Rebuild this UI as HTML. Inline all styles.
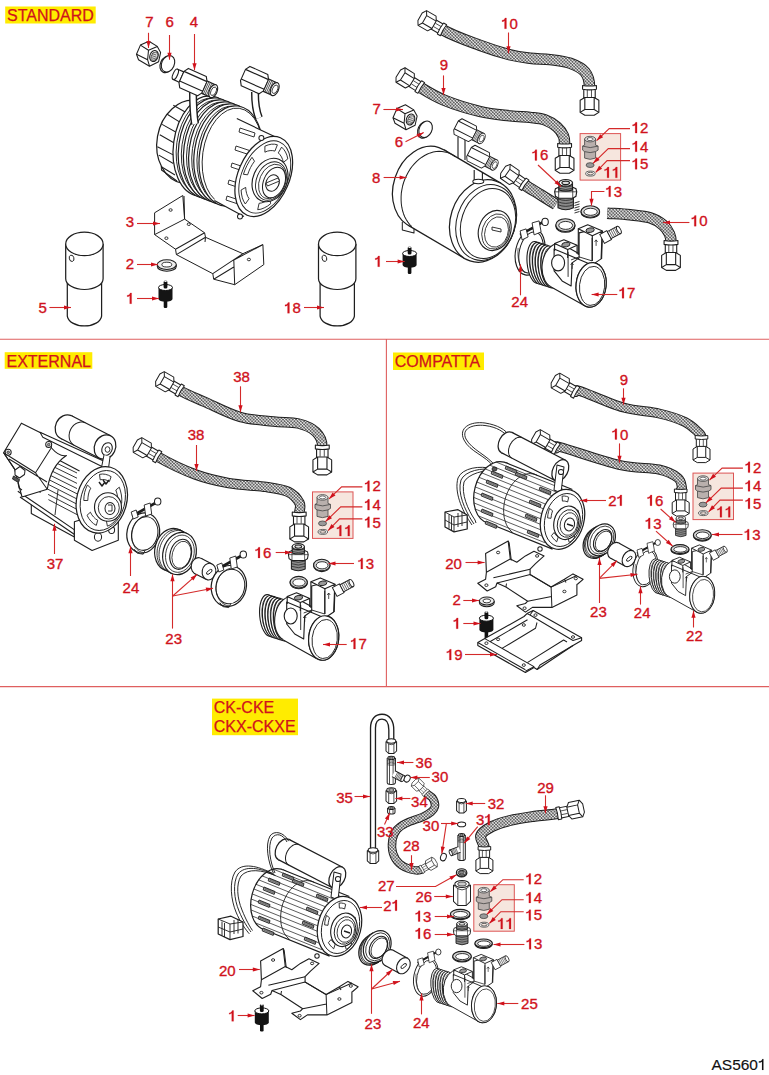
<!DOCTYPE html>
<html><head><meta charset="utf-8"><style>
html,body{margin:0;padding:0;background:#fff;}
svg{position:absolute;left:0;top:0;display:block;}
text{font-family:"Liberation Sans",sans-serif;}
</style></head><body>
<svg width="769" height="1075" viewBox="0 0 769 1075">
<defs>
<pattern id="br" patternUnits="userSpaceOnUse" width="2.3" height="2.3" patternTransform="rotate(45)">
<rect width="2.3" height="2.3" fill="#222"/><circle cx="1.15" cy="1.15" r="0.98" fill="#fff"/>
</pattern>
</defs>
<rect width="769" height="1075" fill="#fff"/>
<g stroke="#df5f5f" stroke-width="1.1">
<line x1="0" y1="339.3" x2="769" y2="339.3"/>
<line x1="386.4" y1="339" x2="386.4" y2="686.5"/>
<line x1="0" y1="686.6" x2="769" y2="686.6"/>
</g>
<g transform="translate(0,0)">
<path d="M67.3,282 L67.3,316.1 A17.2,10.7 0 0 0 101.6,316.1 L101.6,282" fill="#fff" stroke="#1e1e1e" stroke-width="1.23" stroke-linejoin="round" />
<path d="M65.7,243.9 L65.7,278.7 A18.7,10.8 0 0 0 103.1,278.7 L103.1,243.9" fill="#fff" stroke="#1e1e1e" stroke-width="1.23" stroke-linejoin="round" />
<ellipse cx="84.4" cy="243.9" rx="18.7" ry="11.7" transform="rotate(0 84.4 243.9)" fill="#fff" stroke="#1e1e1e" stroke-width="1.23"/>
<ellipse cx="71.6" cy="258.3" rx="2.3" ry="3.2" transform="rotate(-15 71.6 258.3)" fill="#fff" stroke="#1e1e1e" stroke-width="0.90"/>
</g>
<g transform="translate(252.8,0)">
<path d="M67.3,282 L67.3,316.1 A17.2,10.7 0 0 0 101.6,316.1 L101.6,282" fill="#fff" stroke="#1e1e1e" stroke-width="1.23" stroke-linejoin="round" />
<path d="M65.7,243.9 L65.7,278.7 A18.7,10.8 0 0 0 103.1,278.7 L103.1,243.9" fill="#fff" stroke="#1e1e1e" stroke-width="1.23" stroke-linejoin="round" />
<ellipse cx="84.4" cy="243.9" rx="18.7" ry="11.7" transform="rotate(0 84.4 243.9)" fill="#fff" stroke="#1e1e1e" stroke-width="1.23"/>
<ellipse cx="71.6" cy="258.3" rx="2.3" ry="3.2" transform="rotate(-15 71.6 258.3)" fill="#fff" stroke="#1e1e1e" stroke-width="0.90"/>
</g>
<g transform="translate(149,54)" fill="#fff" stroke="#1e1e1e" stroke-width="1.05" stroke-linejoin="round">
<path d="M-8.6,-8.9 L-0.1,-12.8 L8.3,-7.6 L11.6,-1.4 L9.6,7.7 L0.5,12.2 L-10.5,5.7 L-12.5,0.2 Z"/>
<path d="M-8.6,-8.9 L-0.5,-3.7 L8.3,-7.6 M-0.5,-3.7 L-1.4,5.7 L0.5,12.2 M-12.5,0.2 L-1.4,5.7" fill="none"/>
<ellipse cx="5" cy="2" rx="4.1" ry="5.6" transform="rotate(20 5 2)"/>
<ellipse cx="5.4" cy="2.3" rx="3" ry="4.3" transform="rotate(20 5.4 2.3)" fill="#ddd" stroke-width="0.6"/>
<path d="M2.8,-0.5 L7.2,1 M2.5,1.5 L7.4,3.2 M2.6,3.6 L7,5.2" fill="none" stroke-width="0.6"/>
</g>
<ellipse cx="166.7" cy="64.39999999999999" rx="6.3" ry="8.6" transform="rotate(25 166.7 64.39999999999999)" fill="#fff" stroke="#1e1e1e" stroke-width="1.12"/>
<ellipse cx="168" cy="63.8" rx="6.3" ry="8.6" transform="rotate(25 168 63.8)" fill="#fff" stroke="#1e1e1e" stroke-width="1.12"/>
<ellipse cx="190" cy="142" rx="33" ry="42" transform="rotate(10 190 142)" fill="#fff" stroke="#1e1e1e" stroke-width="1.23"/>
<path d="M173.3,105.3 L189.1,114.2 M167.2,114.2 L183.5,124.4 M162.1,124.4 L178.8,133.7 M159.8,134.7 L176,144 M157.4,146.7 L173.7,155.1 M158.8,155.1 L173.3,163.5 M161,166.5 L175,175 M161.2,166.3 L161.5,170 L177,181" fill="none" stroke="#1e1e1e" stroke-width="1.01" stroke-linejoin="round" />
<ellipse cx="205.0" cy="146.0" rx="31.5" ry="50.5" transform="rotate(8 205.0 146.0)" fill="#fff" stroke="#1e1e1e" stroke-width="1.23"/>
<ellipse cx="206.4" cy="146.6" rx="29.8" ry="48.8" transform="rotate(8 206.4 146.6)" fill="none" stroke="#1e1e1e" stroke-width="0.90"/>
<ellipse cx="210.2" cy="148.0" rx="31.5" ry="50.5" transform="rotate(8 210.2 148.0)" fill="#fff" stroke="#1e1e1e" stroke-width="1.23"/>
<ellipse cx="211.6" cy="148.6" rx="29.8" ry="48.8" transform="rotate(8 211.6 148.6)" fill="none" stroke="#1e1e1e" stroke-width="0.90"/>
<ellipse cx="215.4" cy="150.0" rx="31.5" ry="50.5" transform="rotate(8 215.4 150.0)" fill="#fff" stroke="#1e1e1e" stroke-width="1.23"/>
<ellipse cx="216.8" cy="150.6" rx="29.8" ry="48.8" transform="rotate(8 216.8 150.6)" fill="none" stroke="#1e1e1e" stroke-width="0.90"/>
<ellipse cx="220.6" cy="152.0" rx="31.5" ry="50.5" transform="rotate(8 220.6 152.0)" fill="#fff" stroke="#1e1e1e" stroke-width="1.23"/>
<ellipse cx="222.0" cy="152.6" rx="29.8" ry="48.8" transform="rotate(8 222.0 152.6)" fill="none" stroke="#1e1e1e" stroke-width="0.90"/>
<ellipse cx="225.8" cy="154.0" rx="31.5" ry="50.5" transform="rotate(8 225.8 154.0)" fill="#fff" stroke="#1e1e1e" stroke-width="1.23"/>
<ellipse cx="227.20000000000002" cy="154.6" rx="29.8" ry="48.8" transform="rotate(8 227.20000000000002 154.6)" fill="none" stroke="#1e1e1e" stroke-width="0.90"/>
<ellipse cx="231.0" cy="156.0" rx="31.5" ry="50.5" transform="rotate(8 231.0 156.0)" fill="#fff" stroke="#1e1e1e" stroke-width="1.23"/>
<ellipse cx="232.4" cy="156.6" rx="29.8" ry="48.8" transform="rotate(8 232.4 156.6)" fill="none" stroke="#1e1e1e" stroke-width="0.90"/>
<path d="M236.8,118.5 L274.5,136.5 L244,216.5 L214.4,200.4 Z" fill="#fff" stroke="#1e1e1e" stroke-width="0.00" stroke-linejoin="round" />
<path d="M236.8,118.5 L274.5,136.6 M244,216.6 L214.4,200.4" fill="none" stroke="#1e1e1e" stroke-width="1.12" stroke-linejoin="round" />
<path d="M240,128 l15,5 l-1,4 l-15,-5 Z" fill="#fff" stroke="#1e1e1e" stroke-width="0.90" stroke-linejoin="round" />
<path d="M236,146 l15,5 l-1,4 l-15,-5 Z" fill="#fff" stroke="#1e1e1e" stroke-width="0.90" stroke-linejoin="round" />
<path d="M232,163 l15,5 l-1,4 l-15,-5 Z" fill="#fff" stroke="#1e1e1e" stroke-width="0.90" stroke-linejoin="round" />
<path d="M229,180 l15,5 l-1,4 l-15,-5 Z" fill="#fff" stroke="#1e1e1e" stroke-width="0.90" stroke-linejoin="round" />
<path d="M227,196 l15,5 l-1,4 l-15,-5 Z" fill="#fff" stroke="#1e1e1e" stroke-width="0.90" stroke-linejoin="round" />
<ellipse cx="263.75" cy="176.45" rx="25.6" ry="42.2" transform="rotate(23.3 263.75 176.45)" fill="#fff" stroke="#1e1e1e" stroke-width="1.23"/>
<ellipse cx="264.75" cy="176.95" rx="23.040000000000003" ry="37.980000000000004" transform="rotate(23.3 264.75 176.95)" fill="none" stroke="#1e1e1e" stroke-width="0.90"/>
<path d="M281.6,147.1 L283.7,149.3 L285.5,152.0 L286.9,155.2 L287.8,158.9 L283.3,162.4 L282.6,159.5 L281.5,156.9 L280.0,154.7 L278.3,152.9 Z" fill="#fff" stroke="#1e1e1e" stroke-width="0.90" stroke-linejoin="round" />
<path d="M287.5,173.9 L286.5,178.5 L284.9,183.0 L283.0,187.5 L280.8,191.7 L277.6,188.8 L279.5,185.4 L281.0,181.8 L282.2,178.2 L283.1,174.5 Z" fill="#fff" stroke="#1e1e1e" stroke-width="0.90" stroke-linejoin="round" />
<path d="M270.7,203.7 L267.5,206.1 L264.2,207.9 L260.9,209.2 L257.7,209.7 L259.1,203.3 L261.7,202.9 L264.3,201.9 L266.9,200.4 L269.6,198.5 Z" fill="#fff" stroke="#1e1e1e" stroke-width="0.90" stroke-linejoin="round" />
<path d="M245.3,204.0 L243.6,201.1 L242.3,197.8 L241.5,194.0 L241.1,190.0 L245.7,187.4 L246.0,190.7 L246.7,193.7 L247.7,196.4 L249.1,198.7 Z" fill="#fff" stroke="#1e1e1e" stroke-width="0.90" stroke-linejoin="round" />
<path d="M243.4,174.3 L245.0,169.8 L247.0,165.4 L249.4,161.2 L252.0,157.3 L254.5,161.2 L252.4,164.3 L250.5,167.6 L248.9,171.2 L247.6,174.8 Z" fill="#fff" stroke="#1e1e1e" stroke-width="0.90" stroke-linejoin="round" />
<path d="M264.9,146.2 L268.2,144.9 L271.4,144.2 L274.5,144.2 L277.4,144.8 L274.9,151.1 L272.6,150.6 L270.1,150.6 L267.5,151.1 L264.9,152.2 Z" fill="#fff" stroke="#1e1e1e" stroke-width="0.90" stroke-linejoin="round" />
<ellipse cx="270" cy="180" rx="17" ry="22.5" transform="rotate(23.3 270 180)" fill="#fff" stroke="#1e1e1e" stroke-width="1.12"/>
<ellipse cx="271" cy="181" rx="14.5" ry="20" transform="rotate(23.3 271 181)" fill="none" stroke="#1e1e1e" stroke-width="0.90"/>
<ellipse cx="272" cy="181.5" rx="12.5" ry="18" transform="rotate(23.3 272 181.5)" fill="none" stroke="#1e1e1e" stroke-width="0.78"/>
<ellipse cx="274" cy="182.5" rx="10.5" ry="16" transform="rotate(23.3 274 182.5)" fill="#fff" stroke="#1e1e1e" stroke-width="1.01"/>
<ellipse cx="272.5" cy="183" rx="6.5" ry="8.5" transform="rotate(23.3 272.5 183)" fill="#fff" stroke="#1e1e1e" stroke-width="1.01"/>
<path d="M266,183 L278,178 L279.5,181 L267.5,186 Z" fill="#fff" stroke="#1e1e1e" stroke-width="0.90" stroke-linejoin="round" />
<ellipse cx="261.4" cy="138" rx="2.5" ry="2.5" transform="rotate(0 261.4 138)" fill="#fff" stroke="#1e1e1e" stroke-width="1.01"/>
<ellipse cx="240" cy="216.5" rx="2.5" ry="2.5" transform="rotate(0 240 216.5)" fill="#fff" stroke="#1e1e1e" stroke-width="1.01"/>
<path d="M193,90 C193,102 193,112 195,124" fill="none" stroke="#1e1e1e" stroke-width="8.06" stroke-linejoin="round" />
<path d="M193,90 C193,102 193,112 195,124" fill="none" stroke="#fff" stroke-width="5.2"/>
<path d="M255,92 C255,102 255.5,110 259,118" fill="none" stroke="#1e1e1e" stroke-width="8.06" stroke-linejoin="round" />
<path d="M255,92 C255,102 255.5,110 259,118" fill="none" stroke="#fff" stroke-width="5.2"/>
<g transform="translate(181.5,77) rotate(24) scale(1.12)" fill="#fff" stroke="#1e1e1e" stroke-width="1" stroke-linejoin="round">
<path d="M-6,-5 L0,-5 L0,5 L-6,5 Z"/>
<ellipse cx="-6" cy="0" rx="2" ry="5"/>
<path d="M0,-5.5 L2.5,-9.5 L20,-9.5 L22.5,-5.5 L22.5,5.5 L20,9.5 L2.5,9.5 L0,5.5 Z"/>
<path d="M0,-5.5 L22.5,-5.5 M0,4 L22.5,4" fill="none"/>
<path d="M22.5,-6 L31,-6 L31,6 L22.5,6 Z"/>
<path d="M24,-6 L24,6 M25.5,-6 L25.5,6 M27,-6 L27,6 M28.5,-6 L28.5,6" fill="none" stroke-width="0.6"/>
<ellipse cx="31" cy="0" rx="3.4" ry="6.2"/>
<ellipse cx="31.3" cy="0" rx="2.2" ry="4" stroke-width="0.7"/>
</g>
<g transform="translate(243,75) rotate(24) scale(1.12)" fill="#fff" stroke="#1e1e1e" stroke-width="1" stroke-linejoin="round">
<path d="M0,-5.5 L2.5,-9.5 L20,-9.5 L22.5,-5.5 L22.5,5.5 L20,9.5 L2.5,9.5 L0,5.5 Z"/>
<path d="M0,-5.5 L22.5,-5.5 M0,4 L22.5,4" fill="none"/>
<path d="M22.5,-6 L31,-6 L31,6 L22.5,6 Z"/>
<path d="M24,-6 L24,6 M25.5,-6 L25.5,6 M27,-6 L27,6 M28.5,-6 L28.5,6" fill="none" stroke-width="0.6"/>
<ellipse cx="31" cy="0" rx="3.4" ry="6.2"/>
<ellipse cx="31.3" cy="0" rx="2.2" ry="4" stroke-width="0.7"/>
</g>
<polygon points="154.6,212.8 182.8,195.5 184.6,219.1 204.6,232.8 205.5,237.3 242.9,253.7 262.9,244.6 263.8,264.6 234.7,284.7 213.7,279.2 212.8,273.7 176.4,254.6 175.5,249.2 154.6,234.6" fill="#fff" stroke="#1e1e1e" stroke-width="1" stroke-linejoin="round"/>
<path d="M184,196 L184.6,219.1 M154.6,234.6 L184.6,219.1 M175.5,249.2 L204.6,232.8 M176.4,254.6 L205.5,237.3 M212.8,273.7 L242.9,253.7 M213.7,279.2 L233.8,267 M233.8,260 L234.7,284.7 M233.8,260 L262.9,244.6 M205.5,237.3 L205,242" fill="none" stroke="#1e1e1e" stroke-width="1.01" stroke-linejoin="round" />
<ellipse cx="170.6" cy="210" rx="1.6" ry="1.3" transform="rotate(0 170.6 210)" fill="#fff" stroke="#1e1e1e" stroke-width="0.90"/>
<ellipse cx="188.8" cy="224.2" rx="1.6" ry="1.3" transform="rotate(0 188.8 224.2)" fill="#fff" stroke="#1e1e1e" stroke-width="0.90"/>
<ellipse cx="166.4" cy="238.2" rx="1.6" ry="1.3" transform="rotate(0 166.4 238.2)" fill="#fff" stroke="#1e1e1e" stroke-width="0.90"/>
<ellipse cx="248.9" cy="259.5" rx="1.6" ry="1.3" transform="rotate(0 248.9 259.5)" fill="#fff" stroke="#1e1e1e" stroke-width="0.90"/>
<path d="M157.3,264.6 L157.3,266.40000000000003 A9.5,4.8 0 0 0 176.3,266.40000000000003 L176.3,264.6" fill="#ddd" stroke="#1e1e1e" stroke-width="1.01" stroke-linejoin="round" />
<ellipse cx="166.8" cy="264.6" rx="9.5" ry="4.8" transform="rotate(0 166.8 264.6)" fill="#eee" stroke="#1e1e1e" stroke-width="1.01"/>
<ellipse cx="166.8" cy="264.6" rx="4.94" ry="2.4" transform="rotate(0 166.8 264.6)" fill="#fff" stroke="#1e1e1e" stroke-width="0.90"/>
<g transform="translate(165.5,280)">
<rect x="-1.8" y="19" width="3.6" height="9" rx="1.2" fill="#111"/>
<path d="M-7,7.5 L-7,19 A7,2.8 0 0 0 7,19 L7,7.5 Z" fill="#141414"/>
<ellipse cx="0" cy="7.5" rx="7" ry="3" fill="#fff" stroke="#111" stroke-width="1"/>
<rect x="-1.9" y="0.5" width="3.8" height="8" rx="1.5" fill="#111"/>
<ellipse cx="0" cy="1.3" rx="1.3" ry="0.8" fill="#fff"/>
</g>
<path d="M442.2,29.5 C454.0,36.3 468.7,41.1 480.0,45.3 C491.3,49.5 501.5,52.6 509.8,54.8 C518.1,56.9 523.3,57.4 530.0,58.2 C536.7,59.0 543.3,58.8 550.0,59.6 C556.7,60.4 564.2,61.1 570.0,63.2 C575.8,65.3 581.8,68.0 585.0,72.0 C588.2,76.0 589.5,81.8 589.5,87.1" fill="none" stroke="#1e1e1e" stroke-width="11.5"/>
<path d="M442.2,29.5 C454.0,36.3 468.7,41.1 480.0,45.3 C491.3,49.5 501.5,52.6 509.8,54.8 C518.1,56.9 523.3,57.4 530.0,58.2 C536.7,59.0 543.3,58.8 550.0,59.6 C556.7,60.4 564.2,61.1 570.0,63.2 C575.8,65.3 581.8,68.0 585.0,72.0 C588.2,76.0 589.5,81.8 589.5,87.1" fill="none" stroke="url(#br)" stroke-width="9.5"/>
<g transform="translate(422.3,18) rotate(30) scale(1.0)" fill="#fff" stroke="#1e1e1e" stroke-width="1" stroke-linejoin="round">
<path d="M13,-5.2 L22,-5.2 L22,5.2 L13,5.2 Z"/>
<path d="M14,-2 L22,-2 M14,1.8 L22,1.8" fill="none" stroke-width="0.7"/>
<path d="M21,-6.3 Q20,0 21,6.3 L24.5,6.3 Q23.5,0 24.5,-6.3 Z"/>
<path d="M-2.6,-4.25 L0,-8.5 L11,-8.5 L13.6,-4.25 L13.6,4.25 L11,8.5 L0,8.5 L-2.6,4.25 Z"/>
<path d="M0,-8.5 L2.6,-4.25 L2.6,4.25 L0,8.5 M2.6,-4.25 L13.6,-4.25 M2.6,4.25 L13.6,4.25" fill="none"/>
</g>
<g transform="translate(589.5,112.4) rotate(-90) scale(1.1)" fill="#fff" stroke="#1e1e1e" stroke-width="1" stroke-linejoin="round">
<path d="M13,-5.2 L22,-5.2 L22,5.2 L13,5.2 Z"/>
<path d="M14,-2 L22,-2 M14,1.8 L22,1.8" fill="none" stroke-width="0.7"/>
<path d="M21,-6.3 Q20,0 21,6.3 L24.5,6.3 Q23.5,0 24.5,-6.3 Z"/>
<path d="M-2.6,-4.25 L0,-8.5 L11,-8.5 L13.6,-4.25 L13.6,4.25 L11,8.5 L0,8.5 L-2.6,4.25 Z"/>
<path d="M0,-8.5 L2.6,-4.25 L2.6,4.25 L0,8.5 M2.6,-4.25 L13.6,-4.25 M2.6,4.25 L13.6,4.25" fill="none"/>
</g>
<path d="M420.0,87.2 C427.6,91.9 433.7,95.9 443.7,100.0 C453.7,104.1 468.9,108.8 480.0,111.5 C491.1,114.2 501.7,114.9 510.0,115.9 C518.3,116.9 524.2,116.7 530.0,117.4 C535.8,118.1 540.5,118.3 545.0,119.9 C549.5,121.5 553.9,124.3 557.0,127.0 C560.1,129.7 562.2,133.0 563.5,136.0 C564.8,139.0 564.6,142.0 564.6,145.1" fill="none" stroke="#1e1e1e" stroke-width="11.5"/>
<path d="M420.0,87.2 C427.6,91.9 433.7,95.9 443.7,100.0 C453.7,104.1 468.9,108.8 480.0,111.5 C491.1,114.2 501.7,114.9 510.0,115.9 C518.3,116.9 524.2,116.7 530.0,117.4 C535.8,118.1 540.5,118.3 545.0,119.9 C549.5,121.5 553.9,124.3 557.0,127.0 C560.1,129.7 562.2,133.0 563.5,136.0 C564.8,139.0 564.6,142.0 564.6,145.1" fill="none" stroke="url(#br)" stroke-width="9.5"/>
<g transform="translate(400.5,75) rotate(32) scale(1.0)" fill="#fff" stroke="#1e1e1e" stroke-width="1" stroke-linejoin="round">
<path d="M13,-5.2 L22,-5.2 L22,5.2 L13,5.2 Z"/>
<path d="M14,-2 L22,-2 M14,1.8 L22,1.8" fill="none" stroke-width="0.7"/>
<path d="M21,-6.3 Q20,0 21,6.3 L24.5,6.3 Q23.5,0 24.5,-6.3 Z"/>
<path d="M-2.6,-4.25 L0,-8.5 L11,-8.5 L13.6,-4.25 L13.6,4.25 L11,8.5 L0,8.5 L-2.6,4.25 Z"/>
<path d="M0,-8.5 L2.6,-4.25 L2.6,4.25 L0,8.5 M2.6,-4.25 L13.6,-4.25 M2.6,4.25 L13.6,4.25" fill="none"/>
</g>
<g transform="translate(564.6,170.4) rotate(-90) scale(1.1)" fill="#fff" stroke="#1e1e1e" stroke-width="1" stroke-linejoin="round">
<path d="M13,-5.2 L22,-5.2 L22,5.2 L13,5.2 Z"/>
<path d="M14,-2 L22,-2 M14,1.8 L22,1.8" fill="none" stroke-width="0.7"/>
<path d="M21,-6.3 Q20,0 21,6.3 L24.5,6.3 Q23.5,0 24.5,-6.3 Z"/>
<path d="M-2.6,-4.25 L0,-8.5 L11,-8.5 L13.6,-4.25 L13.6,4.25 L11,8.5 L0,8.5 L-2.6,4.25 Z"/>
<path d="M0,-8.5 L2.6,-4.25 L2.6,4.25 L0,8.5 M2.6,-4.25 L13.6,-4.25 M2.6,4.25 L13.6,4.25" fill="none"/>
</g>
<g transform="translate(405.5,117.5)" fill="#fff" stroke="#1e1e1e" stroke-width="1.05" stroke-linejoin="round">
<path d="M-8.6,-8.9 L-0.1,-12.8 L8.3,-7.6 L11.6,-1.4 L9.6,7.7 L0.5,12.2 L-10.5,5.7 L-12.5,0.2 Z"/>
<path d="M-8.6,-8.9 L-0.5,-3.7 L8.3,-7.6 M-0.5,-3.7 L-1.4,5.7 L0.5,12.2 M-12.5,0.2 L-1.4,5.7" fill="none"/>
<ellipse cx="5" cy="2" rx="4.1" ry="5.6" transform="rotate(20 5 2)"/>
<ellipse cx="5.4" cy="2.3" rx="3" ry="4.3" transform="rotate(20 5.4 2.3)" fill="#ddd" stroke-width="0.6"/>
<path d="M2.8,-0.5 L7.2,1 M2.5,1.5 L7.4,3.2 M2.6,3.6 L7,5.2" fill="none" stroke-width="0.6"/>
</g>
<ellipse cx="424.3" cy="129.9" rx="6.3" ry="8.6" transform="rotate(25 424.3 129.9)" fill="#fff" stroke="#1e1e1e" stroke-width="1.12"/>
<ellipse cx="425.6" cy="129.3" rx="6.3" ry="8.6" transform="rotate(25 425.6 129.3)" fill="#fff" stroke="#1e1e1e" stroke-width="1.12"/>
<path d="M524.1,184.5 C529.6,188.3 535.7,191.7 541.0,195.0 C546.3,198.3 551.0,201.3 556.0,204.5" fill="none" stroke="#1e1e1e" stroke-width="11.5"/>
<path d="M524.1,184.5 C529.6,188.3 535.7,191.7 541.0,195.0 C546.3,198.3 551.0,201.3 556.0,204.5" fill="none" stroke="url(#br)" stroke-width="9.5"/>
<g transform="translate(505.3,171.3) rotate(35) scale(1.0)" fill="#fff" stroke="#1e1e1e" stroke-width="1" stroke-linejoin="round">
<path d="M13,-5.2 L22,-5.2 L22,5.2 L13,5.2 Z"/>
<path d="M14,-2 L22,-2 M14,1.8 L22,1.8" fill="none" stroke-width="0.7"/>
<path d="M21,-6.3 Q20,0 21,6.3 L24.5,6.3 Q23.5,0 24.5,-6.3 Z"/>
<path d="M-2.6,-4.25 L0,-8.5 L11,-8.5 L13.6,-4.25 L13.6,4.25 L11,8.5 L0,8.5 L-2.6,4.25 Z"/>
<path d="M0,-8.5 L2.6,-4.25 L2.6,4.25 L0,8.5 M2.6,-4.25 L13.6,-4.25 M2.6,4.25 L13.6,4.25" fill="none"/>
</g>
<path d="M402.3,222 L402.3,230 L414,233 L414,226" fill="#fff" stroke="#1e1e1e" stroke-width="1.01" stroke-linejoin="round" />
<path d="M458,137 L458,158 M465,139 L465,160" fill="#fff" stroke="#1e1e1e" stroke-width="1.12" stroke-linejoin="round" />
<ellipse cx="426" cy="187.5" rx="32.5" ry="42" transform="rotate(18 426 187.5)" fill="#fff" stroke="#1e1e1e" stroke-width="1.23"/>
<path d="M407.9,225.1 L464.9,258.6 L501.1,183.4 L444.1,149.9 Z" fill="#fff" stroke="#1e1e1e" stroke-width="0.00" stroke-linejoin="round" />
<path d="M407.9,225.1 L464.9,258.6 M501.1,183.4 L444.1,149.9" fill="none" stroke="#1e1e1e" stroke-width="1.23" stroke-linejoin="round" />
<ellipse cx="483" cy="221" rx="32.5" ry="42" transform="rotate(18 483 221)" fill="#fff" stroke="#1e1e1e" stroke-width="1.23"/>
<path d="M411.8,226.6 L409.7,224.5 L407.9,222.1 L406.2,219.5 L404.7,216.7 L403.5,213.7 L402.5,210.5 L401.8,207.2 L401.3,203.8 L401.1,200.3 L401.1,196.7 L401.3,193.2 L401.9,189.6 L402.6,186.0 L403.6,182.5 L404.9,179.0 L406.4,175.7 L408.1,172.5 L409.9,169.4 L412.0,166.5 L414.3,163.9 L416.7,161.4 L419.2,159.2 L421.9,157.2 L424.6,155.5 L427.5,154.0 L430.3,152.9 L433.2,152.1 L436.2,151.6 L439.1,151.3 L442.0,151.4 L444.8,151.9 L447.5,152.6 L450.2,153.6 L452.7,154.9 L455.1,156.5" fill="none" stroke="#1e1e1e" stroke-width="1.01" stroke-linejoin="round" />
<ellipse cx="486" cy="222.5" rx="29.25" ry="38.64" transform="rotate(18 486 222.5)" fill="#fff" stroke="#1e1e1e" stroke-width="1.01"/>
<ellipse cx="488" cy="223.5" rx="26.65" ry="35.699999999999996" transform="rotate(18 488 223.5)" fill="#fff" stroke="#1e1e1e" stroke-width="1.01"/>
<ellipse cx="494.7" cy="230.5" rx="16" ry="20.5" transform="rotate(18 494.7 230.5)" fill="#fff" stroke="#1e1e1e" stroke-width="1.12"/>
<ellipse cx="495.7" cy="231.5" rx="13.5" ry="18" transform="rotate(18 495.7 231.5)" fill="none" stroke="#1e1e1e" stroke-width="0.78"/>
<ellipse cx="496.5" cy="232" rx="11.5" ry="15.5" transform="rotate(18 496.5 232)" fill="none" stroke="#1e1e1e" stroke-width="0.78"/>
<path d="M492,227 L501,229 L501,232 L492,230 Z" fill="#fff" stroke="#1e1e1e" stroke-width="0.90" stroke-linejoin="round" />
<path d="M474.2,170 L474.2,181 M482.4,172 L482.4,183" fill="#fff" stroke="#1e1e1e" stroke-width="1.12" stroke-linejoin="round" />
<ellipse cx="478.3" cy="181.5" rx="5.5" ry="2.2" transform="rotate(0 478.3 181.5)" fill="#fff" stroke="#1e1e1e" stroke-width="1.01"/>
<g transform="translate(456,125.5) rotate(27) scale(0.92)" fill="#fff" stroke="#1e1e1e" stroke-width="1" stroke-linejoin="round">
<path d="M0,-5.5 L2.5,-9.5 L20,-9.5 L22.5,-5.5 L22.5,5.5 L20,9.5 L2.5,9.5 L0,5.5 Z"/>
<path d="M0,-5.5 L22.5,-5.5 M0,4 L22.5,4" fill="none"/>
<path d="M22.5,-6 L31,-6 L31,6 L22.5,6 Z"/>
<path d="M24,-6 L24,6 M25.5,-6 L25.5,6 M27,-6 L27,6 M28.5,-6 L28.5,6" fill="none" stroke-width="0.6"/>
<ellipse cx="31" cy="0" rx="3.4" ry="6.2"/>
<ellipse cx="31.3" cy="0" rx="2.2" ry="4" stroke-width="0.7"/>
</g>
<g transform="translate(469,152) rotate(27) scale(0.92)" fill="#fff" stroke="#1e1e1e" stroke-width="1" stroke-linejoin="round">
<path d="M0,-5.5 L2.5,-9.5 L20,-9.5 L22.5,-5.5 L22.5,5.5 L20,9.5 L2.5,9.5 L0,5.5 Z"/>
<path d="M0,-5.5 L22.5,-5.5 M0,4 L22.5,4" fill="none"/>
<path d="M22.5,-6 L31,-6 L31,6 L22.5,6 Z"/>
<path d="M24,-6 L24,6 M25.5,-6 L25.5,6 M27,-6 L27,6 M28.5,-6 L28.5,6" fill="none" stroke-width="0.6"/>
<ellipse cx="31" cy="0" rx="3.4" ry="6.2"/>
<ellipse cx="31.3" cy="0" rx="2.2" ry="4" stroke-width="0.7"/>
</g>
<path d="M607.3,213.2 C614.9,213.7 622.9,214.0 630.0,214.8 C637.1,215.6 644.5,216.1 650.0,217.8 C655.5,219.5 659.8,222.3 663.0,225.0 C666.2,227.7 668.2,231.1 669.5,234.0 C670.8,236.9 671.0,239.6 671.0,242.5" fill="none" stroke="#1e1e1e" stroke-width="11.5"/>
<path d="M607.3,213.2 C614.9,213.7 622.9,214.0 630.0,214.8 C637.1,215.6 644.5,216.1 650.0,217.8 C655.5,219.5 659.8,222.3 663.0,225.0 C666.2,227.7 668.2,231.1 669.5,234.0 C670.8,236.9 671.0,239.6 671.0,242.5" fill="none" stroke="url(#br)" stroke-width="9.5"/>
<g transform="translate(671,267.5) rotate(-90) scale(1.1)" fill="#fff" stroke="#1e1e1e" stroke-width="1" stroke-linejoin="round">
<path d="M13,-5.2 L22,-5.2 L22,5.2 L13,5.2 Z"/>
<path d="M14,-2 L22,-2 M14,1.8 L22,1.8" fill="none" stroke-width="0.7"/>
<path d="M21,-6.3 Q20,0 21,6.3 L24.5,6.3 Q23.5,0 24.5,-6.3 Z"/>
<path d="M-2.6,-4.25 L0,-8.5 L11,-8.5 L13.6,-4.25 L13.6,4.25 L11,8.5 L0,8.5 L-2.6,4.25 Z"/>
<path d="M0,-8.5 L2.6,-4.25 L2.6,4.25 L0,8.5 M2.6,-4.25 L13.6,-4.25 M2.6,4.25 L13.6,4.25" fill="none"/>
</g>
<g transform="translate(565.7,180.3) scale(1.28)" fill="#fff" stroke="#1e1e1e" stroke-width="0.9">
<path d="M-6,12 L-6,21.5 Q0,24.5 6,21.5 L6,12 Z" fill="#8a8a8a"/>
<path d="M-6,14.5 Q0,17 6,14.5 M-6,16.8 Q0,19.3 6,16.8 M-6,19.1 Q0,21.6 6,19.1" fill="none" stroke-width="0.6"/>
<path d="M-8.6,9 L-8,12.5 L-5.5,14 L5.5,14 L8,12.5 L8.6,9 L8,6.5 L5.5,5.5 L-5.5,5.5 L-8,6.5 Z"/>
<path d="M-5.5,5.5 L-5.5,14 M5.5,5.5 L5.5,14 M-8.6,9 L8.6,9" fill="none" stroke-width="0.6"/>
<path d="M-5.3,2 L-5.3,7.5 Q0,9.5 5.3,7.5 L5.3,2 Z" fill="#909090"/>
<path d="M-5.3,4.3 Q0,6.3 5.3,4.3 M-5.3,6.2 Q0,8.2 5.3,6.2" fill="none" stroke-width="0.55"/>
<ellipse cx="0" cy="2" rx="5.3" ry="2.6"/><ellipse cx="0" cy="2" rx="3" ry="1.4" fill="#ddd"/>
</g>
<path d="M574.5,203 l5,-1.5 M574.5,205.5 l5,-1.5 M574.5,208 l5,-1.5 M574.5,210.5 l5,-1.5 M574.5,213 l5,-1.5" fill="none" stroke="#1e1e1e" stroke-width="0.90" stroke-linejoin="round" />
<ellipse cx="590.3" cy="212.3" rx="9.3" ry="5.7" transform="rotate(0 590.3 212.3)" fill="#bbb" stroke="#1e1e1e" stroke-width="1.12"/>
<ellipse cx="590.3" cy="211.5" rx="9.3" ry="5.7" transform="rotate(0 590.3 211.5)" fill="#d6d6d6" stroke="#1e1e1e" stroke-width="1.12"/>
<ellipse cx="590.5999999999999" cy="211.8" rx="6.696000000000001" ry="3.5340000000000003" transform="rotate(0 590.5999999999999 211.8)" fill="#fff" stroke="#1e1e1e" stroke-width="0.90"/>
<ellipse cx="565.4" cy="225.9" rx="9.6" ry="6.4" transform="rotate(0 565.4 225.9)" fill="#bbb" stroke="#1e1e1e" stroke-width="1.12"/>
<ellipse cx="565.4" cy="225.1" rx="9.6" ry="6.4" transform="rotate(0 565.4 225.1)" fill="#d6d6d6" stroke="#1e1e1e" stroke-width="1.12"/>
<ellipse cx="565.6999999999999" cy="225.4" rx="6.912" ry="3.968" transform="rotate(0 565.6999999999999 225.4)" fill="#fff" stroke="#1e1e1e" stroke-width="0.90"/>
<g transform="translate(591.1,284.9) scale(1.0)">
<g transform="translate(0,0)">
<ellipse cx="-61" cy="-33" rx="14.5" ry="23.5" transform="rotate(12 -61 -33)" fill="#fff" stroke="#1e1e1e" stroke-width="1.12"/>
<ellipse cx="-60" cy="-32.5" rx="11.8" ry="20.8" transform="rotate(12 -60 -32.5)" fill="#fff" stroke="#1e1e1e" stroke-width="1.01"/>
<path d="M-73,-37 C-74,-28 -72,-18 -66,-12" fill="none" stroke="#1e1e1e" stroke-width="0.67" stroke-linejoin="round" />
<path d="M-71,-50 L-46,-64" fill="none" stroke="#1e1e1e" stroke-width="2.46" stroke-linejoin="round" />
<path d="M-71,-50 L-46,-64" fill="none" stroke="#1e1e1e" stroke-width="1.01" stroke-linejoin="round" stroke="#fff"/>
<path d="M-71,-54 L-65,-56 L-63,-48 L-69,-45 Z" fill="#fff" stroke="#1e1e1e" stroke-width="0.9"/>
<path d="M-59,-62 L-52,-64 L-50,-53 L-57,-50 Z" fill="#fff" stroke="#1e1e1e" stroke-width="0.9"/>
<ellipse cx="-46" cy="-63" rx="3.2" ry="3.6" transform="rotate(0 -46 -63)" fill="#fff" stroke="#1e1e1e" stroke-width="1.01"/>
</g>
<ellipse cx="-55.0" cy="-22.5" rx="9" ry="21" transform="rotate(-5 -55.0 -22.5)" fill="#fff" stroke="#1e1e1e" stroke-width="1.12"/>
<ellipse cx="-54.1" cy="-22.2" rx="7.6" ry="19.5" transform="rotate(-5 -54.1 -22.2)" fill="none" stroke="#1e1e1e" stroke-width="0.67"/>
<ellipse cx="-52.2" cy="-21.6" rx="9" ry="21" transform="rotate(-5 -52.2 -21.6)" fill="#fff" stroke="#1e1e1e" stroke-width="1.12"/>
<ellipse cx="-51.300000000000004" cy="-21.3" rx="7.6" ry="19.5" transform="rotate(-5 -51.300000000000004 -21.3)" fill="none" stroke="#1e1e1e" stroke-width="0.67"/>
<ellipse cx="-49.4" cy="-20.7" rx="9" ry="21" transform="rotate(-5 -49.4 -20.7)" fill="#fff" stroke="#1e1e1e" stroke-width="1.12"/>
<ellipse cx="-48.5" cy="-20.4" rx="7.6" ry="19.5" transform="rotate(-5 -48.5 -20.4)" fill="none" stroke="#1e1e1e" stroke-width="0.67"/>
<ellipse cx="-46.6" cy="-19.8" rx="9" ry="21" transform="rotate(-5 -46.6 -19.8)" fill="#fff" stroke="#1e1e1e" stroke-width="1.12"/>
<ellipse cx="-45.7" cy="-19.5" rx="7.6" ry="19.5" transform="rotate(-5 -45.7 -19.5)" fill="none" stroke="#1e1e1e" stroke-width="0.67"/>
<ellipse cx="-43.8" cy="-18.9" rx="9" ry="21" transform="rotate(-5 -43.8 -18.9)" fill="#fff" stroke="#1e1e1e" stroke-width="1.12"/>
<ellipse cx="-42.9" cy="-18.599999999999998" rx="7.6" ry="19.5" transform="rotate(-5 -42.9 -18.599999999999998)" fill="none" stroke="#1e1e1e" stroke-width="0.67"/>
<ellipse cx="-41.0" cy="-18.0" rx="9" ry="21" transform="rotate(-5 -41.0 -18.0)" fill="#fff" stroke="#1e1e1e" stroke-width="1.12"/>
<ellipse cx="-40.1" cy="-17.7" rx="7.6" ry="19.5" transform="rotate(-5 -40.1 -17.7)" fill="none" stroke="#1e1e1e" stroke-width="0.67"/>
<ellipse cx="-34" cy="-19" rx="15" ry="22.3" transform="rotate(6 -34 -19)" fill="#fff" stroke="#1e1e1e" stroke-width="1.12"/>
<path d="M-40.4,1.9 L-6.4,20.9 L6.4,-20.9 L-27.6,-39.9 Z" fill="#fff" stroke="#1e1e1e" stroke-width="0.00" stroke-linejoin="round" />
<path d="M-40.4,1.9 L-6.4,20.9 M6.4,-20.9 L-27.6,-39.9" fill="none" stroke="#1e1e1e" stroke-width="1.12" stroke-linejoin="round" />
<ellipse cx="0" cy="0" rx="15" ry="22.3" transform="rotate(6 0 0)" fill="#fff" stroke="#1e1e1e" stroke-width="1.12"/>
<path d="M-37,-36 L-37,-14 L-29,-4 L-20,1 L-19,-22 L-12,-27 L-12,-52 L0,-55 L11,-52 L10,-26 L1,-20 Z" fill="#fff" stroke="#1e1e1e" stroke-width="1.12" stroke-linejoin="round" />
<path d="M-23,-33 L-23,-8 M-20,-25 L-12,-28 M-12,-28 L1,-24 M1,-24 L1,-47" fill="none" stroke="#1e1e1e" stroke-width="0.90" stroke-linejoin="round" />
<path d="M-36.5,-41.5 L-27.2,-45.2 L-14,-39.6 L-23.4,-35.4 Z" fill="#fff" stroke="#1e1e1e" stroke-width="1.12" stroke-linejoin="round" />
<path d="M-36.5,-41.5 L-36.5,-34 M-23.4,-35.4 L-23.4,-27 M-14,-39.6 L-14,-31" fill="none" stroke="#1e1e1e" stroke-width="1.12" stroke-linejoin="round" />
<ellipse cx="-25.2" cy="-40.3" rx="4.2" ry="2.3" transform="rotate(-10 -25.2 -40.3)" fill="#999" stroke="#1e1e1e" stroke-width="0.90"/>
<path d="M-12.8,-56.2 L-3.4,-60.1 L11.4,-53.8 L1.2,-49.2 Z" fill="#fff" stroke="#1e1e1e" stroke-width="1.12" stroke-linejoin="round" />
<path d="M-12.8,-56.2 L-12.8,-30 M1.2,-49.2 L1.2,-24 M11.4,-53.8 L10.5,-26" fill="none" stroke="#1e1e1e" stroke-width="1.12" stroke-linejoin="round" />
<ellipse cx="-1" cy="-54.7" rx="4.2" ry="2.3" transform="rotate(-10 -1 -54.7)" fill="#999" stroke="#1e1e1e" stroke-width="0.90"/>
<g transform="translate(11,-46) rotate(-28)" fill="#fff" stroke="#1e1e1e" stroke-width="0.9">
<path d="M0,-5 L8,-5 L8,5 L0,5 Z"/><path d="M8,-4 L19,-4 L19,4 L8,4 Z"/>
<path d="M10,-4 L10,4 M12,-4 L12,4 M14,-4 L14,4 M16,-4 L16,4" fill="none" stroke-width="0.6"/>
<ellipse cx="19" cy="0" rx="1.8" ry="4"/>
</g>
<ellipse cx="-33" cy="-22" rx="6.5" ry="8" transform="rotate(0 -33 -22)" fill="#fff" stroke="#1e1e1e" stroke-width="1.12"/>
<path d="M-19,-22 l0,6 M-20.5,-20 l1.5,-2 l1.5,2 M5,-45 l0,6 M3.5,-43 l1.5,-2 l1.5,2" fill="none" stroke="#1e1e1e" stroke-width="0.78" stroke-linejoin="round" />
<ellipse cx="0" cy="0" rx="15" ry="22.3" transform="rotate(6 0 0)" fill="#fff" stroke="#1e1e1e" stroke-width="1.23"/>
<ellipse cx="1" cy="1" rx="12.6" ry="19.6" transform="rotate(6 1 1)" fill="#fff" stroke="#1e1e1e" stroke-width="0.90"/>
</g>
<g transform="translate(409.6,246)">
<rect x="-1.8" y="19" width="3.6" height="9" rx="1.2" fill="#111"/>
<path d="M-7,7.5 L-7,19 A7,2.8 0 0 0 7,19 L7,7.5 Z" fill="#141414"/>
<ellipse cx="0" cy="7.5" rx="7" ry="3" fill="#fff" stroke="#111" stroke-width="1"/>
<rect x="-1.9" y="0.5" width="3.8" height="8" rx="1.5" fill="#111"/>
<ellipse cx="0" cy="1.3" rx="1.3" ry="0.8" fill="#fff"/>
</g>
<path d="M179.9,390.5 C187.9,395.1 195.0,397.6 205.0,402.0 C215.0,406.4 228.8,413.8 240.2,417.0 C251.6,420.2 263.8,420.4 273.5,421.5 C283.2,422.6 291.2,421.8 298.3,423.5 C305.4,425.2 312.0,428.1 316.0,432.0 C320.0,435.9 322.3,441.4 322.3,446.7" fill="none" stroke="#1e1e1e" stroke-width="10.5"/>
<path d="M179.9,390.5 C187.9,395.1 195.0,397.6 205.0,402.0 C215.0,406.4 228.8,413.8 240.2,417.0 C251.6,420.2 263.8,420.4 273.5,421.5 C283.2,422.6 291.2,421.8 298.3,423.5 C305.4,425.2 312.0,428.1 316.0,432.0 C320.0,435.9 322.3,441.4 322.3,446.7" fill="none" stroke="url(#br)" stroke-width="8.5"/>
<g transform="translate(160,379) rotate(30) scale(1.0)" fill="#fff" stroke="#1e1e1e" stroke-width="1" stroke-linejoin="round">
<path d="M13,-5.2 L22,-5.2 L22,5.2 L13,5.2 Z"/>
<path d="M14,-2 L22,-2 M14,1.8 L22,1.8" fill="none" stroke-width="0.7"/>
<path d="M21,-6.3 Q20,0 21,6.3 L24.5,6.3 Q23.5,0 24.5,-6.3 Z"/>
<path d="M-2.6,-4.25 L0,-8.5 L11,-8.5 L13.6,-4.25 L13.6,4.25 L11,8.5 L0,8.5 L-2.6,4.25 Z"/>
<path d="M0,-8.5 L2.6,-4.25 L2.6,4.25 L0,8.5 M2.6,-4.25 L13.6,-4.25 M2.6,4.25 L13.6,4.25" fill="none"/>
</g>
<g transform="translate(322.3,472) rotate(-90) scale(1.1)" fill="#fff" stroke="#1e1e1e" stroke-width="1" stroke-linejoin="round">
<path d="M13,-5.2 L22,-5.2 L22,5.2 L13,5.2 Z"/>
<path d="M14,-2 L22,-2 M14,1.8 L22,1.8" fill="none" stroke-width="0.7"/>
<path d="M21,-6.3 Q20,0 21,6.3 L24.5,6.3 Q23.5,0 24.5,-6.3 Z"/>
<path d="M-2.6,-4.25 L0,-8.5 L11,-8.5 L13.6,-4.25 L13.6,4.25 L11,8.5 L0,8.5 L-2.6,4.25 Z"/>
<path d="M0,-8.5 L2.6,-4.25 L2.6,4.25 L0,8.5 M2.6,-4.25 L13.6,-4.25 M2.6,4.25 L13.6,4.25" fill="none"/>
</g>
<path d="M157.4,456.5 C169.6,463.5 183.6,470.1 195.5,474.5 C207.4,478.9 217.1,481.0 228.8,483.1 C240.5,485.2 256.0,485.4 265.9,486.9 C275.8,488.3 282.5,489.1 288.1,491.8 C293.7,494.5 297.6,499.4 299.5,503.0 C301.4,506.6 299.2,510.1 299.2,513.7" fill="none" stroke="#1e1e1e" stroke-width="10.5"/>
<path d="M157.4,456.5 C169.6,463.5 183.6,470.1 195.5,474.5 C207.4,478.9 217.1,481.0 228.8,483.1 C240.5,485.2 256.0,485.4 265.9,486.9 C275.8,488.3 282.5,489.1 288.1,491.8 C293.7,494.5 297.6,499.4 299.5,503.0 C301.4,506.6 299.2,510.1 299.2,513.7" fill="none" stroke="url(#br)" stroke-width="8.5"/>
<g transform="translate(137.5,445) rotate(30) scale(1.0)" fill="#fff" stroke="#1e1e1e" stroke-width="1" stroke-linejoin="round">
<path d="M13,-5.2 L22,-5.2 L22,5.2 L13,5.2 Z"/>
<path d="M14,-2 L22,-2 M14,1.8 L22,1.8" fill="none" stroke-width="0.7"/>
<path d="M21,-6.3 Q20,0 21,6.3 L24.5,6.3 Q23.5,0 24.5,-6.3 Z"/>
<path d="M-2.6,-4.25 L0,-8.5 L11,-8.5 L13.6,-4.25 L13.6,4.25 L11,8.5 L0,8.5 L-2.6,4.25 Z"/>
<path d="M0,-8.5 L2.6,-4.25 L2.6,4.25 L0,8.5 M2.6,-4.25 L13.6,-4.25 M2.6,4.25 L13.6,4.25" fill="none"/>
</g>
<g transform="translate(299.2,539) rotate(-90) scale(1.1)" fill="#fff" stroke="#1e1e1e" stroke-width="1" stroke-linejoin="round">
<path d="M13,-5.2 L22,-5.2 L22,5.2 L13,5.2 Z"/>
<path d="M14,-2 L22,-2 M14,1.8 L22,1.8" fill="none" stroke-width="0.7"/>
<path d="M21,-6.3 Q20,0 21,6.3 L24.5,6.3 Q23.5,0 24.5,-6.3 Z"/>
<path d="M-2.6,-4.25 L0,-8.5 L11,-8.5 L13.6,-4.25 L13.6,4.25 L11,8.5 L0,8.5 L-2.6,4.25 Z"/>
<path d="M0,-8.5 L2.6,-4.25 L2.6,4.25 L0,8.5 M2.6,-4.25 L13.6,-4.25 M2.6,4.25 L13.6,4.25" fill="none"/>
</g>
<path d="M31.3,504.7 L31.3,513.5 L74.4,537 L74.4,528" fill="#fff" stroke="#1e1e1e" stroke-width="1.12" stroke-linejoin="round" />
<path d="M17.8,491.2 L50,455 L80,470 L78.6,532.6 Z" fill="#fff" stroke="#1e1e1e" stroke-width="0.00" stroke-linejoin="round" />
<path d="M17.8,491.2 L78.6,532.6 M20,497 L76,535.5" fill="none" stroke="#1e1e1e" stroke-width="1.12" stroke-linejoin="round" />
<path d="M50.7,455.7 L79.5,471" fill="none" stroke="#1e1e1e" stroke-width="1.12" stroke-linejoin="round" />
<path d="M46.0,458.0 L77.0,473.0" fill="none" stroke="#1e1e1e" stroke-width="0.90" stroke-linejoin="round" />
<path d="M46.3,463.2 L77.0,478.2" fill="none" stroke="#1e1e1e" stroke-width="0.90" stroke-linejoin="round" />
<path d="M46.6,468.4 L77.0,483.4" fill="none" stroke="#1e1e1e" stroke-width="0.90" stroke-linejoin="round" />
<path d="M46.9,473.6 L77.0,488.6" fill="none" stroke="#1e1e1e" stroke-width="0.90" stroke-linejoin="round" />
<path d="M47.2,478.8 L77.0,493.8" fill="none" stroke="#1e1e1e" stroke-width="0.90" stroke-linejoin="round" />
<path d="M47.5,484.0 L77.0,499.0" fill="none" stroke="#1e1e1e" stroke-width="0.90" stroke-linejoin="round" />
<path d="M47.8,489.2 L77.0,504.2" fill="none" stroke="#1e1e1e" stroke-width="0.90" stroke-linejoin="round" />
<path d="M48.1,494.4 L77.0,509.4" fill="none" stroke="#1e1e1e" stroke-width="0.90" stroke-linejoin="round" />
<path d="M48.4,499.6 L77.0,514.6" fill="none" stroke="#1e1e1e" stroke-width="0.90" stroke-linejoin="round" />
<path d="M46,462 L40,493 M58,490 L55,515" fill="none" stroke="#1e1e1e" stroke-width="0.90" stroke-linejoin="round" />
<path d="M3.6,452.8 L21.4,423.2 L49.6,437.3 L51.5,448 C55,452 60,457 66.4,455.5 C58,461 50,472 47.3,489.2 L22,497 L14.6,469.1 Z" fill="#fff" stroke="#1e1e1e" stroke-width="1.12" stroke-linejoin="round" />
<path d="M3.6,452.8 L35.5,472.8 L51,448.2 M35.5,472.8 L47.3,489.2 M3.6,452.8 L14.6,469.1 M9,459 L47,482" fill="none" stroke="#1e1e1e" stroke-width="1.01" stroke-linejoin="round" />
<ellipse cx="8.2" cy="452.3" rx="3.0" ry="3.0" transform="rotate(0 8.2 452.3)" fill="#fff" stroke="#1e1e1e" stroke-width="1.01"/>
<ellipse cx="8.2" cy="452.3" rx="1.3" ry="1.3" transform="rotate(0 8.2 452.3)" fill="#999" stroke="#1e1e1e" stroke-width="0.67"/>
<ellipse cx="48.7" cy="444.6" rx="3.0" ry="3.0" transform="rotate(0 48.7 444.6)" fill="#fff" stroke="#1e1e1e" stroke-width="1.01"/>
<ellipse cx="48.7" cy="444.6" rx="1.3" ry="1.3" transform="rotate(0 48.7 444.6)" fill="#999" stroke="#1e1e1e" stroke-width="0.67"/>
<path d="M15,470 l5,-3.5 l5,4 l-0.5,4 l-5,3.5 l-4.5,-3 Z" fill="#fff" stroke="#1e1e1e" stroke-width="1.01" stroke-linejoin="round" />
<path d="M13.5,476 l6,3.5 l-1,3 l-6,-3.5 Z" fill="#555" stroke="#1e1e1e" stroke-width="0.90" stroke-linejoin="round" />
<path d="M18,483 l1,5 l3,2" fill="none" stroke="#1e1e1e" stroke-width="1.01" stroke-linejoin="round" />
<path d="M40,432.3 L108,463 L106,468.5 L42.8,437.3 Z" fill="#fff" stroke="#1e1e1e" stroke-width="1.01" stroke-linejoin="round" />
<ellipse cx="66" cy="427" rx="10.5" ry="12.5" transform="rotate(25 66 427)" fill="#fff" stroke="#1e1e1e" stroke-width="1.23"/>
<path d="M60.4,438.2 L99.4,458.2 L110.6,435.8 L71.6,415.8 Z" fill="#fff" stroke="#1e1e1e" stroke-width="0.00" stroke-linejoin="round" />
<path d="M60.4,438.2 L99.4,458.2 M110.6,435.8 L71.6,415.8" fill="none" stroke="#1e1e1e" stroke-width="1.23" stroke-linejoin="round" />
<ellipse cx="105" cy="447" rx="10.5" ry="12.5" transform="rotate(25 105 447)" fill="#fff" stroke="#1e1e1e" stroke-width="1.23"/>
<path d="M73.9,445.1 L73.1,444.6 L72.4,444.0 L71.8,443.3 L71.2,442.6 L70.7,441.8 L70.2,440.9 L69.8,440.0 L69.5,439.1 L69.3,438.1 L69.2,437.1 L69.1,436.0 L69.1,435.0 L69.3,433.9 L69.4,432.8 L69.7,431.8 L70.1,430.8 L70.5,429.8 L71.0,428.8 L71.5,427.9 L72.2,427.0 L72.9,426.2 L73.6,425.4 L74.4,424.7 L75.2,424.1 L76.1,423.5 L77.0,423.1 L77.9,422.7 L78.9,422.4 L79.8,422.2 L80.8,422.1 L81.7,422.0 L82.6,422.1 L83.5,422.3 L84.4,422.5 L85.3,422.9" fill="none" stroke="#1e1e1e" stroke-width="1.01" stroke-linejoin="round" />
<ellipse cx="107" cy="449" rx="5" ry="6.5" transform="rotate(25 107 449)" fill="#fff" stroke="#1e1e1e" stroke-width="1.12"/>
<ellipse cx="107.5" cy="449.5" rx="2.4" ry="2.8" transform="rotate(0 107.5 449.5)" fill="#fff" stroke="#1e1e1e" stroke-width="0.90"/>
<path d="M104,455 L101,470 L108,472 L110,457" fill="#fff" stroke="#1e1e1e" stroke-width="1.01" stroke-linejoin="round" />
<path d="M74.4,521.7 L118.3,508 L118.3,540.3 L92.1,550.4 L74.4,540.3 Z" fill="#fff" stroke="#1e1e1e" stroke-width="1.12" stroke-linejoin="round" />
<ellipse cx="98" cy="537" rx="3.6" ry="4.2" transform="rotate(0 98 537)" fill="#fff" stroke="#1e1e1e" stroke-width="1.01"/>
<ellipse cx="111.6" cy="530" rx="3.0" ry="3.6" transform="rotate(0 111.6 530)" fill="#fff" stroke="#1e1e1e" stroke-width="1.01"/>
<ellipse cx="101.8" cy="499.8" rx="25" ry="33.7" transform="rotate(15 101.8 499.8)" fill="#fff" stroke="#1e1e1e" stroke-width="1.23"/>
<ellipse cx="102.8" cy="500.5" rx="22" ry="30.5" transform="rotate(15 102.8 500.5)" fill="none" stroke="#1e1e1e" stroke-width="0.90"/>
<path d="M99.5,474.4 L102.5,474.0 L105.4,474.3 L108.4,475.2 L111.1,476.7 L109.4,481.6 L107.2,480.4 L104.9,479.7 L102.5,479.5 L100.2,479.8 Z" fill="#fff" stroke="#1e1e1e" stroke-width="0.90" stroke-linejoin="round" />
<path d="M119.3,487.2 L120.5,491.0 L121.4,495.0 L121.8,499.1 L121.7,503.3 L117.7,502.7 L117.8,499.4 L117.5,496.1 L116.8,493.0 L115.8,490.0 Z" fill="#fff" stroke="#1e1e1e" stroke-width="0.90" stroke-linejoin="round" />
<path d="M117.4,517.5 L115.3,520.5 L112.9,523.0 L110.2,524.9 L107.4,526.2 L106.4,520.9 L108.7,519.8 L110.7,518.3 L112.6,516.3 L114.3,514.0 Z" fill="#fff" stroke="#1e1e1e" stroke-width="0.90" stroke-linejoin="round" />
<path d="M96.3,525.4 L93.6,523.7 L91.1,521.4 L88.9,518.6 L87.0,515.3 L90.4,512.2 L91.8,514.8 L93.6,517.0 L95.5,518.9 L97.7,520.2 Z" fill="#fff" stroke="#1e1e1e" stroke-width="0.90" stroke-linejoin="round" />
<path d="M83.8,500.5 L84.0,496.4 L84.7,492.3 L85.9,488.5 L87.4,484.9 L90.7,488.2 L89.4,491.0 L88.5,494.0 L88.0,497.2 L87.8,500.5 Z" fill="#fff" stroke="#1e1e1e" stroke-width="0.90" stroke-linejoin="round" />
<ellipse cx="108" cy="507" rx="13.5" ry="14.3" transform="rotate(0 108 507)" fill="#fff" stroke="#1e1e1e" stroke-width="1.12"/>
<ellipse cx="108.8" cy="507.8" rx="10.5" ry="11.2" transform="rotate(0 108.8 507.8)" fill="none" stroke="#1e1e1e" stroke-width="0.90"/>
<ellipse cx="110" cy="508.5" rx="5" ry="6" transform="rotate(0 110 508.5)" fill="#fff" stroke="#1e1e1e" stroke-width="1.01"/>
<path d="M108,505 L112,505 L112,511 L108,511" fill="none" stroke="#1e1e1e" stroke-width="0.90" stroke-linejoin="round" />
<path d="M99,482 l3,4 l3,-4 M103,480 l3,4 l3,-4" fill="none" stroke="#1e1e1e" stroke-width="1.46" stroke-linejoin="round" />
<ellipse cx="143.2" cy="533" rx="16.2" ry="20.2" transform="rotate(12 143.2 533)" fill="#fff" stroke="#1e1e1e" stroke-width="1.23"/>
<ellipse cx="144.7" cy="533.5" rx="13.0" ry="17.0" transform="rotate(12 144.7 533.5)" fill="#fff" stroke="#1e1e1e" stroke-width="1.01"/>
<path d="M143.5,552.5 L142.3,552.3 L141.1,552.0 L140.0,551.5 L138.8,550.9 L137.8,550.2 L136.8,549.3 L135.9,548.4 L135.0,547.3 L134.3,546.1 L133.6,544.8 L133.1,543.5 L132.6,542.1 L132.2,540.6 L132.0,539.1 L131.8,537.5 L131.8,535.9 L131.8,534.3 L132.0,532.7 L132.3,531.0 L132.7,529.5 L133.2,527.9 L133.8,526.4 L134.5,525.0 L135.3,523.6 L136.1,522.3 L137.1,521.1 L138.1,520.0 L139.1,519.0 L140.3,518.1 L141.4,517.3 L142.6,516.7 L143.9,516.2 L145.1,515.8 L146.4,515.6 L147.6,515.5" fill="none" stroke="#1e1e1e" stroke-width="0.78" stroke-linejoin="round" />
<path d="M134.2,549.2 l3,4 l6,1 l2,-4" fill="none" stroke="#1e1e1e" stroke-width="0.90" stroke-linejoin="round" />
<path d="M132.2,516 l25,-14" fill="none" stroke="#1e1e1e" stroke-width="2.69" stroke-linejoin="round" />
<path d="M132.2,516 l25,-14" fill="none" stroke="#1e1e1e" stroke-width="1.12" stroke-linejoin="round" stroke="#fff"/>
<path d="M131.2,512 l5,-2 l2,7 l-5,2 Z" fill="#fff" stroke="#1e1e1e" stroke-width="0.9"/>
<path d="M144.2,505 l6,-2 l1.5,11 l-6,2 Z" fill="#fff" stroke="#1e1e1e" stroke-width="0.9"/>
<ellipse cx="157.7" cy="501.5" rx="3.2" ry="3.6" transform="rotate(0 157.7 501.5)" fill="#fff" stroke="#1e1e1e" stroke-width="1.01"/>
<ellipse cx="171.5" cy="549.5" rx="16.5" ry="21.5" transform="rotate(15 171.5 549.5)" fill="#fff" stroke="#1e1e1e" stroke-width="1.23"/>
<path d="M163.5,569.3 L171.5,573.3 L187.5,533.7 L179.5,529.7 Z" fill="#fff" stroke="#1e1e1e" stroke-width="0.00" stroke-linejoin="round" />
<path d="M163.5,569.3 L171.5,573.3 M187.5,533.7 L179.5,529.7" fill="none" stroke="#1e1e1e" stroke-width="1.23" stroke-linejoin="round" />
<ellipse cx="179.5" cy="553.5" rx="16.5" ry="21.5" transform="rotate(15 179.5 553.5)" fill="#fff" stroke="#1e1e1e" stroke-width="1.23"/>
<path d="M164.4,569.7 L163.2,568.8 L162.1,567.7 L161.1,566.5 L160.2,565.3 L159.4,563.9 L158.7,562.4 L158.1,560.8 L157.7,559.1 L157.3,557.4 L157.1,555.6 L157.0,553.8 L157.1,552.0 L157.2,550.1 L157.5,548.3 L158.0,546.4 L158.5,544.6 L159.2,542.9 L159.9,541.2 L160.8,539.6 L161.8,538.1 L162.9,536.6 L164.0,535.3 L165.3,534.1 L166.6,533.0 L167.9,532.0 L169.3,531.2 L170.8,530.6 L172.2,530.1 L173.7,529.7 L175.2,529.5 L176.6,529.5 L178.1,529.6 L179.5,529.9 L180.8,530.4 L182.1,531.0" fill="none" stroke="#1e1e1e" stroke-width="0.90" stroke-linejoin="round" />
<path d="M166.4,570.7 L165.2,569.8 L164.1,568.7 L163.1,567.5 L162.2,566.3 L161.4,564.9 L160.7,563.4 L160.1,561.8 L159.7,560.1 L159.3,558.4 L159.1,556.6 L159.0,554.8 L159.1,553.0 L159.2,551.1 L159.5,549.3 L160.0,547.4 L160.5,545.6 L161.2,543.9 L161.9,542.2 L162.8,540.6 L163.8,539.1 L164.9,537.6 L166.0,536.3 L167.3,535.1 L168.6,534.0 L169.9,533.0 L171.3,532.2 L172.8,531.6 L174.2,531.1 L175.7,530.7 L177.2,530.5 L178.6,530.5 L180.1,530.6 L181.5,530.9 L182.8,531.4 L184.1,532.0" fill="none" stroke="#1e1e1e" stroke-width="0.90" stroke-linejoin="round" />
<ellipse cx="180.7" cy="554.3" rx="10.56" ry="15.264999999999999" transform="rotate(15 180.7 554.3)" fill="#fff" stroke="#1e1e1e" stroke-width="1.12"/>
<ellipse cx="181.5" cy="554.8" rx="9.24" ry="13.76" transform="rotate(15 181.5 554.8)" fill="none" stroke="#1e1e1e" stroke-width="0.78"/>
<ellipse cx="179.9" cy="553.7" rx="14.025" ry="18.92" transform="rotate(15 179.9 553.7)" fill="none" stroke="#1e1e1e" stroke-width="0.78"/>
<ellipse cx="198" cy="566" rx="6.8" ry="8.4" transform="rotate(10 198 566)" fill="#fff" stroke="#1e1e1e" stroke-width="1.12"/>
<path d="M195.0,573.7 L206.0,579.3 L212.0,563.9 L201.0,558.3 Z" fill="#fff" stroke="#1e1e1e" stroke-width="0.00" stroke-linejoin="round" />
<path d="M195.0,573.7 L206.0,579.3 M212.0,563.9 L201.0,558.3" fill="none" stroke="#1e1e1e" stroke-width="1.12" stroke-linejoin="round" />
<ellipse cx="209" cy="571.6" rx="6.8" ry="8.4" transform="rotate(10 209 571.6)" fill="#fff" stroke="#1e1e1e" stroke-width="1.12"/>
<ellipse cx="209.3" cy="571.9" rx="3.4" ry="1.5" transform="rotate(-40 209.3 571.9)" fill="#fff" stroke="#1e1e1e" stroke-width="0.90"/>
<ellipse cx="228.8" cy="586" rx="17.5" ry="20.6" transform="rotate(12 228.8 586)" fill="#fff" stroke="#1e1e1e" stroke-width="1.23"/>
<ellipse cx="230.3" cy="586.5" rx="14.3" ry="17.400000000000002" transform="rotate(12 230.3 586.5)" fill="#fff" stroke="#1e1e1e" stroke-width="1.01"/>
<path d="M229.2,605.9 L227.8,605.7 L226.5,605.3 L225.3,604.8 L224.0,604.2 L222.9,603.5 L221.8,602.6 L220.8,601.6 L219.9,600.5 L219.0,599.2 L218.3,597.9 L217.6,596.5 L217.1,595.1 L216.7,593.6 L216.4,592.0 L216.2,590.4 L216.1,588.7 L216.2,587.1 L216.4,585.4 L216.6,583.8 L217.0,582.2 L217.6,580.6 L218.2,579.1 L218.9,577.6 L219.7,576.2 L220.7,574.9 L221.7,573.6 L222.7,572.5 L223.9,571.5 L225.1,570.6 L226.4,569.8 L227.7,569.2 L229.0,568.7 L230.3,568.3 L231.7,568.1 L233.1,568.0" fill="none" stroke="#1e1e1e" stroke-width="0.78" stroke-linejoin="round" />
<path d="M219.8,602.6 l3,4 l6,1 l2,-4" fill="none" stroke="#1e1e1e" stroke-width="0.90" stroke-linejoin="round" />
<path d="M217.8,569 l25,-14" fill="none" stroke="#1e1e1e" stroke-width="2.69" stroke-linejoin="round" />
<path d="M217.8,569 l25,-14" fill="none" stroke="#1e1e1e" stroke-width="1.12" stroke-linejoin="round" stroke="#fff"/>
<path d="M216.8,565 l5,-2 l2,7 l-5,2 Z" fill="#fff" stroke="#1e1e1e" stroke-width="0.9"/>
<path d="M229.8,558 l6,-2 l1.5,11 l-6,2 Z" fill="#fff" stroke="#1e1e1e" stroke-width="0.9"/>
<ellipse cx="243.3" cy="554.5" rx="3.2" ry="3.6" transform="rotate(0 243.3 554.5)" fill="#fff" stroke="#1e1e1e" stroke-width="1.01"/>
<g transform="translate(298.3,544.3) scale(1.15)" fill="#fff" stroke="#1e1e1e" stroke-width="0.9">
<path d="M-6,12 L-6,21.5 Q0,24.5 6,21.5 L6,12 Z" fill="#8a8a8a"/>
<path d="M-6,14.5 Q0,17 6,14.5 M-6,16.8 Q0,19.3 6,16.8 M-6,19.1 Q0,21.6 6,19.1" fill="none" stroke-width="0.6"/>
<path d="M-8.6,9 L-8,12.5 L-5.5,14 L5.5,14 L8,12.5 L8.6,9 L8,6.5 L5.5,5.5 L-5.5,5.5 L-8,6.5 Z"/>
<path d="M-5.5,5.5 L-5.5,14 M5.5,5.5 L5.5,14 M-8.6,9 L8.6,9" fill="none" stroke-width="0.6"/>
<path d="M-5.3,2 L-5.3,7.5 Q0,9.5 5.3,7.5 L5.3,2 Z" fill="#909090"/>
<path d="M-5.3,4.3 Q0,6.3 5.3,4.3 M-5.3,6.2 Q0,8.2 5.3,6.2" fill="none" stroke-width="0.55"/>
<ellipse cx="0" cy="2" rx="5.3" ry="2.6"/><ellipse cx="0" cy="2" rx="3" ry="1.4" fill="#ddd"/>
</g>
<ellipse cx="321.8" cy="565.8" rx="8.2" ry="5.8" transform="rotate(0 321.8 565.8)" fill="#bbb" stroke="#1e1e1e" stroke-width="1.12"/>
<ellipse cx="321.8" cy="565" rx="8.2" ry="5.8" transform="rotate(0 321.8 565)" fill="#d6d6d6" stroke="#1e1e1e" stroke-width="1.12"/>
<ellipse cx="322.1" cy="565.3" rx="5.903999999999999" ry="3.596" transform="rotate(0 322.1 565.3)" fill="#fff" stroke="#1e1e1e" stroke-width="0.90"/>
<ellipse cx="298.7" cy="583.0" rx="8.6" ry="5.8" transform="rotate(0 298.7 583.0)" fill="#bbb" stroke="#1e1e1e" stroke-width="1.12"/>
<ellipse cx="298.7" cy="582.2" rx="8.6" ry="5.8" transform="rotate(0 298.7 582.2)" fill="#d6d6d6" stroke="#1e1e1e" stroke-width="1.12"/>
<ellipse cx="299.0" cy="582.5" rx="6.191999999999999" ry="3.596" transform="rotate(0 299.0 582.5)" fill="#fff" stroke="#1e1e1e" stroke-width="0.90"/>
<g transform="translate(323.7,638) scale(1.0)">
<ellipse cx="-55.0" cy="-22.5" rx="9" ry="21" transform="rotate(-5 -55.0 -22.5)" fill="#fff" stroke="#1e1e1e" stroke-width="1.12"/>
<ellipse cx="-54.1" cy="-22.2" rx="7.6" ry="19.5" transform="rotate(-5 -54.1 -22.2)" fill="none" stroke="#1e1e1e" stroke-width="0.67"/>
<ellipse cx="-52.2" cy="-21.6" rx="9" ry="21" transform="rotate(-5 -52.2 -21.6)" fill="#fff" stroke="#1e1e1e" stroke-width="1.12"/>
<ellipse cx="-51.300000000000004" cy="-21.3" rx="7.6" ry="19.5" transform="rotate(-5 -51.300000000000004 -21.3)" fill="none" stroke="#1e1e1e" stroke-width="0.67"/>
<ellipse cx="-49.4" cy="-20.7" rx="9" ry="21" transform="rotate(-5 -49.4 -20.7)" fill="#fff" stroke="#1e1e1e" stroke-width="1.12"/>
<ellipse cx="-48.5" cy="-20.4" rx="7.6" ry="19.5" transform="rotate(-5 -48.5 -20.4)" fill="none" stroke="#1e1e1e" stroke-width="0.67"/>
<ellipse cx="-46.6" cy="-19.8" rx="9" ry="21" transform="rotate(-5 -46.6 -19.8)" fill="#fff" stroke="#1e1e1e" stroke-width="1.12"/>
<ellipse cx="-45.7" cy="-19.5" rx="7.6" ry="19.5" transform="rotate(-5 -45.7 -19.5)" fill="none" stroke="#1e1e1e" stroke-width="0.67"/>
<ellipse cx="-43.8" cy="-18.9" rx="9" ry="21" transform="rotate(-5 -43.8 -18.9)" fill="#fff" stroke="#1e1e1e" stroke-width="1.12"/>
<ellipse cx="-42.9" cy="-18.599999999999998" rx="7.6" ry="19.5" transform="rotate(-5 -42.9 -18.599999999999998)" fill="none" stroke="#1e1e1e" stroke-width="0.67"/>
<ellipse cx="-41.0" cy="-18.0" rx="9" ry="21" transform="rotate(-5 -41.0 -18.0)" fill="#fff" stroke="#1e1e1e" stroke-width="1.12"/>
<ellipse cx="-40.1" cy="-17.7" rx="7.6" ry="19.5" transform="rotate(-5 -40.1 -17.7)" fill="none" stroke="#1e1e1e" stroke-width="0.67"/>
<ellipse cx="-34" cy="-19" rx="15" ry="22.3" transform="rotate(6 -34 -19)" fill="#fff" stroke="#1e1e1e" stroke-width="1.12"/>
<path d="M-40.4,1.9 L-6.4,20.9 L6.4,-20.9 L-27.6,-39.9 Z" fill="#fff" stroke="#1e1e1e" stroke-width="0.00" stroke-linejoin="round" />
<path d="M-40.4,1.9 L-6.4,20.9 M6.4,-20.9 L-27.6,-39.9" fill="none" stroke="#1e1e1e" stroke-width="1.12" stroke-linejoin="round" />
<ellipse cx="0" cy="0" rx="15" ry="22.3" transform="rotate(6 0 0)" fill="#fff" stroke="#1e1e1e" stroke-width="1.12"/>
<path d="M-37,-36 L-37,-14 L-29,-4 L-20,1 L-19,-22 L-12,-27 L-12,-52 L0,-55 L11,-52 L10,-26 L1,-20 Z" fill="#fff" stroke="#1e1e1e" stroke-width="1.12" stroke-linejoin="round" />
<path d="M-23,-33 L-23,-8 M-20,-25 L-12,-28 M-12,-28 L1,-24 M1,-24 L1,-47" fill="none" stroke="#1e1e1e" stroke-width="0.90" stroke-linejoin="round" />
<path d="M-36.5,-41.5 L-27.2,-45.2 L-14,-39.6 L-23.4,-35.4 Z" fill="#fff" stroke="#1e1e1e" stroke-width="1.12" stroke-linejoin="round" />
<path d="M-36.5,-41.5 L-36.5,-34 M-23.4,-35.4 L-23.4,-27 M-14,-39.6 L-14,-31" fill="none" stroke="#1e1e1e" stroke-width="1.12" stroke-linejoin="round" />
<ellipse cx="-25.2" cy="-40.3" rx="4.2" ry="2.3" transform="rotate(-10 -25.2 -40.3)" fill="#999" stroke="#1e1e1e" stroke-width="0.90"/>
<path d="M-12.8,-56.2 L-3.4,-60.1 L11.4,-53.8 L1.2,-49.2 Z" fill="#fff" stroke="#1e1e1e" stroke-width="1.12" stroke-linejoin="round" />
<path d="M-12.8,-56.2 L-12.8,-30 M1.2,-49.2 L1.2,-24 M11.4,-53.8 L10.5,-26" fill="none" stroke="#1e1e1e" stroke-width="1.12" stroke-linejoin="round" />
<ellipse cx="-1" cy="-54.7" rx="4.2" ry="2.3" transform="rotate(-10 -1 -54.7)" fill="#999" stroke="#1e1e1e" stroke-width="0.90"/>
<g transform="translate(11,-46) rotate(-28)" fill="#fff" stroke="#1e1e1e" stroke-width="0.9">
<path d="M0,-5 L8,-5 L8,5 L0,5 Z"/><path d="M8,-4 L19,-4 L19,4 L8,4 Z"/>
<path d="M10,-4 L10,4 M12,-4 L12,4 M14,-4 L14,4 M16,-4 L16,4" fill="none" stroke-width="0.6"/>
<ellipse cx="19" cy="0" rx="1.8" ry="4"/>
</g>
<ellipse cx="-33" cy="-22" rx="6.5" ry="8" transform="rotate(0 -33 -22)" fill="#fff" stroke="#1e1e1e" stroke-width="1.12"/>
<path d="M-19,-22 l0,6 M-20.5,-20 l1.5,-2 l1.5,2 M5,-45 l0,6 M3.5,-43 l1.5,-2 l1.5,2" fill="none" stroke="#1e1e1e" stroke-width="0.78" stroke-linejoin="round" />
<ellipse cx="0" cy="0" rx="15" ry="22.3" transform="rotate(6 0 0)" fill="#fff" stroke="#1e1e1e" stroke-width="1.23"/>
<ellipse cx="1" cy="1" rx="12.6" ry="19.6" transform="rotate(6 1 1)" fill="#fff" stroke="#1e1e1e" stroke-width="0.90"/>
</g>
<path d="M575.4,392.0 C576.8,392.8 572.0,388.4 580.0,391.0 C588.0,393.6 610.2,403.8 623.4,407.5 C636.6,411.2 648.7,411.1 659.0,413.5 C669.3,415.9 678.5,418.9 685.0,422.0 C691.5,425.1 695.2,429.5 698.0,432.0 C700.8,434.5 701.5,435.0 701.5,437.0" fill="none" stroke="#1e1e1e" stroke-width="10"/>
<path d="M575.4,392.0 C576.8,392.8 572.0,388.4 580.0,391.0 C588.0,393.6 610.2,403.8 623.4,407.5 C636.6,411.2 648.7,411.1 659.0,413.5 C669.3,415.9 678.5,418.9 685.0,422.0 C691.5,425.1 695.2,429.5 698.0,432.0 C700.8,434.5 701.5,435.0 701.5,437.0" fill="none" stroke="url(#br)" stroke-width="8"/>
<g transform="translate(555.5,380.5) rotate(30) scale(1.0)" fill="#fff" stroke="#1e1e1e" stroke-width="1" stroke-linejoin="round">
<path d="M13,-5.2 L22,-5.2 L22,5.2 L13,5.2 Z"/>
<path d="M14,-2 L22,-2 M14,1.8 L22,1.8" fill="none" stroke-width="0.7"/>
<path d="M21,-6.3 Q20,0 21,6.3 L24.5,6.3 Q23.5,0 24.5,-6.3 Z"/>
<path d="M-2.6,-4.25 L0,-8.5 L11,-8.5 L13.6,-4.25 L13.6,4.25 L11,8.5 L0,8.5 L-2.6,4.25 Z"/>
<path d="M0,-8.5 L2.6,-4.25 L2.6,4.25 L0,8.5 M2.6,-4.25 L13.6,-4.25 M2.6,4.25 L13.6,4.25" fill="none"/>
</g>
<g transform="translate(701.5,460) rotate(-90) scale(1.0)" fill="#fff" stroke="#1e1e1e" stroke-width="1" stroke-linejoin="round">
<path d="M13,-5.2 L22,-5.2 L22,5.2 L13,5.2 Z"/>
<path d="M14,-2 L22,-2 M14,1.8 L22,1.8" fill="none" stroke-width="0.7"/>
<path d="M21,-6.3 Q20,0 21,6.3 L24.5,6.3 Q23.5,0 24.5,-6.3 Z"/>
<path d="M-2.6,-4.25 L0,-8.5 L11,-8.5 L13.6,-4.25 L13.6,4.25 L11,8.5 L0,8.5 L-2.6,4.25 Z"/>
<path d="M0,-8.5 L2.6,-4.25 L2.6,4.25 L0,8.5 M2.6,-4.25 L13.6,-4.25 M2.6,4.25 L13.6,4.25" fill="none"/>
</g>
<path d="M555.9,448.5 C557.2,449.2 549.5,444.3 560.0,447.0 C570.5,449.7 602.5,461.1 619.0,464.8 C635.5,468.6 649.2,467.3 659.0,469.5 C668.8,471.7 674.2,474.9 678.0,478.0 C681.8,481.1 681.5,485.9 682.0,488.0 C682.5,490.1 680.7,489.6 680.7,490.5" fill="none" stroke="#1e1e1e" stroke-width="10"/>
<path d="M555.9,448.5 C557.2,449.2 549.5,444.3 560.0,447.0 C570.5,449.7 602.5,461.1 619.0,464.8 C635.5,468.6 649.2,467.3 659.0,469.5 C668.8,471.7 674.2,474.9 678.0,478.0 C681.8,481.1 681.5,485.9 682.0,488.0 C682.5,490.1 680.7,489.6 680.7,490.5" fill="none" stroke="url(#br)" stroke-width="8"/>
<g transform="translate(536,437) rotate(30) scale(1.0)" fill="#fff" stroke="#1e1e1e" stroke-width="1" stroke-linejoin="round">
<path d="M13,-5.2 L22,-5.2 L22,5.2 L13,5.2 Z"/>
<path d="M14,-2 L22,-2 M14,1.8 L22,1.8" fill="none" stroke-width="0.7"/>
<path d="M21,-6.3 Q20,0 21,6.3 L24.5,6.3 Q23.5,0 24.5,-6.3 Z"/>
<path d="M-2.6,-4.25 L0,-8.5 L11,-8.5 L13.6,-4.25 L13.6,4.25 L11,8.5 L0,8.5 L-2.6,4.25 Z"/>
<path d="M0,-8.5 L2.6,-4.25 L2.6,4.25 L0,8.5 M2.6,-4.25 L13.6,-4.25 M2.6,4.25 L13.6,4.25" fill="none"/>
</g>
<g transform="translate(680.7,513.5) rotate(-90) scale(1.0)" fill="#fff" stroke="#1e1e1e" stroke-width="1" stroke-linejoin="round">
<path d="M13,-5.2 L22,-5.2 L22,5.2 L13,5.2 Z"/>
<path d="M14,-2 L22,-2 M14,1.8 L22,1.8" fill="none" stroke-width="0.7"/>
<path d="M21,-6.3 Q20,0 21,6.3 L24.5,6.3 Q23.5,0 24.5,-6.3 Z"/>
<path d="M-2.6,-4.25 L0,-8.5 L11,-8.5 L13.6,-4.25 L13.6,4.25 L11,8.5 L0,8.5 L-2.6,4.25 Z"/>
<path d="M0,-8.5 L2.6,-4.25 L2.6,4.25 L0,8.5 M2.6,-4.25 L13.6,-4.25 M2.6,4.25 L13.6,4.25" fill="none"/>
</g>
<g fill="none" stroke="#1e1e1e" stroke-width="0.95">
<path d="M494,467 C485,455 470,452 464,440 C458,428 470,421 485,423 C498,425 506,430 509.5,436"/>
<path d="M495.5,466 C487,455 472,450 466,439 C461,429 472,424 485,425.5 C497,427 504,432 508,437"/>
<path d="M493,469 C480,465 462,468 458,478 C454,492 462,510 470,522 L472,525"/>
<path d="M494.5,470 C482,467 465,471 461,480 C457,493 465,510 472,521 L474,524"/>
<path d="M496,471 C485,469 468,474 464,482 C461,494 468,510 475,520 L476,523"/>
</g>
<ellipse cx="496" cy="492.5" rx="21.5" ry="31.5" transform="rotate(15 496 492.5)" fill="#fff" stroke="#1e1e1e" stroke-width="1.23"/>
<path d="M486.1,522.3 L552.6,549.1 L572.4,489.5 L505.9,462.7 Z" fill="#fff" stroke="#1e1e1e" stroke-width="0.00" stroke-linejoin="round" />
<path d="M486.1,522.3 L552.6,549.1 M572.4,489.5 L505.9,462.7" fill="none" stroke="#1e1e1e" stroke-width="1.23" stroke-linejoin="round" />
<path d="M496.2,462.1 L562.7,488.9" fill="none" stroke="#1e1e1e" stroke-width="0.73" stroke-linejoin="round" />
<path d="M489.6,465.1 L556.1,491.9" fill="none" stroke="#1e1e1e" stroke-width="0.73" stroke-linejoin="round" />
<path d="M485.2,468.9 L551.7,495.7" fill="none" stroke="#1e1e1e" stroke-width="0.73" stroke-linejoin="round" />
<path d="M481.8,472.9 L548.3,499.7" fill="none" stroke="#1e1e1e" stroke-width="0.73" stroke-linejoin="round" />
<path d="M479.0,477.3 L545.5,504.1" fill="none" stroke="#1e1e1e" stroke-width="0.73" stroke-linejoin="round" />
<path d="M476.9,482.0 L543.4,508.8" fill="none" stroke="#1e1e1e" stroke-width="0.73" stroke-linejoin="round" />
<path d="M475.2,486.9 L541.7,513.7" fill="none" stroke="#1e1e1e" stroke-width="0.73" stroke-linejoin="round" />
<path d="M474.2,492.0 L540.7,518.8" fill="none" stroke="#1e1e1e" stroke-width="0.73" stroke-linejoin="round" />
<path d="M473.7,497.4 L540.2,524.2" fill="none" stroke="#1e1e1e" stroke-width="0.73" stroke-linejoin="round" />
<path d="M473.9,502.9 L540.4,529.7" fill="none" stroke="#1e1e1e" stroke-width="0.73" stroke-linejoin="round" />
<path d="M475.2,509.0 L541.7,535.8" fill="none" stroke="#1e1e1e" stroke-width="0.73" stroke-linejoin="round" />
<path d="M478.4,515.9 L544.9,542.7" fill="none" stroke="#1e1e1e" stroke-width="0.73" stroke-linejoin="round" />
<path d="M512.7,532.5 L511.2,531.2 L509.8,529.8 L508.5,528.1 L507.3,526.3 L506.3,524.3 L505.5,522.1 L504.8,519.9 L504.2,517.5 L503.9,515.0 L503.7,512.4 L503.6,509.7 L503.8,507.1 L504.1,504.4 L504.5,501.7 L505.2,499.0 L505.9,496.4 L506.9,493.8 L508.0,491.3 L509.2,488.9 L510.5,486.7 L512.0,484.5 L513.6,482.5 L515.3,480.7 L517.0,479.1 L518.8,477.7 L520.7,476.4 L522.6,475.4 L524.5,474.6 L526.5,474.1 L528.4,473.7 L530.3,473.6 L532.2,473.8 L534.1,474.1 L535.9,474.7 L537.6,475.6" fill="none" stroke="#1e1e1e" stroke-width="0.90" stroke-linejoin="round" />
<path d="M492,471 l11,4.5 l-0.8,2.9 l-11,-4.5 Z" fill="#bbb" stroke="#1e1e1e" stroke-width="0.90" stroke-linejoin="round" />
<path d="M492.6,472.0 l10,4.1 M492.3,473.0 l10,4.1" fill="none" stroke="#1e1e1e" stroke-width="0.50" stroke-linejoin="round" />
<path d="M487,480 l11,4.5 l-0.8,2.9 l-11,-4.5 Z" fill="#bbb" stroke="#1e1e1e" stroke-width="0.90" stroke-linejoin="round" />
<path d="M487.6,481.0 l10,4.1 M487.3,482.0 l10,4.1" fill="none" stroke="#1e1e1e" stroke-width="0.50" stroke-linejoin="round" />
<path d="M482,493 l11,4.5 l-0.8,2.9 l-11,-4.5 Z" fill="#bbb" stroke="#1e1e1e" stroke-width="0.90" stroke-linejoin="round" />
<path d="M482.6,494.0 l10,4.1 M482.3,495.0 l10,4.1" fill="none" stroke="#1e1e1e" stroke-width="0.50" stroke-linejoin="round" />
<path d="M482,509 l11,4.5 l-0.8,2.9 l-11,-4.5 Z" fill="#bbb" stroke="#1e1e1e" stroke-width="0.90" stroke-linejoin="round" />
<path d="M482.6,510.0 l10,4.1 M482.3,511.0 l10,4.1" fill="none" stroke="#1e1e1e" stroke-width="0.50" stroke-linejoin="round" />
<path d="M486,521 l11,4.5 l-0.8,2.9 l-11,-4.5 Z" fill="#bbb" stroke="#1e1e1e" stroke-width="0.90" stroke-linejoin="round" />
<path d="M486.6,522.0 l10,4.1 M486.3,523.0 l10,4.1" fill="none" stroke="#1e1e1e" stroke-width="0.50" stroke-linejoin="round" />
<path d="M516,472 l11,4.5 l-0.8,2.9 l-11,-4.5 Z" fill="#bbb" stroke="#1e1e1e" stroke-width="0.90" stroke-linejoin="round" />
<path d="M516.6,473.0 l10,4.1 M516.3,474.0 l10,4.1" fill="none" stroke="#1e1e1e" stroke-width="0.50" stroke-linejoin="round" />
<path d="M540,487 l11,4.5 l-0.8,2.9 l-11,-4.5 Z" fill="#bbb" stroke="#1e1e1e" stroke-width="0.90" stroke-linejoin="round" />
<path d="M540.6,488.0 l10,4.1 M540.3,489.0 l10,4.1" fill="none" stroke="#1e1e1e" stroke-width="0.50" stroke-linejoin="round" />
<path d="M530,500 l11,4.5 l-0.8,2.9 l-11,-4.5 Z" fill="#bbb" stroke="#1e1e1e" stroke-width="0.90" stroke-linejoin="round" />
<path d="M530.6,501.0 l10,4.1 M530.3,502.0 l10,4.1" fill="none" stroke="#1e1e1e" stroke-width="0.50" stroke-linejoin="round" />
<path d="M526,514 l11,4.5 l-0.8,2.9 l-11,-4.5 Z" fill="#bbb" stroke="#1e1e1e" stroke-width="0.90" stroke-linejoin="round" />
<path d="M526.6,515.0 l10,4.1 M526.3,516.0 l10,4.1" fill="none" stroke="#1e1e1e" stroke-width="0.50" stroke-linejoin="round" />
<path d="M528,530 l11,4.5 l-0.8,2.9 l-11,-4.5 Z" fill="#bbb" stroke="#1e1e1e" stroke-width="0.90" stroke-linejoin="round" />
<path d="M528.6,531.0 l10,4.1 M528.3,532.0 l10,4.1" fill="none" stroke="#1e1e1e" stroke-width="0.50" stroke-linejoin="round" />
<path d="M506,466 l11,4.5 l-0.8,2.9 l-11,-4.5 Z" fill="#bbb" stroke="#1e1e1e" stroke-width="0.90" stroke-linejoin="round" />
<path d="M506.6,467.0 l10,4.1 M506.3,468.0 l10,4.1" fill="none" stroke="#1e1e1e" stroke-width="0.50" stroke-linejoin="round" />
<ellipse cx="506.6" cy="442.5" rx="7.5" ry="11.4" transform="rotate(27.5 506.6 442.5)" fill="#fff" stroke="#1e1e1e" stroke-width="1.23"/>
<path d="M501.3,452.6 L555.0,480.5 L565.6,460.3 L511.9,432.4 Z" fill="#fff" stroke="#1e1e1e" stroke-width="0.00" stroke-linejoin="round" />
<path d="M501.3,452.6 L555.0,480.5 M565.6,460.3 L511.9,432.4" fill="none" stroke="#1e1e1e" stroke-width="1.23" stroke-linejoin="round" />
<path d="M511.7,458.0 L511.2,457.7 L510.7,457.3 L510.2,456.8 L509.8,456.2 L509.4,455.6 L509.1,454.9 L508.9,454.2 L508.7,453.4 L508.6,452.6 L508.5,451.7 L508.5,450.9 L508.6,450.0 L508.7,449.0 L508.9,448.1 L509.2,447.2 L509.5,446.2 L509.9,445.3 L510.3,444.4 L510.8,443.6 L511.4,442.7 L511.9,441.9 L512.5,441.2 L513.2,440.5 L513.9,439.8 L514.6,439.3 L515.3,438.7 L516.0,438.3 L516.8,437.9 L517.5,437.6 L518.2,437.4 L519.0,437.3 L519.7,437.2 L520.4,437.2 L521.0,437.3 L521.7,437.5" fill="none" stroke="#1e1e1e" stroke-width="1.01" stroke-linejoin="round" />
<ellipse cx="560.3" cy="470.4" rx="7.5" ry="11.4" transform="rotate(27.5 560.3 470.4)" fill="#fff" stroke="#1e1e1e" stroke-width="1.23"/>
<path d="M557,465 L554,490 L561,493 L564,467 Z" fill="#fff" stroke="#1e1e1e" stroke-width="1.01" stroke-linejoin="round" />
<ellipse cx="561" cy="472" rx="2.6" ry="2.6" transform="rotate(0 561 472)" fill="#fff" stroke="#1e1e1e" stroke-width="1.01"/>
<ellipse cx="562.5" cy="519.3" rx="21.5" ry="30.5" transform="rotate(15 562.5 519.3)" fill="#fff" stroke="#1e1e1e" stroke-width="1.23"/>
<ellipse cx="563.5" cy="520" rx="18.5" ry="27" transform="rotate(15 563.5 520)" fill="none" stroke="#1e1e1e" stroke-width="0.90"/>
<path d="M562.1,496.1 L564.3,496.0 L566.6,496.4 L568.7,497.3 L567.6,502.0 L565.9,501.3 L564.2,501.0 L562.4,501.1 Z" fill="#fff" stroke="#1e1e1e" stroke-width="0.90" stroke-linejoin="round" />
<path d="M578.0,509.9 L578.8,513.0 L579.3,516.2 L579.5,519.6 L576.0,519.7 L575.8,517.0 L575.5,514.4 L574.8,512.0 Z" fill="#fff" stroke="#1e1e1e" stroke-width="0.90" stroke-linejoin="round" />
<path d="M574.8,537.0 L573.1,539.2 L571.3,541.0 L569.2,542.4 L568.0,537.7 L569.6,536.6 L571.0,535.2 L572.3,533.4 Z" fill="#fff" stroke="#1e1e1e" stroke-width="0.90" stroke-linejoin="round" />
<path d="M556.7,541.8 L554.8,540.1 L553.0,538.1 L551.4,535.7 L554.1,532.5 L555.3,534.3 L556.7,535.9 L558.2,537.2 Z" fill="#fff" stroke="#1e1e1e" stroke-width="0.90" stroke-linejoin="round" />
<path d="M547.6,517.9 L547.9,514.6 L548.6,511.4 L549.5,508.4 L552.6,510.8 L551.8,513.2 L551.3,515.7 L551.0,518.3 Z" fill="#fff" stroke="#1e1e1e" stroke-width="0.90" stroke-linejoin="round" />
<ellipse cx="567" cy="522.8" rx="13" ry="17" transform="rotate(15 567 522.8)" fill="#fff" stroke="#1e1e1e" stroke-width="1.12"/>
<ellipse cx="568" cy="523.5" rx="10.5" ry="14" transform="rotate(15 568 523.5)" fill="none" stroke="#1e1e1e" stroke-width="0.90"/>
<ellipse cx="568.8" cy="524" rx="8.5" ry="11.5" transform="rotate(15 568.8 524)" fill="none" stroke="#1e1e1e" stroke-width="0.78"/>
<ellipse cx="569.5" cy="524.5" rx="5" ry="6.5" transform="rotate(15 569.5 524.5)" fill="#fff" stroke="#1e1e1e" stroke-width="1.01"/>
<path d="M567,524 L573,526" fill="none" stroke="#1e1e1e" stroke-width="1.34" stroke-linejoin="round" />
<ellipse cx="540" cy="549" rx="2.2" ry="2.2" transform="rotate(0 540 549)" fill="#fff" stroke="#1e1e1e" stroke-width="1.01"/>
<ellipse cx="494.5" cy="469" rx="2.5" ry="2" transform="rotate(0 494.5 469)" fill="#555" stroke="#1e1e1e" stroke-width="0.90"/>
<path d="M445,512 L458,509.7 L467.2,515 L467.2,529 L454,531.9 L445,527 Z" fill="#fff" stroke="#1e1e1e" stroke-width="1.23" stroke-linejoin="round" />
<path d="M445,512 L454,517 L467.2,515 M454,517 L454,531.9 M449,514.5 l0,14 M451.5,516 l0,14 M458,513 l0,14 M462,512 l0,14 M445,520 l9,5 l13,-3" fill="none" stroke="#1e1e1e" stroke-width="0.90" stroke-linejoin="round" />
<g transform="translate(225,-407.5)">
<path d="M260.6,961.1 L283.2,948.6 L285.3,966.5 L291.8,969.7 L300.4,963.4 L309.0,958.7 L319.1,963.4 L310.5,971.2 L305.1,976.7 L305.1,982.1 L326.1,994.6 L339.4,986.8 L348.0,981.4 L358.1,986.8 L352.7,991.5 L351.9,992.0 L351.9,1002.4 L326.9,1014.9 L307.4,1014.9 L300.4,1019.6 L291.8,1013.3 L300.4,1011.0 L302.7,1008.7 L280.9,994.5 L272.0,990.5 L270.7,994.3 L262.2,998.5 L252.8,990.7 L260.6,986.8 L261.4,979.8 Z" fill="#fff" stroke="#1e1e1e" stroke-width="1.12" stroke-linejoin="round" />
<path d="M261.4,979.8 L285.3,966.5 M268.4,985.3 L305.1,976.7 M272,990.5 L305.1,982.1 M305.1,982.1 L326.1,994.6 M326.1,994.6 L326.9,1014.9 M326.1,994.6 L351.9,983 M302.7,1008.7 L326.5,1004 M283.2,948.6 L284.2,950.5 L286.3,968 M280.9,994.5 L281.5,991 M339.4,986.8 L341,990" fill="none" stroke="#1e1e1e" stroke-width="1.01" stroke-linejoin="round" />
<ellipse cx="273.1" cy="960" rx="1.6" ry="1.3" transform="rotate(0 273.1 960)" fill="#fff" stroke="#1e1e1e" stroke-width="0.90"/>
<ellipse cx="312.1" cy="963.4" rx="1.6" ry="1.3" transform="rotate(0 312.1 963.4)" fill="#fff" stroke="#1e1e1e" stroke-width="0.90"/>
<ellipse cx="261.4" cy="992.7" rx="1.6" ry="1.3" transform="rotate(0 261.4 992.7)" fill="#fff" stroke="#1e1e1e" stroke-width="0.90"/>
<ellipse cx="350.8" cy="986" rx="1.6" ry="1.3" transform="rotate(0 350.8 986)" fill="#fff" stroke="#1e1e1e" stroke-width="0.90"/>
<ellipse cx="339.4" cy="999" rx="1.6" ry="1.3" transform="rotate(0 339.4 999)" fill="#fff" stroke="#1e1e1e" stroke-width="0.90"/>
<ellipse cx="299.6" cy="1015.7" rx="1.6" ry="1.3" transform="rotate(0 299.6 1015.7)" fill="#fff" stroke="#1e1e1e" stroke-width="0.90"/>
</g>
<path d="M479.40000000000003,600.9 L479.40000000000003,602.6999999999999 A7.4,4.0 0 0 0 494.2,602.6999999999999 L494.2,600.9" fill="#ddd" stroke="#1e1e1e" stroke-width="1.01" stroke-linejoin="round" />
<ellipse cx="486.8" cy="600.9" rx="7.4" ry="4.0" transform="rotate(0 486.8 600.9)" fill="#eee" stroke="#1e1e1e" stroke-width="1.01"/>
<ellipse cx="486.8" cy="600.9" rx="3.8480000000000003" ry="2.0" transform="rotate(0 486.8 600.9)" fill="#fff" stroke="#1e1e1e" stroke-width="0.90"/>
<g transform="translate(486.4,610.7)">
<rect x="-1.8" y="19" width="3.6" height="9" rx="1.2" fill="#111"/>
<path d="M-7,7.5 L-7,19 A7,2.8 0 0 0 7,19 L7,7.5 Z" fill="#141414"/>
<ellipse cx="0" cy="7.5" rx="7" ry="3" fill="#fff" stroke="#111" stroke-width="1"/>
<rect x="-1.9" y="0.5" width="3.8" height="8" rx="1.5" fill="#111"/>
<ellipse cx="0" cy="1.3" rx="1.3" ry="0.8" fill="#fff"/>
</g>
<path d="M477.8,642.5 L484.8,638.6 L524.0,616.5 L527.0,613.6 L533.2,610.5 L581.6,637.8 L581.6,640.5 L573.0,645.5 L537.1,669.5 L534.0,667.5 L525.4,672.5 L477.8,645.5 Z" fill="#fff" stroke="#1e1e1e" stroke-width="1.12" stroke-linejoin="round" />
<path d="M484.8,638.6 L534,666.6 L525.4,671.3 M477.8,642.5 L525.4,669.8 M533.2,610.5 L530,615 L573,640.5 L581.6,637.8 M527,613.6 L530,615 M490.3,641.5 L527.5,619.8 M502,648.4 L535.5,628.3 L537,622.5 M527.7,662.4 L563.6,640 L567,642 M537.1,669.5 L540,665 L573,645.5" fill="none" stroke="#1e1e1e" stroke-width="1.01" stroke-linejoin="round" />
<ellipse cx="486.4" cy="643.2" rx="1.6" ry="1.3" transform="rotate(0 486.4 643.2)" fill="#fff" stroke="#1e1e1e" stroke-width="0.90"/>
<ellipse cx="498.1" cy="639.3" rx="1.6" ry="1.3" transform="rotate(0 498.1 639.3)" fill="#fff" stroke="#1e1e1e" stroke-width="0.90"/>
<ellipse cx="523.8" cy="625" rx="1.6" ry="1.3" transform="rotate(0 523.8 625)" fill="#fff" stroke="#1e1e1e" stroke-width="0.90"/>
<ellipse cx="535.5" cy="615.1" rx="1.6" ry="1.3" transform="rotate(0 535.5 615.1)" fill="#fff" stroke="#1e1e1e" stroke-width="0.90"/>
<ellipse cx="573" cy="637" rx="1.6" ry="1.3" transform="rotate(0 573 637)" fill="#fff" stroke="#1e1e1e" stroke-width="0.90"/>
<ellipse cx="523.8" cy="665.1" rx="1.6" ry="1.3" transform="rotate(0 523.8 665.1)" fill="#fff" stroke="#1e1e1e" stroke-width="0.90"/>
<ellipse cx="597" cy="542.5" rx="12.8" ry="16.8" transform="rotate(30 597 542.5)" fill="#fff" stroke="#1e1e1e" stroke-width="1.23"/>
<path d="M601.0,556.2 L605.5,553.5 L597.5,526.1 L593.0,528.8 Z" fill="#fff" stroke="#1e1e1e" stroke-width="0.00" stroke-linejoin="round" />
<path d="M601.0,556.2 L605.5,553.5 M597.5,526.1 L593.0,528.8" fill="none" stroke="#1e1e1e" stroke-width="1.23" stroke-linejoin="round" />
<ellipse cx="601.5" cy="539.8" rx="12.8" ry="16.8" transform="rotate(30 601.5 539.8)" fill="#fff" stroke="#1e1e1e" stroke-width="1.23"/>
<path d="M604.8,553.6 L603.8,554.5 L602.6,555.3 L601.4,555.9 L600.2,556.5 L599.0,556.9 L597.8,557.3 L596.6,557.5 L595.4,557.6 L594.2,557.6 L593.1,557.4 L592.0,557.1 L590.9,556.7 L590.0,556.2 L589.0,555.6 L588.2,554.9 L587.4,554.1 L586.7,553.2 L586.1,552.2 L585.5,551.1 L585.1,549.9 L584.8,548.7 L584.6,547.5 L584.5,546.1 L584.5,544.8 L584.5,543.4 L584.8,542.0 L585.1,540.7 L585.5,539.3 L586.0,537.9 L586.6,536.6 L587.3,535.3 L588.0,534.0 L588.9,532.9 L589.8,531.7 L590.8,530.7" fill="none" stroke="#1e1e1e" stroke-width="0.90" stroke-linejoin="round" />
<path d="M606.0,553.0 L604.9,553.8 L603.7,554.6 L602.6,555.3 L601.4,555.8 L600.2,556.3 L599.0,556.6 L597.7,556.8 L596.5,556.9 L595.4,556.9 L594.2,556.7 L593.1,556.5 L592.1,556.1 L591.1,555.6 L590.1,555.0 L589.3,554.2 L588.5,553.4 L587.8,552.5 L587.2,551.5 L586.7,550.4 L586.2,549.3 L585.9,548.0 L585.7,546.8 L585.6,545.5 L585.6,544.1 L585.7,542.7 L585.9,541.4 L586.2,540.0 L586.6,538.6 L587.1,537.2 L587.7,535.9 L588.4,534.6 L589.2,533.4 L590.0,532.2 L590.9,531.1 L591.9,530.0" fill="none" stroke="#1e1e1e" stroke-width="0.90" stroke-linejoin="round" />
<ellipse cx="602.7" cy="540.5999999999999" rx="8.192" ry="11.927999999999999" transform="rotate(30 602.7 540.5999999999999)" fill="#fff" stroke="#1e1e1e" stroke-width="1.12"/>
<ellipse cx="603.5" cy="541.0999999999999" rx="7.168000000000001" ry="10.752" transform="rotate(30 603.5 541.0999999999999)" fill="none" stroke="#1e1e1e" stroke-width="0.78"/>
<ellipse cx="601.9" cy="540.0" rx="10.88" ry="14.784" transform="rotate(30 601.9 540.0)" fill="none" stroke="#1e1e1e" stroke-width="0.78"/>
<ellipse cx="614.5" cy="550.5" rx="6.2" ry="8.6" transform="rotate(30 614.5 550.5)" fill="#fff" stroke="#1e1e1e" stroke-width="1.12"/>
<path d="M610.3,558.0 L624.8,566.0 L633.2,551.0 L618.7,543.0 Z" fill="#fff" stroke="#1e1e1e" stroke-width="0.00" stroke-linejoin="round" />
<path d="M610.3,558.0 L624.8,566.0 M633.2,551.0 L618.7,543.0" fill="none" stroke="#1e1e1e" stroke-width="1.12" stroke-linejoin="round" />
<ellipse cx="629" cy="558.5" rx="6.2" ry="8.6" transform="rotate(30 629 558.5)" fill="#fff" stroke="#1e1e1e" stroke-width="1.12"/>
<ellipse cx="629.3" cy="558.8" rx="3.4" ry="1.5" transform="rotate(-40 629.3 558.8)" fill="#fff" stroke="#1e1e1e" stroke-width="0.90"/>
<g transform="translate(680.8,516.5) scale(0.88)" fill="#fff" stroke="#1e1e1e" stroke-width="0.9">
<path d="M-6,12 L-6,21.5 Q0,24.5 6,21.5 L6,12 Z" fill="#8a8a8a"/>
<path d="M-6,14.5 Q0,17 6,14.5 M-6,16.8 Q0,19.3 6,16.8 M-6,19.1 Q0,21.6 6,19.1" fill="none" stroke-width="0.6"/>
<path d="M-8.6,9 L-8,12.5 L-5.5,14 L5.5,14 L8,12.5 L8.6,9 L8,6.5 L5.5,5.5 L-5.5,5.5 L-8,6.5 Z"/>
<path d="M-5.5,5.5 L-5.5,14 M5.5,5.5 L5.5,14 M-8.6,9 L8.6,9" fill="none" stroke-width="0.6"/>
<path d="M-5.3,2 L-5.3,7.5 Q0,9.5 5.3,7.5 L5.3,2 Z" fill="#909090"/>
<path d="M-5.3,4.3 Q0,6.3 5.3,4.3 M-5.3,6.2 Q0,8.2 5.3,6.2" fill="none" stroke-width="0.55"/>
<ellipse cx="0" cy="2" rx="5.3" ry="2.6"/><ellipse cx="0" cy="2" rx="3" ry="1.4" fill="#ddd"/>
</g>
<ellipse cx="702.3" cy="535.8" rx="8.9" ry="5.3" transform="rotate(0 702.3 535.8)" fill="#bbb" stroke="#1e1e1e" stroke-width="1.12"/>
<ellipse cx="702.3" cy="535" rx="8.9" ry="5.3" transform="rotate(0 702.3 535)" fill="#d6d6d6" stroke="#1e1e1e" stroke-width="1.12"/>
<ellipse cx="702.5999999999999" cy="535.3" rx="6.408" ry="3.286" transform="rotate(0 702.5999999999999 535.3)" fill="#fff" stroke="#1e1e1e" stroke-width="0.90"/>
<ellipse cx="680" cy="549.9" rx="9" ry="4.5" transform="rotate(0 680 549.9)" fill="#bbb" stroke="#1e1e1e" stroke-width="1.12"/>
<ellipse cx="680" cy="549.1" rx="9" ry="4.5" transform="rotate(0 680 549.1)" fill="#d6d6d6" stroke="#1e1e1e" stroke-width="1.12"/>
<ellipse cx="680.3" cy="549.4" rx="6.4799999999999995" ry="2.79" transform="rotate(0 680.3 549.4)" fill="#fff" stroke="#1e1e1e" stroke-width="0.90"/>
<g transform="translate(702.2,594.8) scale(0.83)">
<g transform="translate(-7.5,0)">
<ellipse cx="-61" cy="-33" rx="14.5" ry="23.5" transform="rotate(12 -61 -33)" fill="#fff" stroke="#1e1e1e" stroke-width="1.12"/>
<ellipse cx="-60" cy="-32.5" rx="11.8" ry="20.8" transform="rotate(12 -60 -32.5)" fill="#fff" stroke="#1e1e1e" stroke-width="1.01"/>
<path d="M-73,-37 C-74,-28 -72,-18 -66,-12" fill="none" stroke="#1e1e1e" stroke-width="0.67" stroke-linejoin="round" />
<path d="M-71,-50 L-46,-64" fill="none" stroke="#1e1e1e" stroke-width="2.46" stroke-linejoin="round" />
<path d="M-71,-50 L-46,-64" fill="none" stroke="#1e1e1e" stroke-width="1.01" stroke-linejoin="round" stroke="#fff"/>
<path d="M-71,-54 L-65,-56 L-63,-48 L-69,-45 Z" fill="#fff" stroke="#1e1e1e" stroke-width="0.9"/>
<path d="M-59,-62 L-52,-64 L-50,-53 L-57,-50 Z" fill="#fff" stroke="#1e1e1e" stroke-width="0.9"/>
<ellipse cx="-46" cy="-63" rx="3.2" ry="3.6" transform="rotate(0 -46 -63)" fill="#fff" stroke="#1e1e1e" stroke-width="1.01"/>
</g>
<ellipse cx="-55.0" cy="-22.5" rx="9" ry="21" transform="rotate(-5 -55.0 -22.5)" fill="#fff" stroke="#1e1e1e" stroke-width="1.12"/>
<ellipse cx="-54.1" cy="-22.2" rx="7.6" ry="19.5" transform="rotate(-5 -54.1 -22.2)" fill="none" stroke="#1e1e1e" stroke-width="0.67"/>
<ellipse cx="-52.2" cy="-21.6" rx="9" ry="21" transform="rotate(-5 -52.2 -21.6)" fill="#fff" stroke="#1e1e1e" stroke-width="1.12"/>
<ellipse cx="-51.300000000000004" cy="-21.3" rx="7.6" ry="19.5" transform="rotate(-5 -51.300000000000004 -21.3)" fill="none" stroke="#1e1e1e" stroke-width="0.67"/>
<ellipse cx="-49.4" cy="-20.7" rx="9" ry="21" transform="rotate(-5 -49.4 -20.7)" fill="#fff" stroke="#1e1e1e" stroke-width="1.12"/>
<ellipse cx="-48.5" cy="-20.4" rx="7.6" ry="19.5" transform="rotate(-5 -48.5 -20.4)" fill="none" stroke="#1e1e1e" stroke-width="0.67"/>
<ellipse cx="-46.6" cy="-19.8" rx="9" ry="21" transform="rotate(-5 -46.6 -19.8)" fill="#fff" stroke="#1e1e1e" stroke-width="1.12"/>
<ellipse cx="-45.7" cy="-19.5" rx="7.6" ry="19.5" transform="rotate(-5 -45.7 -19.5)" fill="none" stroke="#1e1e1e" stroke-width="0.67"/>
<ellipse cx="-43.8" cy="-18.9" rx="9" ry="21" transform="rotate(-5 -43.8 -18.9)" fill="#fff" stroke="#1e1e1e" stroke-width="1.12"/>
<ellipse cx="-42.9" cy="-18.599999999999998" rx="7.6" ry="19.5" transform="rotate(-5 -42.9 -18.599999999999998)" fill="none" stroke="#1e1e1e" stroke-width="0.67"/>
<ellipse cx="-41.0" cy="-18.0" rx="9" ry="21" transform="rotate(-5 -41.0 -18.0)" fill="#fff" stroke="#1e1e1e" stroke-width="1.12"/>
<ellipse cx="-40.1" cy="-17.7" rx="7.6" ry="19.5" transform="rotate(-5 -40.1 -17.7)" fill="none" stroke="#1e1e1e" stroke-width="0.67"/>
<ellipse cx="-34" cy="-19" rx="15" ry="22.3" transform="rotate(6 -34 -19)" fill="#fff" stroke="#1e1e1e" stroke-width="1.12"/>
<path d="M-40.4,1.9 L-6.4,20.9 L6.4,-20.9 L-27.6,-39.9 Z" fill="#fff" stroke="#1e1e1e" stroke-width="0.00" stroke-linejoin="round" />
<path d="M-40.4,1.9 L-6.4,20.9 M6.4,-20.9 L-27.6,-39.9" fill="none" stroke="#1e1e1e" stroke-width="1.12" stroke-linejoin="round" />
<ellipse cx="0" cy="0" rx="15" ry="22.3" transform="rotate(6 0 0)" fill="#fff" stroke="#1e1e1e" stroke-width="1.12"/>
<path d="M-37,-36 L-37,-14 L-29,-4 L-20,1 L-19,-22 L-12,-27 L-12,-52 L0,-55 L11,-52 L10,-26 L1,-20 Z" fill="#fff" stroke="#1e1e1e" stroke-width="1.12" stroke-linejoin="round" />
<path d="M-23,-33 L-23,-8 M-20,-25 L-12,-28 M-12,-28 L1,-24 M1,-24 L1,-47" fill="none" stroke="#1e1e1e" stroke-width="0.90" stroke-linejoin="round" />
<path d="M-36.5,-41.5 L-27.2,-45.2 L-14,-39.6 L-23.4,-35.4 Z" fill="#fff" stroke="#1e1e1e" stroke-width="1.12" stroke-linejoin="round" />
<path d="M-36.5,-41.5 L-36.5,-34 M-23.4,-35.4 L-23.4,-27 M-14,-39.6 L-14,-31" fill="none" stroke="#1e1e1e" stroke-width="1.12" stroke-linejoin="round" />
<ellipse cx="-25.2" cy="-40.3" rx="4.2" ry="2.3" transform="rotate(-10 -25.2 -40.3)" fill="#999" stroke="#1e1e1e" stroke-width="0.90"/>
<path d="M-12.8,-56.2 L-3.4,-60.1 L11.4,-53.8 L1.2,-49.2 Z" fill="#fff" stroke="#1e1e1e" stroke-width="1.12" stroke-linejoin="round" />
<path d="M-12.8,-56.2 L-12.8,-30 M1.2,-49.2 L1.2,-24 M11.4,-53.8 L10.5,-26" fill="none" stroke="#1e1e1e" stroke-width="1.12" stroke-linejoin="round" />
<ellipse cx="-1" cy="-54.7" rx="4.2" ry="2.3" transform="rotate(-10 -1 -54.7)" fill="#999" stroke="#1e1e1e" stroke-width="0.90"/>
<g transform="translate(11,-46) rotate(-28)" fill="#fff" stroke="#1e1e1e" stroke-width="0.9">
<path d="M0,-5 L8,-5 L8,5 L0,5 Z"/><path d="M8,-4 L19,-4 L19,4 L8,4 Z"/>
<path d="M10,-4 L10,4 M12,-4 L12,4 M14,-4 L14,4 M16,-4 L16,4" fill="none" stroke-width="0.6"/>
<ellipse cx="19" cy="0" rx="1.8" ry="4"/>
</g>
<ellipse cx="-33" cy="-22" rx="6.5" ry="8" transform="rotate(0 -33 -22)" fill="#fff" stroke="#1e1e1e" stroke-width="1.12"/>
<path d="M-19,-22 l0,6 M-20.5,-20 l1.5,-2 l1.5,2 M5,-45 l0,6 M3.5,-43 l1.5,-2 l1.5,2" fill="none" stroke="#1e1e1e" stroke-width="0.78" stroke-linejoin="round" />
<ellipse cx="0" cy="0" rx="15" ry="22.3" transform="rotate(6 0 0)" fill="#fff" stroke="#1e1e1e" stroke-width="1.23"/>
<ellipse cx="1" cy="1" rx="12.6" ry="19.6" transform="rotate(6 1 1)" fill="#fff" stroke="#1e1e1e" stroke-width="0.90"/>
</g>
<path d="M373,852 L373,728 C373,720 377,716.7 382,716.7 C388,716.7 391.3,722 391.3,730 L391.3,742" fill="none" stroke="#1e1e1e" stroke-width="6.27" stroke-linejoin="round" />
<path d="M373,852 L373,728 C373,720 377,716.7 382,716.7 C388,716.7 391.3,722 391.3,730 L391.3,742" fill="none" stroke="#fff" stroke-width="3.6"/>
<path d="M386.0,741.8 L386.0,751.0 L388.7,753.5 L393.9,753.5 L396.6,751.0 L396.6,741.8 Z" fill="#fff" stroke="#1e1e1e" stroke-width="1.01" stroke-linejoin="round" />
<path d="M388.7,743.5 L388.7,753.5 M393.9,743.5 L393.9,753.5" fill="none" stroke="#1e1e1e" stroke-width="0.78" stroke-linejoin="round" />
<path d="M386.0,741.8 Q391.3,747.6 396.6,741.8" fill="none" stroke="#1e1e1e" stroke-width="0.78" stroke-linejoin="round" />
<ellipse cx="391.3" cy="741" rx="4.505" ry="2.1624" transform="rotate(0 391.3 741)" fill="#fff" stroke="#1e1e1e" stroke-width="1.01"/>
<path d="M367.3,850.8 L367.3,860.8 L370.1,863.5 L375.9,863.5 L378.7,860.8 L378.7,850.8 Z" fill="#fff" stroke="#1e1e1e" stroke-width="1.01" stroke-linejoin="round" />
<path d="M370.1,852.7 L370.1,863.5 M375.9,852.7 L375.9,863.5" fill="none" stroke="#1e1e1e" stroke-width="0.78" stroke-linejoin="round" />
<path d="M367.3,850.8 Q373.0,857.1 378.7,850.8" fill="none" stroke="#1e1e1e" stroke-width="0.78" stroke-linejoin="round" />
<ellipse cx="373" cy="850" rx="4.845" ry="2.3255999999999997" transform="rotate(0 373 850)" fill="#fff" stroke="#1e1e1e" stroke-width="1.01"/>
<path d="M387.2,758.0 L387.2,782.5 A4.1,2.0 0 0 0 395.4,782.5 L395.4,758.0" fill="#fff" stroke="#1e1e1e" stroke-width="1.01" stroke-linejoin="round" />
<path d="M389.5,759.8 L389.5,784.3 M393.1,759.8 L393.1,784.3" fill="none" stroke="#1e1e1e" stroke-width="0.78" stroke-linejoin="round" />
<ellipse cx="391.3" cy="758" rx="3.4849999999999994" ry="1.6727999999999998" transform="rotate(0 391.3 758)" fill="#fff" stroke="#1e1e1e" stroke-width="1.01"/>
<ellipse cx="391.3" cy="758" rx="2.05" ry="0.9839999999999999" transform="rotate(0 391.3 758)" fill="#ccc" stroke="#1e1e1e" stroke-width="0.78"/>
<g transform="translate(391.3,772.5) rotate(28)" fill="#fff" stroke="#1e1e1e" stroke-width="0.9">
<path d="M2.5,-3.3 L13.1,-3.3 L13.1,3.3 L2.5,3.3"/>
<path d="M5.6,-3.3 L5.6,3.3" fill="none" stroke-width="0.55"/>
<path d="M7.0,-3.3 L7.0,3.3" fill="none" stroke-width="0.55"/>
<path d="M8.4,-3.3 L8.4,3.3" fill="none" stroke-width="0.55"/>
<path d="M9.8,-3.3 L9.8,3.3" fill="none" stroke-width="0.55"/>
<path d="M11.2,-3.3 L11.2,3.3" fill="none" stroke-width="0.55"/>
<ellipse cx="13.1" cy="0" rx="1.5" ry="3.3"/>
</g>
<path d="M387.2,760.5 Q391.3,762.0 395.4,760.5" fill="none" stroke="#1e1e1e" stroke-width="0.56" stroke-linejoin="round" />
<path d="M387.2,761.9 Q391.3,763.4 395.4,761.9" fill="none" stroke="#1e1e1e" stroke-width="0.56" stroke-linejoin="round" />
<path d="M387.2,763.3 Q391.3,764.8 395.4,763.3" fill="none" stroke="#1e1e1e" stroke-width="0.56" stroke-linejoin="round" />
<path d="M387.2,764.7 Q391.3,766.2 395.4,764.7" fill="none" stroke="#1e1e1e" stroke-width="0.56" stroke-linejoin="round" />
<ellipse cx="407.2" cy="778.6" rx="2.8" ry="3.6" transform="rotate(30 407.2 778.6)" fill="#fff" stroke="#1e1e1e" stroke-width="1.01"/>
<path d="M386.0,790.8 L386.0,801.0 L388.7,803.5 L393.9,803.5 L396.6,801.0 L396.6,790.8 Z" fill="#fff" stroke="#1e1e1e" stroke-width="1.01" stroke-linejoin="round" />
<path d="M388.7,792.5 L388.7,803.5 M393.9,792.5 L393.9,803.5" fill="none" stroke="#1e1e1e" stroke-width="0.78" stroke-linejoin="round" />
<path d="M386.0,790.8 Q391.3,796.6 396.6,790.8" fill="none" stroke="#1e1e1e" stroke-width="0.78" stroke-linejoin="round" />
<ellipse cx="391.3" cy="790" rx="4.505" ry="2.1624" transform="rotate(0 391.3 790)" fill="#fff" stroke="#1e1e1e" stroke-width="1.01"/>
<ellipse cx="391.3" cy="790" rx="2.65" ry="1.272" transform="rotate(0 391.3 790)" fill="#ccc" stroke="#1e1e1e" stroke-width="0.78"/>
<path d="M387.6,808.0 L387.6,812.2 A3.7,1.8 0 0 0 395.0,812.2 L395.0,808.0" fill="#fff" stroke="#1e1e1e" stroke-width="1.01" stroke-linejoin="round" />
<path d="M389.6,809.6 L389.6,813.8 M393.0,809.6 L393.0,813.8" fill="none" stroke="#1e1e1e" stroke-width="0.78" stroke-linejoin="round" />
<ellipse cx="391.3" cy="808" rx="3.145" ry="1.5096" transform="rotate(0 391.3 808)" fill="#fff" stroke="#1e1e1e" stroke-width="1.01"/>
<ellipse cx="391.3" cy="808" rx="1.85" ry="0.888" transform="rotate(0 391.3 808)" fill="#ccc" stroke="#1e1e1e" stroke-width="0.78"/>
<path d="M425.8,792.8 C427.8,794.8 431.0,795.8 432.5,798.0 C434.0,800.2 435.2,803.7 435.0,806.0 C434.8,808.3 433.0,810.2 431.0,812.0 C429.0,813.8 427.1,814.9 422.9,816.8 C418.7,818.7 410.3,821.1 406.0,823.3 C401.7,825.5 399.2,827.0 396.9,829.8 C394.6,832.6 393.0,836.3 392.4,840.2 C391.8,844.1 391.8,849.3 393.0,853.2 C394.2,857.1 396.5,860.9 399.5,863.6 C402.5,866.3 407.5,868.5 411.2,869.5 C414.9,870.5 418.6,871.2 421.6,869.5" fill="none" stroke="#1e1e1e" stroke-width="8.5"/>
<path d="M425.8,792.8 C427.8,794.8 431.0,795.8 432.5,798.0 C434.0,800.2 435.2,803.7 435.0,806.0 C434.8,808.3 433.0,810.2 431.0,812.0 C429.0,813.8 427.1,814.9 422.9,816.8 C418.7,818.7 410.3,821.1 406.0,823.3 C401.7,825.5 399.2,827.0 396.9,829.8 C394.6,832.6 393.0,836.3 392.4,840.2 C391.8,844.1 391.8,849.3 393.0,853.2 C394.2,857.1 396.5,860.9 399.5,863.6 C402.5,866.3 407.5,868.5 411.2,869.5 C414.9,870.5 418.6,871.2 421.6,869.5" fill="none" stroke="url(#br)" stroke-width="6.5"/>
<g transform="translate(415.2,782.2) rotate(45) scale(0.65)" fill="#fff" stroke="#1e1e1e" stroke-width="1" stroke-linejoin="round">
<path d="M13,-5.2 L22,-5.2 L22,5.2 L13,5.2 Z"/>
<path d="M14,-2 L22,-2 M14,1.8 L22,1.8" fill="none" stroke-width="0.7"/>
<path d="M21,-6.3 Q20,0 21,6.3 L24.5,6.3 Q23.5,0 24.5,-6.3 Z"/>
<path d="M-2.6,-4.25 L0,-8.5 L11,-8.5 L13.6,-4.25 L13.6,4.25 L11,8.5 L0,8.5 L-2.6,4.25 Z"/>
<path d="M0,-8.5 L2.6,-4.25 L2.6,4.25 L0,8.5 M2.6,-4.25 L13.6,-4.25 M2.6,4.25 L13.6,4.25" fill="none"/>
</g>
<g transform="translate(434.5,862) rotate(150) scale(0.65)" fill="#fff" stroke="#1e1e1e" stroke-width="1" stroke-linejoin="round">
<path d="M13,-5.2 L22,-5.2 L22,5.2 L13,5.2 Z"/>
<path d="M14,-2 L22,-2 M14,1.8 L22,1.8" fill="none" stroke-width="0.7"/>
<path d="M21,-6.3 Q20,0 21,6.3 L24.5,6.3 Q23.5,0 24.5,-6.3 Z"/>
<path d="M-2.6,-4.25 L0,-8.5 L11,-8.5 L13.6,-4.25 L13.6,4.25 L11,8.5 L0,8.5 L-2.6,4.25 Z"/>
<path d="M0,-8.5 L2.6,-4.25 L2.6,4.25 L0,8.5 M2.6,-4.25 L13.6,-4.25 M2.6,4.25 L13.6,4.25" fill="none"/>
</g>
<path d="M484.4,848.0 C484.4,843.7 479.4,839.3 480.7,835.7 C482.0,832.1 487.1,829.0 492.0,826.5 C496.9,824.0 502.9,822.2 510.0,820.5 C517.1,818.8 526.4,817.5 534.5,816.3 C542.6,815.1 550.6,815.0 558.5,813.3" fill="none" stroke="#1e1e1e" stroke-width="11"/>
<path d="M484.4,848.0 C484.4,843.7 479.4,839.3 480.7,835.7 C482.0,832.1 487.1,829.0 492.0,826.5 C496.9,824.0 502.9,822.2 510.0,820.5 C517.1,818.8 526.4,817.5 534.5,816.3 C542.6,815.1 550.6,815.0 558.5,813.3" fill="none" stroke="url(#br)" stroke-width="9"/>
<g transform="translate(484.4,871) rotate(-90) scale(1.0)" fill="#fff" stroke="#1e1e1e" stroke-width="1" stroke-linejoin="round">
<path d="M13,-5.2 L22,-5.2 L22,5.2 L13,5.2 Z"/>
<path d="M14,-2 L22,-2 M14,1.8 L22,1.8" fill="none" stroke-width="0.7"/>
<path d="M21,-6.3 Q20,0 21,6.3 L24.5,6.3 Q23.5,0 24.5,-6.3 Z"/>
<path d="M-2.6,-4.25 L0,-8.5 L11,-8.5 L13.6,-4.25 L13.6,4.25 L11,8.5 L0,8.5 L-2.6,4.25 Z"/>
<path d="M0,-8.5 L2.6,-4.25 L2.6,4.25 L0,8.5 M2.6,-4.25 L13.6,-4.25 M2.6,4.25 L13.6,4.25" fill="none"/>
</g>
<g transform="translate(581,808.5) rotate(168) scale(1.0)" fill="#fff" stroke="#1e1e1e" stroke-width="1" stroke-linejoin="round">
<path d="M13,-5.2 L22,-5.2 L22,5.2 L13,5.2 Z"/>
<path d="M14,-2 L22,-2 M14,1.8 L22,1.8" fill="none" stroke-width="0.7"/>
<path d="M21,-6.3 Q20,0 21,6.3 L24.5,6.3 Q23.5,0 24.5,-6.3 Z"/>
<path d="M-2.6,-4.25 L0,-8.5 L11,-8.5 L13.6,-4.25 L13.6,4.25 L11,8.5 L0,8.5 L-2.6,4.25 Z"/>
<path d="M0,-8.5 L2.6,-4.25 L2.6,4.25 L0,8.5 M2.6,-4.25 L13.6,-4.25 M2.6,4.25 L13.6,4.25" fill="none"/>
</g>
<path d="M456.6,801.2 L456.6,810.6 L459.1,813.0 L463.9,813.0 L466.4,810.6 L466.4,801.2 Z" fill="#fff" stroke="#1e1e1e" stroke-width="1.01" stroke-linejoin="round" />
<path d="M459.1,802.9 L459.1,813.0 M463.9,802.9 L463.9,813.0" fill="none" stroke="#1e1e1e" stroke-width="0.78" stroke-linejoin="round" />
<path d="M456.6,801.2 Q461.5,806.6 466.4,801.2" fill="none" stroke="#1e1e1e" stroke-width="0.78" stroke-linejoin="round" />
<ellipse cx="461.5" cy="800.5" rx="4.165" ry="1.9991999999999999" transform="rotate(0 461.5 800.5)" fill="#fff" stroke="#1e1e1e" stroke-width="1.01"/>
<ellipse cx="461.6" cy="824.4" rx="4.1" ry="2.3" transform="rotate(0 461.6 824.4)" fill="#fff" stroke="#1e1e1e" stroke-width="1.01"/>
<ellipse cx="443.4" cy="857.1" rx="2.8" ry="3.8" transform="rotate(20 443.4 857.1)" fill="#fff" stroke="#1e1e1e" stroke-width="1.01"/>
<path d="M457.9,835.0 L457.9,858.7 A3.7,1.8 0 0 0 465.3,858.7 L465.3,835.0" fill="#fff" stroke="#1e1e1e" stroke-width="1.01" stroke-linejoin="round" />
<path d="M459.9,836.6 L459.9,860.3 M463.3,836.6 L463.3,860.3" fill="none" stroke="#1e1e1e" stroke-width="0.78" stroke-linejoin="round" />
<ellipse cx="461.6" cy="835" rx="3.145" ry="1.5096" transform="rotate(0 461.6 835)" fill="#fff" stroke="#1e1e1e" stroke-width="1.01"/>
<ellipse cx="461.6" cy="835" rx="1.85" ry="0.888" transform="rotate(0 461.6 835)" fill="#ccc" stroke="#1e1e1e" stroke-width="0.78"/>
<g transform="translate(461.6,848.5) rotate(158)" fill="#fff" stroke="#1e1e1e" stroke-width="0.9">
<path d="M2.2,-3.0 L11.7,-3.0 L11.7,3.0 L2.2,3.0"/>
<path d="M5.2,-3.0 L5.2,3.0" fill="none" stroke-width="0.55"/>
<path d="M6.6,-3.0 L6.6,3.0" fill="none" stroke-width="0.55"/>
<path d="M8.0,-3.0 L8.0,3.0" fill="none" stroke-width="0.55"/>
<path d="M9.4,-3.0 L9.4,3.0" fill="none" stroke-width="0.55"/>
<path d="M10.8,-3.0 L10.8,3.0" fill="none" stroke-width="0.55"/>
<ellipse cx="11.7" cy="0" rx="1.3" ry="3.0"/>
</g>
<path d="M457.9,837.5 Q461.6,839.0 465.3,837.5" fill="none" stroke="#1e1e1e" stroke-width="0.56" stroke-linejoin="round" />
<path d="M457.9,838.9 Q461.6,840.4 465.3,838.9" fill="none" stroke="#1e1e1e" stroke-width="0.56" stroke-linejoin="round" />
<path d="M457.9,840.3 Q461.6,841.8 465.3,840.3" fill="none" stroke="#1e1e1e" stroke-width="0.56" stroke-linejoin="round" />
<path d="M457.9,841.7 Q461.6,843.2 465.3,841.7" fill="none" stroke="#1e1e1e" stroke-width="0.56" stroke-linejoin="round" />
<ellipse cx="461.6" cy="873.1999999999999" rx="5.2" ry="3.7" transform="rotate(0 461.6 873.1999999999999)" fill="#bbb" stroke="#1e1e1e" stroke-width="1.12"/>
<ellipse cx="461.6" cy="872.4" rx="5.2" ry="3.7" transform="rotate(0 461.6 872.4)" fill="#d6d6d6" stroke="#1e1e1e" stroke-width="1.12"/>
<ellipse cx="461.90000000000003" cy="872.6999999999999" rx="3.7439999999999998" ry="2.294" transform="rotate(0 461.90000000000003 872.6999999999999)" fill="#fff" stroke="#1e1e1e" stroke-width="0.90"/>
<ellipse cx="461.6" cy="872.4" rx="2.5" ry="1.6" transform="rotate(0 461.6 872.4)" fill="#888" stroke="#1e1e1e" stroke-width="0.67"/>
<path d="M453.5,885.2 L453.5,901.4 L457.8,905.5 L466.2,905.5 L470.5,901.4 L470.5,885.2 Z" fill="#fff" stroke="#1e1e1e" stroke-width="1.01" stroke-linejoin="round" />
<path d="M457.8,888.1 L457.8,905.5 M466.2,888.1 L466.2,905.5" fill="none" stroke="#1e1e1e" stroke-width="0.78" stroke-linejoin="round" />
<path d="M453.5,885.2 Q462.0,894.6 470.5,885.2" fill="none" stroke="#1e1e1e" stroke-width="0.78" stroke-linejoin="round" />
<ellipse cx="462" cy="884" rx="7.225" ry="3.468" transform="rotate(0 462 884)" fill="#fff" stroke="#1e1e1e" stroke-width="1.01"/>
<ellipse cx="462" cy="884" rx="4.25" ry="2.04" transform="rotate(0 462 884)" fill="#ccc" stroke="#1e1e1e" stroke-width="0.78"/>
<ellipse cx="460.2" cy="914.9" rx="9.8" ry="4.7" transform="rotate(0 460.2 914.9)" fill="#bbb" stroke="#1e1e1e" stroke-width="1.12"/>
<ellipse cx="460.2" cy="914.1" rx="9.8" ry="4.7" transform="rotate(0 460.2 914.1)" fill="#d6d6d6" stroke="#1e1e1e" stroke-width="1.12"/>
<ellipse cx="460.5" cy="914.4" rx="7.056" ry="2.914" transform="rotate(0 460.5 914.4)" fill="#fff" stroke="#1e1e1e" stroke-width="0.90"/>
<g transform="translate(462,921.8) scale(1.0)" fill="#fff" stroke="#1e1e1e" stroke-width="0.9">
<path d="M-6,12 L-6,21.5 Q0,24.5 6,21.5 L6,12 Z" fill="#8a8a8a"/>
<path d="M-6,14.5 Q0,17 6,14.5 M-6,16.8 Q0,19.3 6,16.8 M-6,19.1 Q0,21.6 6,19.1" fill="none" stroke-width="0.6"/>
<path d="M-8.6,9 L-8,12.5 L-5.5,14 L5.5,14 L8,12.5 L8.6,9 L8,6.5 L5.5,5.5 L-5.5,5.5 L-8,6.5 Z"/>
<path d="M-5.5,5.5 L-5.5,14 M5.5,5.5 L5.5,14 M-8.6,9 L8.6,9" fill="none" stroke-width="0.6"/>
<path d="M-5.3,2 L-5.3,7.5 Q0,9.5 5.3,7.5 L5.3,2 Z" fill="#909090"/>
<path d="M-5.3,4.3 Q0,6.3 5.3,4.3 M-5.3,6.2 Q0,8.2 5.3,6.2" fill="none" stroke-width="0.55"/>
<ellipse cx="0" cy="2" rx="5.3" ry="2.6"/><ellipse cx="0" cy="2" rx="3" ry="1.4" fill="#ddd"/>
</g>
<ellipse cx="462" cy="957.0999999999999" rx="9.3" ry="4.9" transform="rotate(0 462 957.0999999999999)" fill="#bbb" stroke="#1e1e1e" stroke-width="1.12"/>
<ellipse cx="462" cy="956.3" rx="9.3" ry="4.9" transform="rotate(0 462 956.3)" fill="#d6d6d6" stroke="#1e1e1e" stroke-width="1.12"/>
<ellipse cx="462.3" cy="956.5999999999999" rx="6.696000000000001" ry="3.0380000000000003" transform="rotate(0 462.3 956.5999999999999)" fill="#fff" stroke="#1e1e1e" stroke-width="0.90"/>
<ellipse cx="483.6" cy="944.0999999999999" rx="8.7" ry="4.3" transform="rotate(0 483.6 944.0999999999999)" fill="#bbb" stroke="#1e1e1e" stroke-width="1.12"/>
<ellipse cx="483.6" cy="943.3" rx="8.7" ry="4.3" transform="rotate(0 483.6 943.3)" fill="#d6d6d6" stroke="#1e1e1e" stroke-width="1.12"/>
<ellipse cx="483.90000000000003" cy="943.5999999999999" rx="6.263999999999999" ry="2.666" transform="rotate(0 483.90000000000003 943.5999999999999)" fill="#fff" stroke="#1e1e1e" stroke-width="0.90"/>
<g transform="translate(-223,407)">
<ellipse cx="496" cy="492.5" rx="21.5" ry="31.5" transform="rotate(15 496 492.5)" fill="#fff" stroke="#1e1e1e" stroke-width="1.23"/>
<path d="M486.1,522.3 L552.6,549.1 L572.4,489.5 L505.9,462.7 Z" fill="#fff" stroke="#1e1e1e" stroke-width="0.00" stroke-linejoin="round" />
<path d="M486.1,522.3 L552.6,549.1 M572.4,489.5 L505.9,462.7" fill="none" stroke="#1e1e1e" stroke-width="1.23" stroke-linejoin="round" />
<path d="M496.2,462.1 L562.7,488.9" fill="none" stroke="#1e1e1e" stroke-width="0.73" stroke-linejoin="round" />
<path d="M489.6,465.1 L556.1,491.9" fill="none" stroke="#1e1e1e" stroke-width="0.73" stroke-linejoin="round" />
<path d="M485.2,468.9 L551.7,495.7" fill="none" stroke="#1e1e1e" stroke-width="0.73" stroke-linejoin="round" />
<path d="M481.8,472.9 L548.3,499.7" fill="none" stroke="#1e1e1e" stroke-width="0.73" stroke-linejoin="round" />
<path d="M479.0,477.3 L545.5,504.1" fill="none" stroke="#1e1e1e" stroke-width="0.73" stroke-linejoin="round" />
<path d="M476.9,482.0 L543.4,508.8" fill="none" stroke="#1e1e1e" stroke-width="0.73" stroke-linejoin="round" />
<path d="M475.2,486.9 L541.7,513.7" fill="none" stroke="#1e1e1e" stroke-width="0.73" stroke-linejoin="round" />
<path d="M474.2,492.0 L540.7,518.8" fill="none" stroke="#1e1e1e" stroke-width="0.73" stroke-linejoin="round" />
<path d="M473.7,497.4 L540.2,524.2" fill="none" stroke="#1e1e1e" stroke-width="0.73" stroke-linejoin="round" />
<path d="M473.9,502.9 L540.4,529.7" fill="none" stroke="#1e1e1e" stroke-width="0.73" stroke-linejoin="round" />
<path d="M475.2,509.0 L541.7,535.8" fill="none" stroke="#1e1e1e" stroke-width="0.73" stroke-linejoin="round" />
<path d="M478.4,515.9 L544.9,542.7" fill="none" stroke="#1e1e1e" stroke-width="0.73" stroke-linejoin="round" />
<path d="M512.7,532.5 L511.2,531.2 L509.8,529.8 L508.5,528.1 L507.3,526.3 L506.3,524.3 L505.5,522.1 L504.8,519.9 L504.2,517.5 L503.9,515.0 L503.7,512.4 L503.6,509.7 L503.8,507.1 L504.1,504.4 L504.5,501.7 L505.2,499.0 L505.9,496.4 L506.9,493.8 L508.0,491.3 L509.2,488.9 L510.5,486.7 L512.0,484.5 L513.6,482.5 L515.3,480.7 L517.0,479.1 L518.8,477.7 L520.7,476.4 L522.6,475.4 L524.5,474.6 L526.5,474.1 L528.4,473.7 L530.3,473.6 L532.2,473.8 L534.1,474.1 L535.9,474.7 L537.6,475.6" fill="none" stroke="#1e1e1e" stroke-width="0.90" stroke-linejoin="round" />
<path d="M492,471 l11,4.5 l-0.8,2.9 l-11,-4.5 Z" fill="#bbb" stroke="#1e1e1e" stroke-width="0.90" stroke-linejoin="round" />
<path d="M492.6,472.0 l10,4.1 M492.3,473.0 l10,4.1" fill="none" stroke="#1e1e1e" stroke-width="0.50" stroke-linejoin="round" />
<path d="M487,480 l11,4.5 l-0.8,2.9 l-11,-4.5 Z" fill="#bbb" stroke="#1e1e1e" stroke-width="0.90" stroke-linejoin="round" />
<path d="M487.6,481.0 l10,4.1 M487.3,482.0 l10,4.1" fill="none" stroke="#1e1e1e" stroke-width="0.50" stroke-linejoin="round" />
<path d="M482,493 l11,4.5 l-0.8,2.9 l-11,-4.5 Z" fill="#bbb" stroke="#1e1e1e" stroke-width="0.90" stroke-linejoin="round" />
<path d="M482.6,494.0 l10,4.1 M482.3,495.0 l10,4.1" fill="none" stroke="#1e1e1e" stroke-width="0.50" stroke-linejoin="round" />
<path d="M482,509 l11,4.5 l-0.8,2.9 l-11,-4.5 Z" fill="#bbb" stroke="#1e1e1e" stroke-width="0.90" stroke-linejoin="round" />
<path d="M482.6,510.0 l10,4.1 M482.3,511.0 l10,4.1" fill="none" stroke="#1e1e1e" stroke-width="0.50" stroke-linejoin="round" />
<path d="M486,521 l11,4.5 l-0.8,2.9 l-11,-4.5 Z" fill="#bbb" stroke="#1e1e1e" stroke-width="0.90" stroke-linejoin="round" />
<path d="M486.6,522.0 l10,4.1 M486.3,523.0 l10,4.1" fill="none" stroke="#1e1e1e" stroke-width="0.50" stroke-linejoin="round" />
<path d="M516,472 l11,4.5 l-0.8,2.9 l-11,-4.5 Z" fill="#bbb" stroke="#1e1e1e" stroke-width="0.90" stroke-linejoin="round" />
<path d="M516.6,473.0 l10,4.1 M516.3,474.0 l10,4.1" fill="none" stroke="#1e1e1e" stroke-width="0.50" stroke-linejoin="round" />
<path d="M540,487 l11,4.5 l-0.8,2.9 l-11,-4.5 Z" fill="#bbb" stroke="#1e1e1e" stroke-width="0.90" stroke-linejoin="round" />
<path d="M540.6,488.0 l10,4.1 M540.3,489.0 l10,4.1" fill="none" stroke="#1e1e1e" stroke-width="0.50" stroke-linejoin="round" />
<path d="M530,500 l11,4.5 l-0.8,2.9 l-11,-4.5 Z" fill="#bbb" stroke="#1e1e1e" stroke-width="0.90" stroke-linejoin="round" />
<path d="M530.6,501.0 l10,4.1 M530.3,502.0 l10,4.1" fill="none" stroke="#1e1e1e" stroke-width="0.50" stroke-linejoin="round" />
<path d="M526,514 l11,4.5 l-0.8,2.9 l-11,-4.5 Z" fill="#bbb" stroke="#1e1e1e" stroke-width="0.90" stroke-linejoin="round" />
<path d="M526.6,515.0 l10,4.1 M526.3,516.0 l10,4.1" fill="none" stroke="#1e1e1e" stroke-width="0.50" stroke-linejoin="round" />
<path d="M528,530 l11,4.5 l-0.8,2.9 l-11,-4.5 Z" fill="#bbb" stroke="#1e1e1e" stroke-width="0.90" stroke-linejoin="round" />
<path d="M528.6,531.0 l10,4.1 M528.3,532.0 l10,4.1" fill="none" stroke="#1e1e1e" stroke-width="0.50" stroke-linejoin="round" />
<path d="M506,466 l11,4.5 l-0.8,2.9 l-11,-4.5 Z" fill="#bbb" stroke="#1e1e1e" stroke-width="0.90" stroke-linejoin="round" />
<path d="M506.6,467.0 l10,4.1 M506.3,468.0 l10,4.1" fill="none" stroke="#1e1e1e" stroke-width="0.50" stroke-linejoin="round" />
<ellipse cx="506.6" cy="442.5" rx="7.5" ry="11.4" transform="rotate(27.5 506.6 442.5)" fill="#fff" stroke="#1e1e1e" stroke-width="1.23"/>
<path d="M501.3,452.6 L555.0,480.5 L565.6,460.3 L511.9,432.4 Z" fill="#fff" stroke="#1e1e1e" stroke-width="0.00" stroke-linejoin="round" />
<path d="M501.3,452.6 L555.0,480.5 M565.6,460.3 L511.9,432.4" fill="none" stroke="#1e1e1e" stroke-width="1.23" stroke-linejoin="round" />
<path d="M511.7,458.0 L511.2,457.7 L510.7,457.3 L510.2,456.8 L509.8,456.2 L509.4,455.6 L509.1,454.9 L508.9,454.2 L508.7,453.4 L508.6,452.6 L508.5,451.7 L508.5,450.9 L508.6,450.0 L508.7,449.0 L508.9,448.1 L509.2,447.2 L509.5,446.2 L509.9,445.3 L510.3,444.4 L510.8,443.6 L511.4,442.7 L511.9,441.9 L512.5,441.2 L513.2,440.5 L513.9,439.8 L514.6,439.3 L515.3,438.7 L516.0,438.3 L516.8,437.9 L517.5,437.6 L518.2,437.4 L519.0,437.3 L519.7,437.2 L520.4,437.2 L521.0,437.3 L521.7,437.5" fill="none" stroke="#1e1e1e" stroke-width="1.01" stroke-linejoin="round" />
<ellipse cx="560.3" cy="470.4" rx="7.5" ry="11.4" transform="rotate(27.5 560.3 470.4)" fill="#fff" stroke="#1e1e1e" stroke-width="1.23"/>
<path d="M557,465 L554,490 L561,493 L564,467 Z" fill="#fff" stroke="#1e1e1e" stroke-width="1.01" stroke-linejoin="round" />
<ellipse cx="561" cy="472" rx="2.6" ry="2.6" transform="rotate(0 561 472)" fill="#fff" stroke="#1e1e1e" stroke-width="1.01"/>
<ellipse cx="562.5" cy="519.3" rx="21.5" ry="30.5" transform="rotate(15 562.5 519.3)" fill="#fff" stroke="#1e1e1e" stroke-width="1.23"/>
<ellipse cx="563.5" cy="520" rx="18.5" ry="27" transform="rotate(15 563.5 520)" fill="none" stroke="#1e1e1e" stroke-width="0.90"/>
<path d="M562.1,496.1 L564.3,496.0 L566.6,496.4 L568.7,497.3 L567.6,502.0 L565.9,501.3 L564.2,501.0 L562.4,501.1 Z" fill="#fff" stroke="#1e1e1e" stroke-width="0.90" stroke-linejoin="round" />
<path d="M578.0,509.9 L578.8,513.0 L579.3,516.2 L579.5,519.6 L576.0,519.7 L575.8,517.0 L575.5,514.4 L574.8,512.0 Z" fill="#fff" stroke="#1e1e1e" stroke-width="0.90" stroke-linejoin="round" />
<path d="M574.8,537.0 L573.1,539.2 L571.3,541.0 L569.2,542.4 L568.0,537.7 L569.6,536.6 L571.0,535.2 L572.3,533.4 Z" fill="#fff" stroke="#1e1e1e" stroke-width="0.90" stroke-linejoin="round" />
<path d="M556.7,541.8 L554.8,540.1 L553.0,538.1 L551.4,535.7 L554.1,532.5 L555.3,534.3 L556.7,535.9 L558.2,537.2 Z" fill="#fff" stroke="#1e1e1e" stroke-width="0.90" stroke-linejoin="round" />
<path d="M547.6,517.9 L547.9,514.6 L548.6,511.4 L549.5,508.4 L552.6,510.8 L551.8,513.2 L551.3,515.7 L551.0,518.3 Z" fill="#fff" stroke="#1e1e1e" stroke-width="0.90" stroke-linejoin="round" />
<ellipse cx="567" cy="522.8" rx="13" ry="17" transform="rotate(15 567 522.8)" fill="#fff" stroke="#1e1e1e" stroke-width="1.12"/>
<ellipse cx="568" cy="523.5" rx="10.5" ry="14" transform="rotate(15 568 523.5)" fill="none" stroke="#1e1e1e" stroke-width="0.90"/>
<ellipse cx="568.8" cy="524" rx="8.5" ry="11.5" transform="rotate(15 568.8 524)" fill="none" stroke="#1e1e1e" stroke-width="0.78"/>
<ellipse cx="569.5" cy="524.5" rx="5" ry="6.5" transform="rotate(15 569.5 524.5)" fill="#fff" stroke="#1e1e1e" stroke-width="1.01"/>
<path d="M567,524 L573,526" fill="none" stroke="#1e1e1e" stroke-width="1.34" stroke-linejoin="round" />
<ellipse cx="540" cy="549" rx="2.2" ry="2.2" transform="rotate(0 540 549)" fill="#fff" stroke="#1e1e1e" stroke-width="1.01"/>
</g>
<g fill="none" stroke="#1e1e1e" stroke-width="0.95">
<path d="M273.5,873.4 C268,862 265,845 270,836 C274,830 284,832 288.6,841.1"/>
<path d="M275,873 C270,862 267.5,846 272,838 C276,832.5 283,834 287,842"/>
<path d="M272.5,873.4 C258,866 242,862 235,872 C229,882 231,900 236,912 C240,922 246,930 249.3,933.8"/>
<path d="M274,874.5 C260,868 245,865 238,874 C232.5,883 234,899 239,911 C243,921 248,928 251,932"/>
<path d="M275.5,875.5 C262,870 248,868 241,876 C236,884 237,898 242,910 C246,920 250,927 252.5,930.5"/>
</g>
<path d="M218.2,919 L231,916.2 L243,922 L243,936.5 L230,939.6 L218.2,934 Z" fill="#fff" stroke="#1e1e1e" stroke-width="1.23" stroke-linejoin="round" />
<path d="M218.2,919 L230,924 L243,922 M230,924 L230,939.6 M222,921.5 l0,14 M224.5,923 l0,14 M234,920 l0,14 M238,919.5 l0,14 M218.2,927 l11.8,5 l13,-3" fill="none" stroke="#1e1e1e" stroke-width="0.90" stroke-linejoin="round" />
<path d="M260.6,961.1 L283.2,948.6 L285.3,966.5 L291.8,969.7 L300.4,963.4 L309.0,958.7 L319.1,963.4 L310.5,971.2 L305.1,976.7 L305.1,982.1 L326.1,994.6 L339.4,986.8 L348.0,981.4 L358.1,986.8 L352.7,991.5 L351.9,992.0 L351.9,1002.4 L326.9,1014.9 L307.4,1014.9 L300.4,1019.6 L291.8,1013.3 L300.4,1011.0 L302.7,1008.7 L280.9,994.5 L272.0,990.5 L270.7,994.3 L262.2,998.5 L252.8,990.7 L260.6,986.8 L261.4,979.8 Z" fill="#fff" stroke="#1e1e1e" stroke-width="1.12" stroke-linejoin="round" />
<path d="M261.4,979.8 L285.3,966.5 M268.4,985.3 L305.1,976.7 M272,990.5 L305.1,982.1 M305.1,982.1 L326.1,994.6 M326.1,994.6 L326.9,1014.9 M326.1,994.6 L351.9,983 M302.7,1008.7 L326.5,1004 M283.2,948.6 L284.2,950.5 L286.3,968 M280.9,994.5 L281.5,991 M339.4,986.8 L341,990" fill="none" stroke="#1e1e1e" stroke-width="1.01" stroke-linejoin="round" />
<ellipse cx="273.1" cy="960" rx="1.6" ry="1.3" transform="rotate(0 273.1 960)" fill="#fff" stroke="#1e1e1e" stroke-width="0.90"/>
<ellipse cx="312.1" cy="963.4" rx="1.6" ry="1.3" transform="rotate(0 312.1 963.4)" fill="#fff" stroke="#1e1e1e" stroke-width="0.90"/>
<ellipse cx="261.4" cy="992.7" rx="1.6" ry="1.3" transform="rotate(0 261.4 992.7)" fill="#fff" stroke="#1e1e1e" stroke-width="0.90"/>
<ellipse cx="350.8" cy="986" rx="1.6" ry="1.3" transform="rotate(0 350.8 986)" fill="#fff" stroke="#1e1e1e" stroke-width="0.90"/>
<ellipse cx="339.4" cy="999" rx="1.6" ry="1.3" transform="rotate(0 339.4 999)" fill="#fff" stroke="#1e1e1e" stroke-width="0.90"/>
<ellipse cx="299.6" cy="1015.7" rx="1.6" ry="1.3" transform="rotate(0 299.6 1015.7)" fill="#fff" stroke="#1e1e1e" stroke-width="0.90"/>
<g transform="translate(261.8,1003.4)">
<rect x="-1.8" y="19" width="3.6" height="9" rx="1.2" fill="#111"/>
<path d="M-7,7.5 L-7,19 A7,2.8 0 0 0 7,19 L7,7.5 Z" fill="#141414"/>
<ellipse cx="0" cy="7.5" rx="7" ry="3" fill="#fff" stroke="#111" stroke-width="1"/>
<rect x="-1.9" y="0.5" width="3.8" height="8" rx="1.5" fill="#111"/>
<ellipse cx="0" cy="1.3" rx="1.3" ry="0.8" fill="#fff"/>
</g>
<ellipse cx="372.7" cy="949.3" rx="12.8" ry="16.8" transform="rotate(30 372.7 949.3)" fill="#fff" stroke="#1e1e1e" stroke-width="1.23"/>
<path d="M376.7,963.0 L381.2,960.3 L373.2,932.9 L368.7,935.6 Z" fill="#fff" stroke="#1e1e1e" stroke-width="0.00" stroke-linejoin="round" />
<path d="M376.7,963.0 L381.2,960.3 M373.2,932.9 L368.7,935.6" fill="none" stroke="#1e1e1e" stroke-width="1.23" stroke-linejoin="round" />
<ellipse cx="377.2" cy="946.5999999999999" rx="12.8" ry="16.8" transform="rotate(30 377.2 946.5999999999999)" fill="#fff" stroke="#1e1e1e" stroke-width="1.23"/>
<path d="M380.5,960.4 L379.5,961.3 L378.3,962.1 L377.1,962.7 L375.9,963.3 L374.7,963.7 L373.5,964.1 L372.3,964.3 L371.1,964.4 L369.9,964.4 L368.8,964.2 L367.7,963.9 L366.6,963.5 L365.7,963.0 L364.7,962.4 L363.9,961.7 L363.1,960.9 L362.4,960.0 L361.8,959.0 L361.2,957.9 L360.8,956.7 L360.5,955.5 L360.3,954.3 L360.2,952.9 L360.2,951.6 L360.2,950.2 L360.5,948.8 L360.8,947.5 L361.2,946.1 L361.7,944.7 L362.3,943.4 L363.0,942.1 L363.7,940.8 L364.6,939.7 L365.5,938.5 L366.5,937.5" fill="none" stroke="#1e1e1e" stroke-width="0.90" stroke-linejoin="round" />
<path d="M381.7,959.8 L380.6,960.6 L379.4,961.4 L378.3,962.1 L377.1,962.6 L375.9,963.1 L374.7,963.4 L373.4,963.6 L372.2,963.7 L371.1,963.7 L369.9,963.5 L368.8,963.3 L367.8,962.9 L366.8,962.4 L365.8,961.8 L365.0,961.0 L364.2,960.2 L363.5,959.3 L362.9,958.3 L362.4,957.2 L361.9,956.1 L361.6,954.8 L361.4,953.6 L361.3,952.3 L361.3,950.9 L361.4,949.5 L361.6,948.2 L361.9,946.8 L362.3,945.4 L362.8,944.0 L363.4,942.7 L364.1,941.4 L364.9,940.2 L365.7,939.0 L366.6,937.9 L367.6,936.8" fill="none" stroke="#1e1e1e" stroke-width="0.90" stroke-linejoin="round" />
<ellipse cx="378.4" cy="947.3999999999999" rx="8.192" ry="11.927999999999999" transform="rotate(30 378.4 947.3999999999999)" fill="#fff" stroke="#1e1e1e" stroke-width="1.12"/>
<ellipse cx="379.2" cy="947.8999999999999" rx="7.168000000000001" ry="10.752" transform="rotate(30 379.2 947.8999999999999)" fill="none" stroke="#1e1e1e" stroke-width="0.78"/>
<ellipse cx="377.59999999999997" cy="946.8" rx="10.88" ry="14.784" transform="rotate(30 377.59999999999997 946.8)" fill="none" stroke="#1e1e1e" stroke-width="0.78"/>
<ellipse cx="388.9" cy="957.7" rx="6.2" ry="8.6" transform="rotate(30 388.9 957.7)" fill="#fff" stroke="#1e1e1e" stroke-width="1.12"/>
<path d="M384.7,965.2 L399.2,973.2 L407.6,958.2 L393.1,950.2 Z" fill="#fff" stroke="#1e1e1e" stroke-width="0.00" stroke-linejoin="round" />
<path d="M384.7,965.2 L399.2,973.2 M407.6,958.2 L393.1,950.2" fill="none" stroke="#1e1e1e" stroke-width="1.12" stroke-linejoin="round" />
<ellipse cx="403.4" cy="965.7" rx="6.2" ry="8.6" transform="rotate(30 403.4 965.7)" fill="#fff" stroke="#1e1e1e" stroke-width="1.12"/>
<ellipse cx="403.7" cy="966.0" rx="3.4" ry="1.5" transform="rotate(-40 403.7 966.0)" fill="#fff" stroke="#1e1e1e" stroke-width="0.90"/>
<g transform="translate(484,1004.3) scale(0.83)">
<g transform="translate(-9,0)">
<ellipse cx="-61" cy="-33" rx="14.5" ry="23.5" transform="rotate(12 -61 -33)" fill="#fff" stroke="#1e1e1e" stroke-width="1.12"/>
<ellipse cx="-60" cy="-32.5" rx="11.8" ry="20.8" transform="rotate(12 -60 -32.5)" fill="#fff" stroke="#1e1e1e" stroke-width="1.01"/>
<path d="M-73,-37 C-74,-28 -72,-18 -66,-12" fill="none" stroke="#1e1e1e" stroke-width="0.67" stroke-linejoin="round" />
<path d="M-71,-50 L-46,-64" fill="none" stroke="#1e1e1e" stroke-width="2.46" stroke-linejoin="round" />
<path d="M-71,-50 L-46,-64" fill="none" stroke="#1e1e1e" stroke-width="1.01" stroke-linejoin="round" stroke="#fff"/>
<path d="M-71,-54 L-65,-56 L-63,-48 L-69,-45 Z" fill="#fff" stroke="#1e1e1e" stroke-width="0.9"/>
<path d="M-59,-62 L-52,-64 L-50,-53 L-57,-50 Z" fill="#fff" stroke="#1e1e1e" stroke-width="0.9"/>
<ellipse cx="-46" cy="-63" rx="3.2" ry="3.6" transform="rotate(0 -46 -63)" fill="#fff" stroke="#1e1e1e" stroke-width="1.01"/>
</g>
<ellipse cx="-55.0" cy="-22.5" rx="9" ry="21" transform="rotate(-5 -55.0 -22.5)" fill="#fff" stroke="#1e1e1e" stroke-width="1.12"/>
<ellipse cx="-54.1" cy="-22.2" rx="7.6" ry="19.5" transform="rotate(-5 -54.1 -22.2)" fill="none" stroke="#1e1e1e" stroke-width="0.67"/>
<ellipse cx="-52.2" cy="-21.6" rx="9" ry="21" transform="rotate(-5 -52.2 -21.6)" fill="#fff" stroke="#1e1e1e" stroke-width="1.12"/>
<ellipse cx="-51.300000000000004" cy="-21.3" rx="7.6" ry="19.5" transform="rotate(-5 -51.300000000000004 -21.3)" fill="none" stroke="#1e1e1e" stroke-width="0.67"/>
<ellipse cx="-49.4" cy="-20.7" rx="9" ry="21" transform="rotate(-5 -49.4 -20.7)" fill="#fff" stroke="#1e1e1e" stroke-width="1.12"/>
<ellipse cx="-48.5" cy="-20.4" rx="7.6" ry="19.5" transform="rotate(-5 -48.5 -20.4)" fill="none" stroke="#1e1e1e" stroke-width="0.67"/>
<ellipse cx="-46.6" cy="-19.8" rx="9" ry="21" transform="rotate(-5 -46.6 -19.8)" fill="#fff" stroke="#1e1e1e" stroke-width="1.12"/>
<ellipse cx="-45.7" cy="-19.5" rx="7.6" ry="19.5" transform="rotate(-5 -45.7 -19.5)" fill="none" stroke="#1e1e1e" stroke-width="0.67"/>
<ellipse cx="-43.8" cy="-18.9" rx="9" ry="21" transform="rotate(-5 -43.8 -18.9)" fill="#fff" stroke="#1e1e1e" stroke-width="1.12"/>
<ellipse cx="-42.9" cy="-18.599999999999998" rx="7.6" ry="19.5" transform="rotate(-5 -42.9 -18.599999999999998)" fill="none" stroke="#1e1e1e" stroke-width="0.67"/>
<ellipse cx="-41.0" cy="-18.0" rx="9" ry="21" transform="rotate(-5 -41.0 -18.0)" fill="#fff" stroke="#1e1e1e" stroke-width="1.12"/>
<ellipse cx="-40.1" cy="-17.7" rx="7.6" ry="19.5" transform="rotate(-5 -40.1 -17.7)" fill="none" stroke="#1e1e1e" stroke-width="0.67"/>
<ellipse cx="-34" cy="-19" rx="15" ry="22.3" transform="rotate(6 -34 -19)" fill="#fff" stroke="#1e1e1e" stroke-width="1.12"/>
<path d="M-40.4,1.9 L-6.4,20.9 L6.4,-20.9 L-27.6,-39.9 Z" fill="#fff" stroke="#1e1e1e" stroke-width="0.00" stroke-linejoin="round" />
<path d="M-40.4,1.9 L-6.4,20.9 M6.4,-20.9 L-27.6,-39.9" fill="none" stroke="#1e1e1e" stroke-width="1.12" stroke-linejoin="round" />
<ellipse cx="0" cy="0" rx="15" ry="22.3" transform="rotate(6 0 0)" fill="#fff" stroke="#1e1e1e" stroke-width="1.12"/>
<path d="M-37,-36 L-37,-14 L-29,-4 L-20,1 L-19,-22 L-12,-27 L-12,-52 L0,-55 L11,-52 L10,-26 L1,-20 Z" fill="#fff" stroke="#1e1e1e" stroke-width="1.12" stroke-linejoin="round" />
<path d="M-23,-33 L-23,-8 M-20,-25 L-12,-28 M-12,-28 L1,-24 M1,-24 L1,-47" fill="none" stroke="#1e1e1e" stroke-width="0.90" stroke-linejoin="round" />
<path d="M-36.5,-41.5 L-27.2,-45.2 L-14,-39.6 L-23.4,-35.4 Z" fill="#fff" stroke="#1e1e1e" stroke-width="1.12" stroke-linejoin="round" />
<path d="M-36.5,-41.5 L-36.5,-34 M-23.4,-35.4 L-23.4,-27 M-14,-39.6 L-14,-31" fill="none" stroke="#1e1e1e" stroke-width="1.12" stroke-linejoin="round" />
<ellipse cx="-25.2" cy="-40.3" rx="4.2" ry="2.3" transform="rotate(-10 -25.2 -40.3)" fill="#999" stroke="#1e1e1e" stroke-width="0.90"/>
<path d="M-12.8,-56.2 L-3.4,-60.1 L11.4,-53.8 L1.2,-49.2 Z" fill="#fff" stroke="#1e1e1e" stroke-width="1.12" stroke-linejoin="round" />
<path d="M-12.8,-56.2 L-12.8,-30 M1.2,-49.2 L1.2,-24 M11.4,-53.8 L10.5,-26" fill="none" stroke="#1e1e1e" stroke-width="1.12" stroke-linejoin="round" />
<ellipse cx="-1" cy="-54.7" rx="4.2" ry="2.3" transform="rotate(-10 -1 -54.7)" fill="#999" stroke="#1e1e1e" stroke-width="0.90"/>
<g transform="translate(11,-46) rotate(-28)" fill="#fff" stroke="#1e1e1e" stroke-width="0.9">
<path d="M0,-5 L8,-5 L8,5 L0,5 Z"/><path d="M8,-4 L19,-4 L19,4 L8,4 Z"/>
<path d="M10,-4 L10,4 M12,-4 L12,4 M14,-4 L14,4 M16,-4 L16,4" fill="none" stroke-width="0.6"/>
<ellipse cx="19" cy="0" rx="1.8" ry="4"/>
</g>
<ellipse cx="-33" cy="-22" rx="6.5" ry="8" transform="rotate(0 -33 -22)" fill="#fff" stroke="#1e1e1e" stroke-width="1.12"/>
<path d="M-19,-22 l0,6 M-20.5,-20 l1.5,-2 l1.5,2 M5,-45 l0,6 M3.5,-43 l1.5,-2 l1.5,2" fill="none" stroke="#1e1e1e" stroke-width="0.78" stroke-linejoin="round" />
<ellipse cx="0" cy="0" rx="15" ry="22.3" transform="rotate(6 0 0)" fill="#fff" stroke="#1e1e1e" stroke-width="1.23"/>
<ellipse cx="1" cy="1" rx="12.6" ry="19.6" transform="rotate(6 1 1)" fill="#fff" stroke="#1e1e1e" stroke-width="0.90"/>
</g>
<text x="145.13" y="26.70" font-size="15" fill="#d0121c" stroke="#d0121c" stroke-width="0.35">7</text>
<text x="165.53" y="26.70" font-size="15" fill="#d0121c" stroke="#d0121c" stroke-width="0.35">6</text>
<text x="189.83" y="26.70" font-size="15" fill="#d0121c" stroke="#d0121c" stroke-width="0.35">4</text>
<text x="125.63" y="227.20" font-size="15" fill="#d0121c" stroke="#d0121c" stroke-width="0.35">3</text>
<text x="125.63" y="269.20" font-size="15" fill="#d0121c" stroke="#d0121c" stroke-width="0.35">2</text>
<path d="M129.74,303.70 L131.61,303.70 L131.61,292.94 L130.16,292.94 C129.74,294.49 128.71,295.11 127.16,295.32 L127.16,296.67 C128.30,296.56 129.23,296.25 129.74,295.73 Z" fill="#d0121c" stroke="#d0121c" stroke-width="0.21"/>
<text x="38.53" y="312.70" font-size="15" fill="#d0121c" stroke="#d0121c" stroke-width="0.35">5</text>
<path d="M287.57,313.20 L289.44,313.20 L289.44,302.44 L287.99,302.44 C287.57,303.99 286.54,304.61 284.99,304.82 L284.99,306.17 C286.13,306.06 287.06,305.75 287.57,305.23 Z" fill="#d0121c" stroke="#d0121c" stroke-width="0.21"/>
<text x="292.50" y="313.20" font-size="15" fill="#d0121c" stroke="#d0121c" stroke-width="0.35">8</text>
<polyline points="148.5,32.8 148.5,48.0" fill="none" stroke="#d42a2a" stroke-width="1.1"/>
<polygon points="148.5,48.0 146.4,41.0 150.6,41.0" fill="#d0121c"/>
<polyline points="169.5,35.0 169.5,59.7" fill="none" stroke="#d42a2a" stroke-width="1.1"/>
<polygon points="169.5,59.7 167.4,52.7 171.6,52.7" fill="#d0121c"/>
<polyline points="194.5,34.0 194.5,70.2" fill="none" stroke="#d42a2a" stroke-width="1.1"/>
<polygon points="194.5,70.2 192.4,63.2 196.6,63.2" fill="#d0121c"/>
<polyline points="137.0,223.5 160.0,223.5" fill="none" stroke="#d42a2a" stroke-width="1.1"/>
<polygon points="160.0,223.5 153.0,225.6 153.0,221.4" fill="#d0121c"/>
<polyline points="137.0,264.5 158.0,264.5" fill="none" stroke="#d42a2a" stroke-width="1.1"/>
<polygon points="158.0,264.5 151.0,266.6 151.0,262.4" fill="#d0121c"/>
<polyline points="137.0,298.5 159.0,298.5" fill="none" stroke="#d42a2a" stroke-width="1.1"/>
<polygon points="159.0,298.5 152.0,300.6 152.0,296.4" fill="#d0121c"/>
<polyline points="49.4,307.5 71.0,307.5" fill="none" stroke="#d42a2a" stroke-width="1.1"/>
<polygon points="71.0,307.5 64.0,309.6 64.0,305.4" fill="#d0121c"/>
<polyline points="304.0,307.5 324.0,307.5" fill="none" stroke="#d42a2a" stroke-width="1.1"/>
<polygon points="324.0,307.5 317.0,309.6 317.0,305.4" fill="#d0121c"/>
<path d="M504.57,28.70 L506.44,28.70 L506.44,17.94 L504.99,17.94 C504.57,19.49 503.54,20.11 501.99,20.32 L501.99,21.67 C503.13,21.56 504.06,21.25 504.57,20.73 Z" fill="#d0121c" stroke="#d0121c" stroke-width="0.21"/>
<text x="509.50" y="28.70" font-size="15" fill="#d0121c" stroke="#d0121c" stroke-width="0.35">0</text>
<text x="439.73" y="70.20" font-size="15" fill="#d0121c" stroke="#d0121c" stroke-width="0.35">9</text>
<text x="372.43" y="113.70" font-size="15" fill="#d0121c" stroke="#d0121c" stroke-width="0.35">7</text>
<text x="394.63" y="147.20" font-size="15" fill="#d0121c" stroke="#d0121c" stroke-width="0.35">6</text>
<text x="372.03" y="182.70" font-size="15" fill="#d0121c" stroke="#d0121c" stroke-width="0.35">8</text>
<path d="M534.97,160.40 L536.84,160.40 L536.84,149.64 L535.39,149.64 C534.97,151.19 533.94,151.81 532.39,152.02 L532.39,153.37 C533.53,153.26 534.46,152.95 534.97,152.43 Z" fill="#d0121c" stroke="#d0121c" stroke-width="0.21"/>
<text x="539.90" y="160.40" font-size="15" fill="#d0121c" stroke="#d0121c" stroke-width="0.35">6</text>
<path d="M608.77,196.70 L610.64,196.70 L610.64,185.94 L609.19,185.94 C608.77,187.49 607.74,188.11 606.19,188.32 L606.19,189.67 C607.33,189.56 608.26,189.25 608.77,188.73 Z" fill="#d0121c" stroke="#d0121c" stroke-width="0.21"/>
<text x="613.70" y="196.70" font-size="15" fill="#d0121c" stroke="#d0121c" stroke-width="0.35">3</text>
<path d="M694.27,226.20 L696.14,226.20 L696.14,215.44 L694.69,215.44 C694.27,216.99 693.24,217.61 691.69,217.82 L691.69,219.17 C692.83,219.06 693.76,218.75 694.27,218.23 Z" fill="#d0121c" stroke="#d0121c" stroke-width="0.21"/>
<text x="699.20" y="226.20" font-size="15" fill="#d0121c" stroke="#d0121c" stroke-width="0.35">0</text>
<path d="M622.07,298.20 L623.94,298.20 L623.94,287.44 L622.49,287.44 C622.07,288.99 621.04,289.61 619.49,289.82 L619.49,291.17 C620.63,291.06 621.56,290.75 622.07,290.23 Z" fill="#d0121c" stroke="#d0121c" stroke-width="0.21"/>
<text x="627.00" y="298.20" font-size="15" fill="#d0121c" stroke="#d0121c" stroke-width="0.35">7</text>
<text x="511.36" y="307.20" font-size="15" fill="#d0121c" stroke="#d0121c" stroke-width="0.35">2</text>
<text x="519.70" y="307.20" font-size="15" fill="#d0121c" stroke="#d0121c" stroke-width="0.35">4</text>
<path d="M377.74,266.70 L379.61,266.70 L379.61,255.94 L378.16,255.94 C377.74,257.49 376.71,258.11 375.16,258.32 L375.16,259.67 C376.30,259.56 377.23,259.25 377.74,258.73 Z" fill="#d0121c" stroke="#d0121c" stroke-width="0.21"/>
<polyline points="508.5,32.5 508.5,53.3" fill="none" stroke="#d42a2a" stroke-width="1.1"/>
<polygon points="508.5,53.3 506.4,46.3 510.6,46.3" fill="#d0121c"/>
<polyline points="443.5,75.4 443.5,95.0" fill="none" stroke="#d42a2a" stroke-width="1.1"/>
<polygon points="443.5,95.0 441.4,88.0 445.6,88.0" fill="#d0121c"/>
<polyline points="383.4,109.5 403.0,109.5" fill="none" stroke="#d42a2a" stroke-width="1.1"/>
<polygon points="403.0,109.5 396.0,111.6 396.0,107.4" fill="#d0121c"/>
<polyline points="405.5,141.7 423.7,132.6" fill="none" stroke="#d42a2a" stroke-width="1.1"/>
<polygon points="423.7,132.6 418.4,137.6 416.5,133.9" fill="#d0121c"/>
<polyline points="383.6,177.5 406.6,177.5" fill="none" stroke="#d42a2a" stroke-width="1.1"/>
<polygon points="406.6,177.5 399.6,179.6 399.6,175.4" fill="#d0121c"/>
<polyline points="386.0,261.5 404.6,261.5" fill="none" stroke="#d42a2a" stroke-width="1.1"/>
<polygon points="404.6,261.5 397.6,263.6 397.6,259.4" fill="#d0121c"/>
<polyline points="538.0,165.0 561.0,186.5" fill="none" stroke="#d42a2a" stroke-width="1.1"/>
<polygon points="561.0,186.5 554.5,183.3 557.3,180.2" fill="#d0121c"/>
<polyline points="604.4,191.5 591.5,191.5 591.5,205.8" fill="none" stroke="#d42a2a" stroke-width="1.1"/>
<polygon points="591.5,205.8 589.4,198.8 593.6,198.8" fill="#d0121c"/>
<polyline points="689.4,222.5 663.0,222.5" fill="none" stroke="#d42a2a" stroke-width="1.1"/>
<polygon points="663.0,222.5 670.0,220.4 670.0,224.6" fill="#d0121c"/>
<polyline points="617.3,294.5 591.6,294.5" fill="none" stroke="#d42a2a" stroke-width="1.1"/>
<polygon points="591.6,294.5 598.6,292.4 598.6,296.6" fill="#d0121c"/>
<polyline points="520.5,295.3 520.5,264.4" fill="none" stroke="#d42a2a" stroke-width="1.1"/>
<polygon points="520.5,264.4 522.6,271.4 518.4,271.4" fill="#d0121c"/>
<g transform="translate(579.6,133.1)">
<rect x="0.5" y="0.5" width="40.5" height="46.5" fill="#f6e6de" stroke="#d55" stroke-width="1"/>
<g stroke="#444" stroke-width="0.8" fill="#b9b0ad">
<path d="M5,6 L5,12 L3,13 L3,17 L5,18.5 L5,25 Q10.5,27.5 16,25 L16,18.5 L18.5,17 L18.5,13 L16,12 L16,6 Z"/>
<ellipse cx="10.5" cy="6" rx="5.5" ry="2.8" fill="#ddd"/>
<ellipse cx="10.5" cy="6" rx="3" ry="1.5" fill="#fff"/>
<path d="M3,13 Q10.5,16 18.5,13 M5,18.5 Q10.5,20.5 16,18.5" fill="none"/>
<ellipse cx="10.5" cy="32" rx="4" ry="2.4" fill="#999"/>
<ellipse cx="10.8" cy="40.5" rx="4.8" ry="2.5" fill="#eee"/>
<ellipse cx="10.8" cy="40.5" rx="3" ry="1.3" fill="#f6e6de"/>
</g>
<polyline points="50.4,-4.5 29.6,-4.5 17.0,7.5" fill="none" stroke="#d42a2a" stroke-width="1.1"/>
<polygon points="17.0,7.5 20.6,1.2 23.5,4.2" fill="#d0121c"/>
<polyline points="50.4,15.5 28.7,15.5 13.5,30.2" fill="none" stroke="#d42a2a" stroke-width="1.1"/>
<polygon points="13.5,30.2 17.1,23.8 20.0,26.8" fill="#d0121c"/>
<polyline points="50.4,27.5 27.5,27.5 16.1,39.2" fill="none" stroke="#d42a2a" stroke-width="1.1"/>
<polygon points="16.1,39.2 19.5,32.7 22.5,35.7" fill="#d0121c"/>
<path d="M55.57,0.00 L57.44,0.00 L57.44,-10.76 L55.99,-10.76 C55.57,-9.21 54.54,-8.59 52.99,-8.38 L52.99,-7.03 C54.13,-7.14 55.06,-7.45 55.57,-7.97 Z" fill="#d0121c" stroke="#d0121c" stroke-width="0.21"/>
<text x="60.50" y="0.00" font-size="15" fill="#d0121c" stroke="#d0121c" stroke-width="0.35">2</text>
<path d="M55.57,18.70 L57.44,18.70 L57.44,7.94 L55.99,7.94 C55.57,9.49 54.54,10.11 52.99,10.32 L52.99,11.67 C54.13,11.56 55.06,11.25 55.57,10.73 Z" fill="#d0121c" stroke="#d0121c" stroke-width="0.21"/>
<text x="60.50" y="18.70" font-size="15" fill="#d0121c" stroke="#d0121c" stroke-width="0.35">4</text>
<path d="M55.57,36.20 L57.44,36.20 L57.44,25.44 L55.99,25.44 C55.57,26.99 54.54,27.61 52.99,27.82 L52.99,29.17 C54.13,29.06 55.06,28.75 55.57,28.23 Z" fill="#d0121c" stroke="#d0121c" stroke-width="0.21"/>
<text x="60.50" y="36.20" font-size="15" fill="#d0121c" stroke="#d0121c" stroke-width="0.35">5</text>
<path d="M27.47,44.70 L29.34,44.70 L29.34,33.94 L27.89,33.94 C27.47,35.49 26.44,36.11 24.89,36.32 L24.89,37.67 C26.03,37.56 26.96,37.25 27.47,36.73 Z" fill="#d0121c" stroke="#d0121c" stroke-width="0.21"/>
<path d="M35.81,44.70 L37.68,44.70 L37.68,33.94 L36.23,33.94 C35.81,35.49 34.78,36.11 33.23,36.32 L33.23,37.67 C34.37,37.56 35.30,37.25 35.81,36.73 Z" fill="#d0121c" stroke="#d0121c" stroke-width="0.21"/>
</g>
<text x="233.26" y="381.50" font-size="15" fill="#d0121c" stroke="#d0121c" stroke-width="0.35">3</text>
<text x="241.60" y="381.50" font-size="15" fill="#d0121c" stroke="#d0121c" stroke-width="0.35">8</text>
<text x="187.76" y="440.30" font-size="15" fill="#d0121c" stroke="#d0121c" stroke-width="0.35">3</text>
<text x="196.10" y="440.30" font-size="15" fill="#d0121c" stroke="#d0121c" stroke-width="0.35">8</text>
<text x="46.76" y="569.30" font-size="15" fill="#d0121c" stroke="#d0121c" stroke-width="0.35">3</text>
<text x="55.10" y="569.30" font-size="15" fill="#d0121c" stroke="#d0121c" stroke-width="0.35">7</text>
<text x="122.56" y="592.70" font-size="15" fill="#d0121c" stroke="#d0121c" stroke-width="0.35">2</text>
<text x="130.90" y="592.70" font-size="15" fill="#d0121c" stroke="#d0121c" stroke-width="0.35">4</text>
<text x="165.36" y="643.70" font-size="15" fill="#d0121c" stroke="#d0121c" stroke-width="0.35">2</text>
<text x="173.70" y="643.70" font-size="15" fill="#d0121c" stroke="#d0121c" stroke-width="0.35">3</text>
<path d="M258.07,558.00 L259.94,558.00 L259.94,547.24 L258.49,547.24 C258.07,548.79 257.04,549.41 255.49,549.62 L255.49,550.97 C256.63,550.86 257.56,550.55 258.07,550.03 Z" fill="#d0121c" stroke="#d0121c" stroke-width="0.21"/>
<text x="263.00" y="558.00" font-size="15" fill="#d0121c" stroke="#d0121c" stroke-width="0.35">6</text>
<path d="M360.87,568.90 L362.74,568.90 L362.74,558.14 L361.29,558.14 C360.87,559.69 359.84,560.31 358.29,560.52 L358.29,561.87 C359.43,561.76 360.36,561.45 360.87,560.93 Z" fill="#d0121c" stroke="#d0121c" stroke-width="0.21"/>
<text x="365.80" y="568.90" font-size="15" fill="#d0121c" stroke="#d0121c" stroke-width="0.35">3</text>
<path d="M353.57,649.00 L355.44,649.00 L355.44,638.24 L353.99,638.24 C353.57,639.79 352.54,640.41 350.99,640.62 L350.99,641.97 C352.13,641.86 353.06,641.55 353.57,641.03 Z" fill="#d0121c" stroke="#d0121c" stroke-width="0.21"/>
<text x="358.50" y="649.00" font-size="15" fill="#d0121c" stroke="#d0121c" stroke-width="0.35">7</text>
<polyline points="240.5,386.3 240.5,412.3" fill="none" stroke="#d42a2a" stroke-width="1.1"/>
<polygon points="240.5,412.3 238.4,405.3 242.6,405.3" fill="#d0121c"/>
<polyline points="196.5,445.0 196.5,471.0" fill="none" stroke="#d42a2a" stroke-width="1.1"/>
<polygon points="196.5,471.0 194.4,464.0 198.6,464.0" fill="#d0121c"/>
<polyline points="54.5,554.0 54.5,523.8" fill="none" stroke="#d42a2a" stroke-width="1.1"/>
<polygon points="54.5,523.8 56.6,530.8 52.4,530.8" fill="#d0121c"/>
<polyline points="130.5,576.0 130.5,546.2" fill="none" stroke="#d42a2a" stroke-width="1.1"/>
<polygon points="130.5,546.2 132.6,553.2 128.4,553.2" fill="#d0121c"/>
<polyline points="172.5,628.6 172.5,574.3" fill="none" stroke="#d42a2a" stroke-width="1.1"/>
<polygon points="172.5,574.3 174.6,581.3 170.4,581.3" fill="#d0121c"/>
<polyline points="172.7,596.0 197.2,574.3" fill="none" stroke="#d42a2a" stroke-width="1.1"/>
<polygon points="197.2,574.3 193.4,580.5 190.6,577.4" fill="#d0121c"/>
<polyline points="172.7,596.0 213.0,588.3" fill="none" stroke="#d42a2a" stroke-width="1.1"/>
<polygon points="213.0,588.3 206.5,591.7 205.7,587.6" fill="#d0121c"/>
<polyline points="275.7,552.5 292.0,552.5" fill="none" stroke="#d42a2a" stroke-width="1.1"/>
<polygon points="292.0,552.5 285.0,554.6 285.0,550.4" fill="#d0121c"/>
<polyline points="354.0,563.5 328.5,563.5" fill="none" stroke="#d42a2a" stroke-width="1.1"/>
<polygon points="328.5,563.5 335.5,561.4 335.5,565.6" fill="#d0121c"/>
<polyline points="346.7,644.5 323.0,644.5" fill="none" stroke="#d42a2a" stroke-width="1.1"/>
<polygon points="323.0,644.5 330.0,642.4 330.0,646.6" fill="#d0121c"/>
<g transform="translate(312,491.4)">
<rect x="0.5" y="0.5" width="40.5" height="46.5" fill="#f6e6de" stroke="#d55" stroke-width="1"/>
<g stroke="#444" stroke-width="0.8" fill="#b9b0ad">
<path d="M5,6 L5,12 L3,13 L3,17 L5,18.5 L5,25 Q10.5,27.5 16,25 L16,18.5 L18.5,17 L18.5,13 L16,12 L16,6 Z"/>
<ellipse cx="10.5" cy="6" rx="5.5" ry="2.8" fill="#ddd"/>
<ellipse cx="10.5" cy="6" rx="3" ry="1.5" fill="#fff"/>
<path d="M3,13 Q10.5,16 18.5,13 M5,18.5 Q10.5,20.5 16,18.5" fill="none"/>
<ellipse cx="10.5" cy="32" rx="4" ry="2.4" fill="#999"/>
<ellipse cx="10.8" cy="40.5" rx="4.8" ry="2.5" fill="#eee"/>
<ellipse cx="10.8" cy="40.5" rx="3" ry="1.3" fill="#f6e6de"/>
</g>
<polyline points="50.4,-4.5 29.6,-4.5 17.0,7.5" fill="none" stroke="#d42a2a" stroke-width="1.1"/>
<polygon points="17.0,7.5 20.6,1.2 23.5,4.2" fill="#d0121c"/>
<polyline points="50.4,15.5 28.7,15.5 13.5,30.2" fill="none" stroke="#d42a2a" stroke-width="1.1"/>
<polygon points="13.5,30.2 17.1,23.8 20.0,26.8" fill="#d0121c"/>
<polyline points="50.4,27.5 27.5,27.5 16.1,39.2" fill="none" stroke="#d42a2a" stroke-width="1.1"/>
<polygon points="16.1,39.2 19.5,32.7 22.5,35.7" fill="#d0121c"/>
<path d="M55.57,0.00 L57.44,0.00 L57.44,-10.76 L55.99,-10.76 C55.57,-9.21 54.54,-8.59 52.99,-8.38 L52.99,-7.03 C54.13,-7.14 55.06,-7.45 55.57,-7.97 Z" fill="#d0121c" stroke="#d0121c" stroke-width="0.21"/>
<text x="60.50" y="0.00" font-size="15" fill="#d0121c" stroke="#d0121c" stroke-width="0.35">2</text>
<path d="M55.57,18.70 L57.44,18.70 L57.44,7.94 L55.99,7.94 C55.57,9.49 54.54,10.11 52.99,10.32 L52.99,11.67 C54.13,11.56 55.06,11.25 55.57,10.73 Z" fill="#d0121c" stroke="#d0121c" stroke-width="0.21"/>
<text x="60.50" y="18.70" font-size="15" fill="#d0121c" stroke="#d0121c" stroke-width="0.35">4</text>
<path d="M55.57,36.20 L57.44,36.20 L57.44,25.44 L55.99,25.44 C55.57,26.99 54.54,27.61 52.99,27.82 L52.99,29.17 C54.13,29.06 55.06,28.75 55.57,28.23 Z" fill="#d0121c" stroke="#d0121c" stroke-width="0.21"/>
<text x="60.50" y="36.20" font-size="15" fill="#d0121c" stroke="#d0121c" stroke-width="0.35">5</text>
<path d="M27.47,44.70 L29.34,44.70 L29.34,33.94 L27.89,33.94 C27.47,35.49 26.44,36.11 24.89,36.32 L24.89,37.67 C26.03,37.56 26.96,37.25 27.47,36.73 Z" fill="#d0121c" stroke="#d0121c" stroke-width="0.21"/>
<path d="M35.81,44.70 L37.68,44.70 L37.68,33.94 L36.23,33.94 C35.81,35.49 34.78,36.11 33.23,36.32 L33.23,37.67 C34.37,37.56 35.30,37.25 35.81,36.73 Z" fill="#d0121c" stroke="#d0121c" stroke-width="0.21"/>
</g>
<text x="619.73" y="385.00" font-size="15" fill="#d0121c" stroke="#d0121c" stroke-width="0.35">9</text>
<path d="M614.97,439.50 L616.84,439.50 L616.84,428.74 L615.39,428.74 C614.97,430.29 613.94,430.91 612.39,431.12 L612.39,432.47 C613.53,432.36 614.46,432.05 614.97,431.53 Z" fill="#d0121c" stroke="#d0121c" stroke-width="0.21"/>
<text x="619.90" y="439.50" font-size="15" fill="#d0121c" stroke="#d0121c" stroke-width="0.35">0</text>
<path d="M650.07,505.70 L651.94,505.70 L651.94,494.94 L650.49,494.94 C650.07,496.49 649.04,497.11 647.49,497.32 L647.49,498.67 C648.63,498.56 649.56,498.25 650.07,497.73 Z" fill="#d0121c" stroke="#d0121c" stroke-width="0.21"/>
<text x="655.00" y="505.70" font-size="15" fill="#d0121c" stroke="#d0121c" stroke-width="0.35">6</text>
<path d="M648.27,528.70 L650.14,528.70 L650.14,517.94 L648.69,517.94 C648.27,519.49 647.24,520.11 645.69,520.32 L645.69,521.67 C646.83,521.56 647.76,521.25 648.27,520.73 Z" fill="#d0121c" stroke="#d0121c" stroke-width="0.21"/>
<text x="653.20" y="528.70" font-size="15" fill="#d0121c" stroke="#d0121c" stroke-width="0.35">3</text>
<path d="M747.27,539.90 L749.14,539.90 L749.14,529.14 L747.69,529.14 C747.27,530.69 746.24,531.31 744.69,531.52 L744.69,532.87 C745.83,532.76 746.76,532.45 747.27,531.93 Z" fill="#d0121c" stroke="#d0121c" stroke-width="0.21"/>
<text x="752.20" y="539.90" font-size="15" fill="#d0121c" stroke="#d0121c" stroke-width="0.35">3</text>
<text x="608.16" y="505.70" font-size="15" fill="#d0121c" stroke="#d0121c" stroke-width="0.35">2</text>
<path d="M619.91,505.70 L621.78,505.70 L621.78,494.94 L620.33,494.94 C619.91,496.49 618.88,497.11 617.33,497.32 L617.33,498.67 C618.47,498.56 619.40,498.25 619.91,497.73 Z" fill="#d0121c" stroke="#d0121c" stroke-width="0.21"/>
<text x="445.26" y="568.50" font-size="15" fill="#d0121c" stroke="#d0121c" stroke-width="0.35">2</text>
<text x="453.60" y="568.50" font-size="15" fill="#d0121c" stroke="#d0121c" stroke-width="0.35">0</text>
<text x="452.43" y="605.40" font-size="15" fill="#d0121c" stroke="#d0121c" stroke-width="0.35">2</text>
<path d="M456.24,628.70 L458.11,628.70 L458.11,617.94 L456.66,617.94 C456.24,619.49 455.21,620.11 453.66,620.32 L453.66,621.67 C454.80,621.56 455.73,621.25 456.24,620.73 Z" fill="#d0121c" stroke="#d0121c" stroke-width="0.21"/>
<path d="M449.37,660.00 L451.24,660.00 L451.24,649.24 L449.79,649.24 C449.37,650.79 448.34,651.41 446.79,651.62 L446.79,652.97 C447.93,652.86 448.86,652.55 449.37,652.03 Z" fill="#d0121c" stroke="#d0121c" stroke-width="0.21"/>
<text x="454.30" y="660.00" font-size="15" fill="#d0121c" stroke="#d0121c" stroke-width="0.35">9</text>
<text x="590.06" y="617.20" font-size="15" fill="#d0121c" stroke="#d0121c" stroke-width="0.35">2</text>
<text x="598.40" y="617.20" font-size="15" fill="#d0121c" stroke="#d0121c" stroke-width="0.35">3</text>
<text x="633.86" y="617.70" font-size="15" fill="#d0121c" stroke="#d0121c" stroke-width="0.35">2</text>
<text x="642.20" y="617.70" font-size="15" fill="#d0121c" stroke="#d0121c" stroke-width="0.35">4</text>
<text x="686.06" y="641.20" font-size="15" fill="#d0121c" stroke="#d0121c" stroke-width="0.35">2</text>
<text x="694.40" y="641.20" font-size="15" fill="#d0121c" stroke="#d0121c" stroke-width="0.35">2</text>
<polyline points="623.5,388.3 623.5,404.7" fill="none" stroke="#d42a2a" stroke-width="1.1"/>
<polygon points="623.5,404.7 621.4,397.7 625.6,397.7" fill="#d0121c"/>
<polyline points="619.5,443.4 619.5,462.7" fill="none" stroke="#d42a2a" stroke-width="1.1"/>
<polygon points="619.5,462.7 617.4,455.7 621.6,455.7" fill="#d0121c"/>
<polyline points="606.0,500.5 580.2,500.5" fill="none" stroke="#d42a2a" stroke-width="1.1"/>
<polygon points="580.2,500.5 587.2,498.4 587.2,502.6" fill="#d0121c"/>
<polyline points="465.5,562.5 484.6,562.5" fill="none" stroke="#d42a2a" stroke-width="1.1"/>
<polygon points="484.6,562.5 477.6,564.6 477.6,560.4" fill="#d0121c"/>
<polyline points="463.3,600.5 479.0,600.5" fill="none" stroke="#d42a2a" stroke-width="1.1"/>
<polygon points="479.0,600.5 472.0,602.6 472.0,598.4" fill="#d0121c"/>
<polyline points="463.3,623.5 480.5,623.5" fill="none" stroke="#d42a2a" stroke-width="1.1"/>
<polygon points="480.5,623.5 473.5,625.6 473.5,621.4" fill="#d0121c"/>
<polyline points="465.0,654.5 497.0,654.5" fill="none" stroke="#d42a2a" stroke-width="1.1"/>
<polygon points="497.0,654.5 490.0,656.6 490.0,652.4" fill="#d0121c"/>
<polyline points="599.5,603.0 599.5,557.9" fill="none" stroke="#d42a2a" stroke-width="1.1"/>
<polygon points="599.5,557.9 601.6,564.9 597.4,564.9" fill="#d0121c"/>
<polyline points="599.3,578.4 617.0,560.6" fill="none" stroke="#d42a2a" stroke-width="1.1"/>
<polygon points="617.0,560.6 613.6,567.0 610.6,564.1" fill="#d0121c"/>
<polyline points="599.3,578.4 637.5,574.3" fill="none" stroke="#d42a2a" stroke-width="1.1"/>
<polygon points="637.5,574.3 630.8,577.1 630.3,573.0" fill="#d0121c"/>
<polyline points="640.5,604.6 640.5,586.2" fill="none" stroke="#d42a2a" stroke-width="1.1"/>
<polygon points="640.5,586.2 642.6,593.2 638.4,593.2" fill="#d0121c"/>
<polyline points="693.5,627.5 693.5,610.8" fill="none" stroke="#d42a2a" stroke-width="1.1"/>
<polygon points="693.5,610.8 695.6,617.8 691.4,617.8" fill="#d0121c"/>
<polyline points="660.6,509.0 675.5,522.3" fill="none" stroke="#d42a2a" stroke-width="1.1"/>
<polygon points="675.5,522.3 668.9,519.2 671.7,516.1" fill="#d0121c"/>
<polyline points="656.0,531.2 672.5,546.0" fill="none" stroke="#d42a2a" stroke-width="1.1"/>
<polygon points="672.5,546.0 665.9,542.9 668.7,539.8" fill="#d0121c"/>
<polyline points="742.5,534.5 712.0,534.5" fill="none" stroke="#d42a2a" stroke-width="1.1"/>
<polygon points="712.0,534.5 719.0,532.4 719.0,536.6" fill="#d0121c"/>
<g transform="translate(692.5,472.6)">
<rect x="0.5" y="0.5" width="40.5" height="46.5" fill="#f6e6de" stroke="#d55" stroke-width="1"/>
<g stroke="#444" stroke-width="0.8" fill="#b9b0ad">
<path d="M5,6 L5,12 L3,13 L3,17 L5,18.5 L5,25 Q10.5,27.5 16,25 L16,18.5 L18.5,17 L18.5,13 L16,12 L16,6 Z"/>
<ellipse cx="10.5" cy="6" rx="5.5" ry="2.8" fill="#ddd"/>
<ellipse cx="10.5" cy="6" rx="3" ry="1.5" fill="#fff"/>
<path d="M3,13 Q10.5,16 18.5,13 M5,18.5 Q10.5,20.5 16,18.5" fill="none"/>
<ellipse cx="10.5" cy="32" rx="4" ry="2.4" fill="#999"/>
<ellipse cx="10.8" cy="40.5" rx="4.8" ry="2.5" fill="#eee"/>
<ellipse cx="10.8" cy="40.5" rx="3" ry="1.3" fill="#f6e6de"/>
</g>
<polyline points="50.4,-4.5 29.6,-4.5 17.0,7.5" fill="none" stroke="#d42a2a" stroke-width="1.1"/>
<polygon points="17.0,7.5 20.6,1.2 23.5,4.2" fill="#d0121c"/>
<polyline points="50.4,15.5 28.7,15.5 13.5,30.2" fill="none" stroke="#d42a2a" stroke-width="1.1"/>
<polygon points="13.5,30.2 17.1,23.8 20.0,26.8" fill="#d0121c"/>
<polyline points="50.4,27.5 27.5,27.5 16.1,39.2" fill="none" stroke="#d42a2a" stroke-width="1.1"/>
<polygon points="16.1,39.2 19.5,32.7 22.5,35.7" fill="#d0121c"/>
<path d="M55.57,0.00 L57.44,0.00 L57.44,-10.76 L55.99,-10.76 C55.57,-9.21 54.54,-8.59 52.99,-8.38 L52.99,-7.03 C54.13,-7.14 55.06,-7.45 55.57,-7.97 Z" fill="#d0121c" stroke="#d0121c" stroke-width="0.21"/>
<text x="60.50" y="0.00" font-size="15" fill="#d0121c" stroke="#d0121c" stroke-width="0.35">2</text>
<path d="M55.57,18.70 L57.44,18.70 L57.44,7.94 L55.99,7.94 C55.57,9.49 54.54,10.11 52.99,10.32 L52.99,11.67 C54.13,11.56 55.06,11.25 55.57,10.73 Z" fill="#d0121c" stroke="#d0121c" stroke-width="0.21"/>
<text x="60.50" y="18.70" font-size="15" fill="#d0121c" stroke="#d0121c" stroke-width="0.35">4</text>
<path d="M55.57,36.20 L57.44,36.20 L57.44,25.44 L55.99,25.44 C55.57,26.99 54.54,27.61 52.99,27.82 L52.99,29.17 C54.13,29.06 55.06,28.75 55.57,28.23 Z" fill="#d0121c" stroke="#d0121c" stroke-width="0.21"/>
<text x="60.50" y="36.20" font-size="15" fill="#d0121c" stroke="#d0121c" stroke-width="0.35">5</text>
<path d="M27.47,44.70 L29.34,44.70 L29.34,33.94 L27.89,33.94 C27.47,35.49 26.44,36.11 24.89,36.32 L24.89,37.67 C26.03,37.56 26.96,37.25 27.47,36.73 Z" fill="#d0121c" stroke="#d0121c" stroke-width="0.21"/>
<path d="M35.81,44.70 L37.68,44.70 L37.68,33.94 L36.23,33.94 C35.81,35.49 34.78,36.11 33.23,36.32 L33.23,37.67 C34.37,37.56 35.30,37.25 35.81,36.73 Z" fill="#d0121c" stroke="#d0121c" stroke-width="0.21"/>
</g>
<text x="415.56" y="768.10" font-size="15" fill="#d0121c" stroke="#d0121c" stroke-width="0.35">3</text>
<text x="423.90" y="768.10" font-size="15" fill="#d0121c" stroke="#d0121c" stroke-width="0.35">6</text>
<text x="431.56" y="781.60" font-size="15" fill="#d0121c" stroke="#d0121c" stroke-width="0.35">3</text>
<text x="439.90" y="781.60" font-size="15" fill="#d0121c" stroke="#d0121c" stroke-width="0.35">0</text>
<text x="336.16" y="802.70" font-size="15" fill="#d0121c" stroke="#d0121c" stroke-width="0.35">3</text>
<text x="344.50" y="802.70" font-size="15" fill="#d0121c" stroke="#d0121c" stroke-width="0.35">5</text>
<text x="411.06" y="807.00" font-size="15" fill="#d0121c" stroke="#d0121c" stroke-width="0.35">3</text>
<text x="419.40" y="807.00" font-size="15" fill="#d0121c" stroke="#d0121c" stroke-width="0.35">4</text>
<text x="487.66" y="808.50" font-size="15" fill="#d0121c" stroke="#d0121c" stroke-width="0.35">3</text>
<text x="496.00" y="808.50" font-size="15" fill="#d0121c" stroke="#d0121c" stroke-width="0.35">2</text>
<text x="537.16" y="792.90" font-size="15" fill="#d0121c" stroke="#d0121c" stroke-width="0.35">2</text>
<text x="545.50" y="792.90" font-size="15" fill="#d0121c" stroke="#d0121c" stroke-width="0.35">9</text>
<text x="376.96" y="837.00" font-size="15" fill="#d0121c" stroke="#d0121c" stroke-width="0.35">3</text>
<text x="385.30" y="837.00" font-size="15" fill="#d0121c" stroke="#d0121c" stroke-width="0.35">3</text>
<text x="476.06" y="825.00" font-size="15" fill="#d0121c" stroke="#d0121c" stroke-width="0.35">3</text>
<path d="M487.81,825.00 L489.68,825.00 L489.68,814.24 L488.23,814.24 C487.81,815.79 486.78,816.41 485.23,816.62 L485.23,817.97 C486.37,817.86 487.30,817.55 487.81,817.03 Z" fill="#d0121c" stroke="#d0121c" stroke-width="0.21"/>
<text x="422.56" y="830.90" font-size="15" fill="#d0121c" stroke="#d0121c" stroke-width="0.35">3</text>
<text x="430.90" y="830.90" font-size="15" fill="#d0121c" stroke="#d0121c" stroke-width="0.35">0</text>
<text x="402.96" y="851.00" font-size="15" fill="#d0121c" stroke="#d0121c" stroke-width="0.35">2</text>
<text x="411.30" y="851.00" font-size="15" fill="#d0121c" stroke="#d0121c" stroke-width="0.35">8</text>
<text x="377.96" y="891.20" font-size="15" fill="#d0121c" stroke="#d0121c" stroke-width="0.35">2</text>
<text x="386.30" y="891.20" font-size="15" fill="#d0121c" stroke="#d0121c" stroke-width="0.35">7</text>
<text x="415.46" y="901.70" font-size="15" fill="#d0121c" stroke="#d0121c" stroke-width="0.35">2</text>
<text x="423.80" y="901.70" font-size="15" fill="#d0121c" stroke="#d0121c" stroke-width="0.35">6</text>
<path d="M418.17,921.50 L420.04,921.50 L420.04,910.74 L418.59,910.74 C418.17,912.29 417.14,912.91 415.59,913.12 L415.59,914.47 C416.73,914.36 417.66,914.05 418.17,913.53 Z" fill="#d0121c" stroke="#d0121c" stroke-width="0.21"/>
<text x="423.10" y="921.50" font-size="15" fill="#d0121c" stroke="#d0121c" stroke-width="0.35">3</text>
<path d="M418.17,938.70 L420.04,938.70 L420.04,927.94 L418.59,927.94 C418.17,929.49 417.14,930.11 415.59,930.32 L415.59,931.67 C416.73,931.56 417.66,931.25 418.17,930.73 Z" fill="#d0121c" stroke="#d0121c" stroke-width="0.21"/>
<text x="423.10" y="938.70" font-size="15" fill="#d0121c" stroke="#d0121c" stroke-width="0.35">6</text>
<path d="M529.17,949.20 L531.04,949.20 L531.04,938.44 L529.59,938.44 C529.17,939.99 528.14,940.61 526.59,940.82 L526.59,942.17 C527.73,942.06 528.66,941.75 529.17,941.23 Z" fill="#d0121c" stroke="#d0121c" stroke-width="0.21"/>
<text x="534.10" y="949.20" font-size="15" fill="#d0121c" stroke="#d0121c" stroke-width="0.35">3</text>
<text x="383.36" y="910.70" font-size="15" fill="#d0121c" stroke="#d0121c" stroke-width="0.35">2</text>
<path d="M395.11,910.70 L396.98,910.70 L396.98,899.94 L395.53,899.94 C395.11,901.49 394.08,902.11 392.53,902.32 L392.53,903.67 C393.67,903.56 394.60,903.25 395.11,902.73 Z" fill="#d0121c" stroke="#d0121c" stroke-width="0.21"/>
<text x="218.96" y="975.70" font-size="15" fill="#d0121c" stroke="#d0121c" stroke-width="0.35">2</text>
<text x="227.30" y="975.70" font-size="15" fill="#d0121c" stroke="#d0121c" stroke-width="0.35">0</text>
<path d="M231.74,1021.30 L233.61,1021.30 L233.61,1010.54 L232.16,1010.54 C231.74,1012.09 230.71,1012.71 229.16,1012.92 L229.16,1014.27 C230.30,1014.16 231.23,1013.85 231.74,1013.33 Z" fill="#d0121c" stroke="#d0121c" stroke-width="0.21"/>
<text x="364.56" y="1028.70" font-size="15" fill="#d0121c" stroke="#d0121c" stroke-width="0.35">2</text>
<text x="372.90" y="1028.70" font-size="15" fill="#d0121c" stroke="#d0121c" stroke-width="0.35">3</text>
<text x="412.96" y="1027.70" font-size="15" fill="#d0121c" stroke="#d0121c" stroke-width="0.35">2</text>
<text x="421.30" y="1027.70" font-size="15" fill="#d0121c" stroke="#d0121c" stroke-width="0.35">4</text>
<text x="521.06" y="1009.20" font-size="15" fill="#d0121c" stroke="#d0121c" stroke-width="0.35">2</text>
<text x="529.40" y="1009.20" font-size="15" fill="#d0121c" stroke="#d0121c" stroke-width="0.35">5</text>
<polyline points="413.4,762.5 397.0,762.5" fill="none" stroke="#d42a2a" stroke-width="1.1"/>
<polygon points="397.0,762.5 404.0,760.4 404.0,764.6" fill="#d0121c"/>
<polyline points="429.8,777.5 410.4,777.5" fill="none" stroke="#d42a2a" stroke-width="1.1"/>
<polygon points="410.4,777.5 417.4,775.4 417.4,779.6" fill="#d0121c"/>
<polyline points="354.5,796.5 370.0,796.5" fill="none" stroke="#d42a2a" stroke-width="1.1"/>
<polygon points="370.0,796.5 363.0,798.6 363.0,794.4" fill="#d0121c"/>
<polyline points="410.4,798.5 395.4,798.5" fill="none" stroke="#d42a2a" stroke-width="1.1"/>
<polygon points="395.4,798.5 402.4,796.4 402.4,800.6" fill="#d0121c"/>
<polyline points="384.5,824.5 389.7,813.0" fill="none" stroke="#d42a2a" stroke-width="1.1"/>
<polygon points="389.7,813.0 388.7,820.2 384.9,818.5" fill="#d0121c"/>
<polyline points="485.2,803.5 465.7,803.5" fill="none" stroke="#d42a2a" stroke-width="1.1"/>
<polygon points="465.7,803.5 472.7,801.4 472.7,805.6" fill="#d0121c"/>
<polyline points="477.7,826.7 464.2,843.2" fill="none" stroke="#d42a2a" stroke-width="1.1"/>
<polygon points="464.2,843.2 467.0,836.5 470.3,839.1" fill="#d0121c"/>
<polyline points="441.0,823.5 458.2,823.5" fill="none" stroke="#d42a2a" stroke-width="1.1"/>
<polygon points="458.2,823.5 451.2,825.6 451.2,821.4" fill="#d0121c"/>
<polyline points="446.3,823.8 441.8,853.7" fill="none" stroke="#d42a2a" stroke-width="1.1"/>
<polygon points="441.8,853.7 440.8,846.5 444.9,847.1" fill="#d0121c"/>
<polyline points="545.5,795.3 545.5,813.3" fill="none" stroke="#d42a2a" stroke-width="1.1"/>
<polygon points="545.5,813.3 543.4,806.3 547.6,806.3" fill="#d0121c"/>
<polyline points="411.5,855.2 411.5,870.0" fill="none" stroke="#d42a2a" stroke-width="1.1"/>
<polygon points="411.5,870.0 409.4,863.0 413.6,863.0" fill="#d0121c"/>
<polyline points="396.0,886.5 435.5,886.5 456.5,874.8" fill="none" stroke="#d42a2a" stroke-width="1.1"/>
<polygon points="456.5,874.8 451.4,880.0 449.4,876.4" fill="#d0121c"/>
<polyline points="434.2,896.5 452.8,896.5" fill="none" stroke="#d42a2a" stroke-width="1.1"/>
<polygon points="452.8,896.5 445.8,898.6 445.8,894.4" fill="#d0121c"/>
<polyline points="434.7,916.5 454.0,916.5" fill="none" stroke="#d42a2a" stroke-width="1.1"/>
<polygon points="454.0,916.5 447.0,918.6 447.0,914.4" fill="#d0121c"/>
<polyline points="434.7,934.5 454.0,934.5" fill="none" stroke="#d42a2a" stroke-width="1.1"/>
<polygon points="454.0,934.5 447.0,936.6 447.0,932.4" fill="#d0121c"/>
<polyline points="524.4,944.5 493.5,944.5" fill="none" stroke="#d42a2a" stroke-width="1.1"/>
<polygon points="493.5,944.5 500.5,942.4 500.5,946.6" fill="#d0121c"/>
<polyline points="518.3,1003.5 497.3,1003.5" fill="none" stroke="#d42a2a" stroke-width="1.1"/>
<polygon points="497.3,1003.5 504.3,1001.4 504.3,1005.6" fill="#d0121c"/>
<polyline points="421.5,1014.4 421.5,993.4" fill="none" stroke="#d42a2a" stroke-width="1.1"/>
<polygon points="421.5,993.4 423.6,1000.4 419.4,1000.4" fill="#d0121c"/>
<polyline points="371.5,1013.8 371.5,964.3" fill="none" stroke="#d42a2a" stroke-width="1.1"/>
<polygon points="371.5,964.3 373.6,971.3 369.4,971.3" fill="#d0121c"/>
<polyline points="371.6,989.0 392.5,969.5" fill="none" stroke="#d42a2a" stroke-width="1.1"/>
<polygon points="392.5,969.5 388.8,975.8 385.9,972.7" fill="#d0121c"/>
<polyline points="371.6,989.0 400.0,981.2" fill="none" stroke="#d42a2a" stroke-width="1.1"/>
<polygon points="400.0,981.2 393.8,985.1 392.7,981.0" fill="#d0121c"/>
<polyline points="382.0,907.5 360.0,907.5" fill="none" stroke="#d42a2a" stroke-width="1.1"/>
<polygon points="360.0,907.5 367.0,905.4 367.0,909.6" fill="#d0121c"/>
<polyline points="239.0,969.5 259.8,969.5" fill="none" stroke="#d42a2a" stroke-width="1.1"/>
<polygon points="259.8,969.5 252.8,971.6 252.8,967.4" fill="#d0121c"/>
<polyline points="237.7,1015.5 254.6,1015.5" fill="none" stroke="#d42a2a" stroke-width="1.1"/>
<polygon points="254.6,1015.5 247.6,1017.6 247.6,1013.4" fill="#d0121c"/>
<g transform="translate(473.3,884.2)">
<rect x="0.5" y="0.5" width="40.5" height="46.5" fill="#f6e6de" stroke="#d55" stroke-width="1"/>
<g stroke="#444" stroke-width="0.8" fill="#b9b0ad">
<path d="M5,6 L5,12 L3,13 L3,17 L5,18.5 L5,25 Q10.5,27.5 16,25 L16,18.5 L18.5,17 L18.5,13 L16,12 L16,6 Z"/>
<ellipse cx="10.5" cy="6" rx="5.5" ry="2.8" fill="#ddd"/>
<ellipse cx="10.5" cy="6" rx="3" ry="1.5" fill="#fff"/>
<path d="M3,13 Q10.5,16 18.5,13 M5,18.5 Q10.5,20.5 16,18.5" fill="none"/>
<ellipse cx="10.5" cy="32" rx="4" ry="2.4" fill="#999"/>
<ellipse cx="10.8" cy="40.5" rx="4.8" ry="2.5" fill="#eee"/>
<ellipse cx="10.8" cy="40.5" rx="3" ry="1.3" fill="#f6e6de"/>
</g>
<polyline points="50.4,-4.5 29.6,-4.5 17.0,7.5" fill="none" stroke="#d42a2a" stroke-width="1.1"/>
<polygon points="17.0,7.5 20.6,1.2 23.5,4.2" fill="#d0121c"/>
<polyline points="50.4,15.5 28.7,15.5 13.5,30.2" fill="none" stroke="#d42a2a" stroke-width="1.1"/>
<polygon points="13.5,30.2 17.1,23.8 20.0,26.8" fill="#d0121c"/>
<polyline points="50.4,27.5 27.5,27.5 16.1,39.2" fill="none" stroke="#d42a2a" stroke-width="1.1"/>
<polygon points="16.1,39.2 19.5,32.7 22.5,35.7" fill="#d0121c"/>
<path d="M55.57,0.00 L57.44,0.00 L57.44,-10.76 L55.99,-10.76 C55.57,-9.21 54.54,-8.59 52.99,-8.38 L52.99,-7.03 C54.13,-7.14 55.06,-7.45 55.57,-7.97 Z" fill="#d0121c" stroke="#d0121c" stroke-width="0.21"/>
<text x="60.50" y="0.00" font-size="15" fill="#d0121c" stroke="#d0121c" stroke-width="0.35">2</text>
<path d="M55.57,18.70 L57.44,18.70 L57.44,7.94 L55.99,7.94 C55.57,9.49 54.54,10.11 52.99,10.32 L52.99,11.67 C54.13,11.56 55.06,11.25 55.57,10.73 Z" fill="#d0121c" stroke="#d0121c" stroke-width="0.21"/>
<text x="60.50" y="18.70" font-size="15" fill="#d0121c" stroke="#d0121c" stroke-width="0.35">4</text>
<path d="M55.57,36.20 L57.44,36.20 L57.44,25.44 L55.99,25.44 C55.57,26.99 54.54,27.61 52.99,27.82 L52.99,29.17 C54.13,29.06 55.06,28.75 55.57,28.23 Z" fill="#d0121c" stroke="#d0121c" stroke-width="0.21"/>
<text x="60.50" y="36.20" font-size="15" fill="#d0121c" stroke="#d0121c" stroke-width="0.35">5</text>
<path d="M27.47,44.70 L29.34,44.70 L29.34,33.94 L27.89,33.94 C27.47,35.49 26.44,36.11 24.89,36.32 L24.89,37.67 C26.03,37.56 26.96,37.25 27.47,36.73 Z" fill="#d0121c" stroke="#d0121c" stroke-width="0.21"/>
<path d="M35.81,44.70 L37.68,44.70 L37.68,33.94 L36.23,33.94 C35.81,35.49 34.78,36.11 33.23,36.32 L33.23,37.67 C34.37,37.56 35.30,37.25 35.81,36.73 Z" fill="#d0121c" stroke="#d0121c" stroke-width="0.21"/>
</g>
<rect x="5.2" y="6.5" width="90.5" height="17" fill="#ffec00"/>
<text x="7.0" y="20.9" font-size="16" fill="#d0121c" stroke="#d0121c" stroke-width="0.25">STANDARD</text>
<rect x="4.7" y="352.2" width="87.6" height="16.6" fill="#ffec00"/>
<text x="6.5" y="366.59999999999997" font-size="16" fill="#d0121c" stroke="#d0121c" stroke-width="0.25">EXTERNAL</text>
<rect x="393" y="352.5" width="91" height="17.5" fill="#ffec00"/>
<text x="394.8" y="366.9" font-size="16" fill="#d0121c" stroke="#d0121c" stroke-width="0.25">COMPATTA</text>
<rect x="212" y="698.6" width="86" height="36.6" fill="#ffec00"/>
<text x="213.8" y="713.0" font-size="16" fill="#d0121c" stroke="#d0121c" stroke-width="0.25">CK-CKE</text>
<text x="213.8" y="731.6" font-size="16" fill="#d0121c" stroke="#d0121c" stroke-width="0.25">CKX-CKXE</text>
<text x="711.45" y="1070.00" font-size="15.5" fill="#111" stroke="#111" stroke-width="0.15">A</text>
<text x="721.79" y="1070.00" font-size="15.5" fill="#111" stroke="#111" stroke-width="0.15">S</text>
<text x="732.13" y="1070.00" font-size="15.5" fill="#111" stroke="#111" stroke-width="0.15">5</text>
<text x="740.75" y="1070.00" font-size="15.5" fill="#111" stroke="#111" stroke-width="0.15">6</text>
<text x="749.36" y="1070.00" font-size="15.5" fill="#111" stroke="#111" stroke-width="0.15">0</text>
<path d="M761.99,1070.00 L763.43,1070.00 L763.43,1058.88 L762.42,1058.88 C761.99,1060.49 760.92,1061.13 758.84,1061.34 L758.84,1062.73 C760.01,1062.62 761.46,1062.30 761.99,1061.77 Z" fill="#111" stroke="#111" stroke-width="0.09"/></svg></body></html>
